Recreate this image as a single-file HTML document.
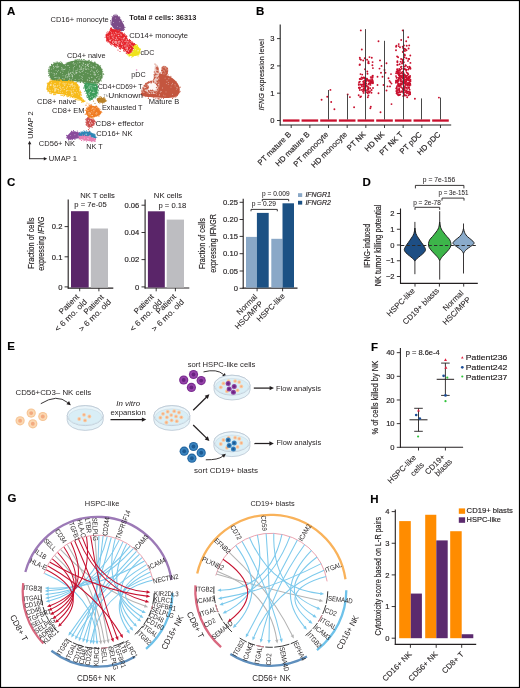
<!DOCTYPE html>
<html><head><meta charset="utf-8"><title>Figure</title>
<style>
html,body{margin:0;padding:0;background:#fff;}
body{width:520px;height:688px;overflow:hidden;}
svg{display:block;font-family:"Liberation Sans",sans-serif;will-change:transform;}
text{stroke:#231f20;stroke-width:0.16px;}
.xl{stroke-width:0.08px;}
.pv{stroke-width:0.05px;}
.ns text{stroke:none;}
</style></head><body>
<svg width="520" height="688" viewBox="0 0 520 688">
<rect x="0" y="0" width="520" height="688" fill="#fff"/>
<text x="7.00" y="15.30" font-size="11.5" text-anchor="start" font-weight="bold" font-style="normal" fill="#000" >A</text>
<text x="256.00" y="15.30" font-size="11.5" text-anchor="start" font-weight="bold" font-style="normal" fill="#000" >B</text>
<text x="7.00" y="185.60" font-size="11.5" text-anchor="start" font-weight="bold" font-style="normal" fill="#000" >C</text>
<text x="362.50" y="185.50" font-size="11.5" text-anchor="start" font-weight="bold" font-style="normal" fill="#000" >D</text>
<text x="7.20" y="350.20" font-size="11.5" text-anchor="start" font-weight="bold" font-style="normal" fill="#000" >E</text>
<text x="371.00" y="350.50" font-size="11.5" text-anchor="start" font-weight="bold" font-style="normal" fill="#000" >F</text>
<text x="7.50" y="502.40" font-size="11.5" text-anchor="start" font-weight="bold" font-style="normal" fill="#000" >G</text>
<text x="370.20" y="502.80" font-size="11.5" text-anchor="start" font-weight="bold" font-style="normal" fill="#000" >H</text>
<g class="ns">
<path d="M49.40,71.20 C49.47,69.45 49.82,67.73 50.50,66.50 C51.18,65.27 52.33,64.45 53.50,63.80 C54.67,63.15 56.17,62.70 57.50,62.60 C58.83,62.50 60.33,62.92 61.50,63.20 C62.67,63.48 63.58,64.33 64.50,64.30 C65.42,64.27 66.08,63.45 67.00,63.00 C67.92,62.55 68.83,61.97 70.00,61.60 C71.17,61.23 72.50,61.02 74.00,60.80 C75.50,60.58 77.33,60.33 79.00,60.30 C80.67,60.27 82.33,60.43 84.00,60.60 C85.67,60.77 87.13,60.88 89.00,61.30 C90.87,61.72 93.45,62.40 95.20,63.10 C96.95,63.80 98.40,64.52 99.50,65.50 C100.60,66.48 101.28,67.62 101.80,69.00 C102.32,70.38 102.60,72.22 102.60,73.80 C102.60,75.38 102.32,77.13 101.80,78.50 C101.28,79.87 100.30,81.17 99.50,82.00 C98.70,82.83 98.42,83.23 97.00,83.50 C95.58,83.77 92.83,83.78 91.00,83.60 C89.17,83.42 87.77,82.77 86.00,82.40 C84.23,82.03 82.47,81.60 80.40,81.40 C78.33,81.20 75.85,81.18 73.60,81.20 C71.35,81.22 69.13,81.50 66.90,81.50 C64.67,81.50 62.43,81.32 60.20,81.20 C57.97,81.08 55.18,81.50 53.50,80.80 C51.82,80.10 50.78,78.60 50.10,77.00 C49.42,75.40 49.33,72.95 49.40,71.20Z" fill="#5b8f50" stroke="none" stroke-width="1" />
<g fill="#5b8f50">
<circle cx="66.2" cy="63.0" r="0.55"/>
<circle cx="56.2" cy="62.1" r="0.55"/>
<circle cx="51.5" cy="64.4" r="0.55"/>
<circle cx="77.4" cy="81.6" r="0.55"/>
<circle cx="49.5" cy="71.0" r="0.55"/>
<circle cx="57.5" cy="62.1" r="0.55"/>
<circle cx="51.5" cy="78.8" r="0.55"/>
<circle cx="69.9" cy="81.5" r="0.55"/>
<circle cx="78.7" cy="81.8" r="0.55"/>
<circle cx="68.1" cy="81.8" r="0.55"/>
<circle cx="48.4" cy="69.9" r="0.55"/>
<circle cx="85.8" cy="60.5" r="0.55"/>
<circle cx="68.4" cy="62.3" r="0.55"/>
<circle cx="95.4" cy="84.6" r="0.55"/>
<circle cx="78.4" cy="59.8" r="0.55"/>
<circle cx="93.3" cy="84.4" r="0.55"/>
<circle cx="49.8" cy="66.3" r="0.55"/>
<circle cx="82.9" cy="82.2" r="0.55"/>
<circle cx="102.2" cy="69.3" r="0.55"/>
<circle cx="55.3" cy="63.0" r="0.55"/>
<circle cx="102.7" cy="76.0" r="0.55"/>
<circle cx="72.3" cy="81.5" r="0.55"/>
<circle cx="80.6" cy="82.3" r="0.55"/>
<circle cx="77.3" cy="59.6" r="0.55"/>
<circle cx="100.6" cy="65.8" r="0.55"/>
<circle cx="94.9" cy="62.6" r="0.55"/>
<circle cx="97.3" cy="84.0" r="0.55"/>
<circle cx="49.2" cy="67.6" r="0.55"/>
<circle cx="92.0" cy="84.1" r="0.55"/>
<circle cx="71.7" cy="82.5" r="0.55"/>
<circle cx="52.9" cy="81.1" r="0.55"/>
<circle cx="54.3" cy="63.2" r="0.55"/>
<circle cx="62.4" cy="63.3" r="0.55"/>
<circle cx="52.9" cy="80.7" r="0.55"/>
<circle cx="80.7" cy="82.0" r="0.55"/>
<circle cx="89.3" cy="84.2" r="0.55"/>
<circle cx="79.8" cy="59.4" r="0.55"/>
<circle cx="97.9" cy="64.2" r="0.55"/>
<circle cx="49.2" cy="70.9" r="0.55"/>
<circle cx="93.8" cy="84.0" r="0.55"/>
<circle cx="61.1" cy="82.2" r="0.55"/>
<circle cx="75.2" cy="59.7" r="0.55"/>
<circle cx="48.4" cy="71.7" r="0.55"/>
<circle cx="94.9" cy="62.2" r="0.55"/>
<circle cx="103.7" cy="74.2" r="0.55"/>
<circle cx="83.3" cy="82.6" r="0.55"/>
<circle cx="88.2" cy="60.4" r="0.55"/>
<circle cx="59.8" cy="82.4" r="0.55"/>
<circle cx="79.9" cy="81.9" r="0.55"/>
<circle cx="101.2" cy="80.9" r="0.55"/>
<circle cx="50.0" cy="77.3" r="0.55"/>
<circle cx="54.3" cy="63.1" r="0.55"/>
<circle cx="81.6" cy="59.4" r="0.55"/>
<circle cx="85.3" cy="82.9" r="0.55"/>
<circle cx="85.2" cy="83.5" r="0.55"/>
<circle cx="91.7" cy="61.1" r="0.55"/>
<circle cx="97.3" cy="84.5" r="0.55"/>
<circle cx="56.7" cy="81.8" r="0.55"/>
<circle cx="50.4" cy="66.6" r="0.55"/>
<circle cx="96.3" cy="84.7" r="0.55"/>
<circle cx="70.8" cy="81.8" r="0.55"/>
<circle cx="49.0" cy="73.3" r="0.55"/>
<circle cx="83.8" cy="82.5" r="0.55"/>
<circle cx="92.9" cy="83.9" r="0.55"/>
<circle cx="59.2" cy="62.4" r="0.55"/>
<circle cx="75.0" cy="60.5" r="0.55"/>
<circle cx="94.8" cy="62.1" r="0.55"/>
<circle cx="49.5" cy="75.0" r="0.55"/>
<circle cx="76.6" cy="60.1" r="0.55"/>
<circle cx="76.6" cy="60.5" r="0.55"/>
<circle cx="95.9" cy="84.7" r="0.55"/>
<circle cx="80.5" cy="81.8" r="0.55"/>
<circle cx="103.3" cy="73.9" r="0.55"/>
<circle cx="89.5" cy="60.3" r="0.55"/>
<circle cx="76.7" cy="82.1" r="0.55"/>
<circle cx="84.5" cy="59.7" r="0.55"/>
<circle cx="61.7" cy="62.9" r="0.55"/>
<circle cx="48.8" cy="75.7" r="0.55"/>
<circle cx="62.0" cy="82.3" r="0.55"/>
<circle cx="51.4" cy="79.1" r="0.55"/>
<circle cx="48.9" cy="73.3" r="0.55"/>
<circle cx="60.8" cy="61.8" r="0.55"/>
<circle cx="89.6" cy="83.4" r="0.55"/>
<circle cx="61.5" cy="82.4" r="0.55"/>
<circle cx="67.4" cy="62.7" r="0.55"/>
<circle cx="99.0" cy="83.4" r="0.55"/>
<circle cx="90.6" cy="84.2" r="0.55"/>
<circle cx="48.4" cy="71.7" r="0.55"/>
<circle cx="69.3" cy="81.8" r="0.55"/>
<circle cx="102.4" cy="77.8" r="0.55"/>
<circle cx="85.7" cy="83.0" r="0.55"/>
<circle cx="48.9" cy="69.9" r="0.55"/>
<circle cx="83.4" cy="59.5" r="0.55"/>
<circle cx="53.8" cy="62.8" r="0.55"/>
<circle cx="57.5" cy="82.0" r="0.55"/>
<circle cx="72.6" cy="81.8" r="0.55"/>
<circle cx="61.2" cy="62.7" r="0.55"/>
<circle cx="75.6" cy="60.6" r="0.55"/>
<circle cx="49.8" cy="74.8" r="0.55"/>
<circle cx="86.2" cy="83.0" r="0.55"/>
<circle cx="50.4" cy="77.7" r="0.55"/>
<circle cx="90.6" cy="61.7" r="0.55"/>
<circle cx="83.9" cy="83.1" r="0.55"/>
<circle cx="49.0" cy="69.0" r="0.55"/>
<circle cx="102.7" cy="71.3" r="0.55"/>
<circle cx="53.1" cy="81.4" r="0.55"/>
<circle cx="51.0" cy="79.0" r="0.55"/>
<circle cx="88.8" cy="61.3" r="0.55"/>
<circle cx="49.0" cy="75.8" r="0.55"/>
<circle cx="57.4" cy="81.2" r="0.55"/>
</g>
<g fill="#fff" opacity="0.8">
<circle cx="68.6" cy="73.9" r="0.45"/>
<circle cx="72.6" cy="76.5" r="0.45"/>
<circle cx="68.4" cy="75.7" r="0.45"/>
<circle cx="83.2" cy="69.8" r="0.45"/>
<circle cx="69.6" cy="79.3" r="0.45"/>
<circle cx="79.7" cy="66.6" r="0.45"/>
<circle cx="87.3" cy="80.4" r="0.45"/>
<circle cx="66.7" cy="74.7" r="0.45"/>
<circle cx="81.6" cy="67.0" r="0.45"/>
<circle cx="69.1" cy="76.7" r="0.45"/>
<circle cx="93.1" cy="66.4" r="0.45"/>
<circle cx="71.7" cy="74.2" r="0.45"/>
<circle cx="93.6" cy="81.9" r="0.45"/>
<circle cx="93.3" cy="81.4" r="0.45"/>
<circle cx="80.0" cy="66.1" r="0.45"/>
<circle cx="95.5" cy="79.8" r="0.45"/>
<circle cx="79.0" cy="79.6" r="0.45"/>
<circle cx="59.3" cy="78.4" r="0.45"/>
<circle cx="81.9" cy="76.5" r="0.45"/>
<circle cx="74.1" cy="64.4" r="0.45"/>
<circle cx="62.4" cy="78.4" r="0.45"/>
<circle cx="92.2" cy="70.9" r="0.45"/>
<circle cx="91.1" cy="65.1" r="0.45"/>
<circle cx="97.4" cy="72.5" r="0.45"/>
<circle cx="74.7" cy="74.2" r="0.45"/>
<circle cx="58.2" cy="77.1" r="0.45"/>
<circle cx="68.4" cy="73.6" r="0.45"/>
<circle cx="70.6" cy="72.4" r="0.45"/>
<circle cx="54.1" cy="75.4" r="0.45"/>
<circle cx="81.4" cy="68.0" r="0.45"/>
<circle cx="96.4" cy="71.6" r="0.45"/>
<circle cx="79.7" cy="65.8" r="0.45"/>
<circle cx="91.5" cy="70.0" r="0.45"/>
<circle cx="81.5" cy="69.3" r="0.45"/>
<circle cx="62.5" cy="73.6" r="0.45"/>
<circle cx="85.4" cy="69.2" r="0.45"/>
<circle cx="73.1" cy="63.2" r="0.45"/>
<circle cx="62.4" cy="68.1" r="0.45"/>
<circle cx="91.9" cy="77.3" r="0.45"/>
<circle cx="85.8" cy="66.8" r="0.45"/>
<circle cx="81.1" cy="78.6" r="0.45"/>
<circle cx="54.1" cy="67.4" r="0.45"/>
<circle cx="75.0" cy="63.4" r="0.45"/>
<circle cx="88.1" cy="64.1" r="0.45"/>
<circle cx="96.4" cy="81.9" r="0.45"/>
<circle cx="56.0" cy="70.6" r="0.45"/>
<circle cx="95.0" cy="75.2" r="0.45"/>
<circle cx="73.3" cy="67.8" r="0.45"/>
<circle cx="94.0" cy="71.4" r="0.45"/>
<circle cx="83.1" cy="62.8" r="0.45"/>
<circle cx="87.9" cy="73.3" r="0.45"/>
<circle cx="63.0" cy="69.7" r="0.45"/>
<circle cx="56.9" cy="66.1" r="0.45"/>
<circle cx="94.9" cy="67.7" r="0.45"/>
<circle cx="57.5" cy="71.7" r="0.45"/>
<circle cx="85.4" cy="64.5" r="0.45"/>
<circle cx="74.7" cy="66.5" r="0.45"/>
<circle cx="53.6" cy="66.5" r="0.45"/>
<circle cx="88.6" cy="66.6" r="0.45"/>
<circle cx="93.1" cy="67.9" r="0.45"/>
<circle cx="94.5" cy="72.6" r="0.45"/>
<circle cx="58.5" cy="70.3" r="0.45"/>
<circle cx="80.0" cy="62.6" r="0.45"/>
<circle cx="58.2" cy="78.9" r="0.45"/>
<circle cx="87.8" cy="64.2" r="0.45"/>
<circle cx="82.0" cy="71.8" r="0.45"/>
<circle cx="82.3" cy="77.3" r="0.45"/>
<circle cx="93.3" cy="74.1" r="0.45"/>
<circle cx="88.9" cy="69.6" r="0.45"/>
<circle cx="93.3" cy="67.7" r="0.45"/>
<circle cx="95.0" cy="81.3" r="0.45"/>
<circle cx="98.8" cy="71.3" r="0.45"/>
<circle cx="96.7" cy="65.9" r="0.45"/>
<circle cx="68.8" cy="74.4" r="0.45"/>
<circle cx="73.0" cy="72.4" r="0.45"/>
<circle cx="54.9" cy="77.5" r="0.45"/>
<circle cx="93.6" cy="81.3" r="0.45"/>
<circle cx="66.0" cy="77.4" r="0.45"/>
<circle cx="69.4" cy="78.4" r="0.45"/>
<circle cx="76.7" cy="72.7" r="0.45"/>
<circle cx="87.1" cy="64.1" r="0.45"/>
<circle cx="80.3" cy="72.5" r="0.45"/>
<circle cx="96.5" cy="77.5" r="0.45"/>
<circle cx="75.6" cy="72.0" r="0.45"/>
<circle cx="56.4" cy="73.8" r="0.45"/>
<circle cx="89.7" cy="63.3" r="0.45"/>
<circle cx="69.8" cy="69.9" r="0.45"/>
<circle cx="94.9" cy="72.6" r="0.45"/>
<circle cx="91.4" cy="67.8" r="0.45"/>
<circle cx="61.6" cy="67.7" r="0.45"/>
<circle cx="93.5" cy="80.9" r="0.45"/>
<circle cx="51.2" cy="72.4" r="0.45"/>
<circle cx="62.1" cy="69.9" r="0.45"/>
<circle cx="83.4" cy="68.5" r="0.45"/>
<circle cx="72.3" cy="72.1" r="0.45"/>
<circle cx="100.3" cy="75.4" r="0.45"/>
<circle cx="93.2" cy="81.8" r="0.45"/>
<circle cx="83.9" cy="65.9" r="0.45"/>
<circle cx="85.9" cy="66.1" r="0.45"/>
<circle cx="82.7" cy="65.5" r="0.45"/>
<circle cx="77.1" cy="70.2" r="0.45"/>
<circle cx="65.2" cy="75.7" r="0.45"/>
<circle cx="54.9" cy="74.4" r="0.45"/>
<circle cx="63.1" cy="71.1" r="0.45"/>
<circle cx="77.9" cy="62.9" r="0.45"/>
<circle cx="64.5" cy="69.5" r="0.45"/>
<circle cx="53.1" cy="73.1" r="0.45"/>
<circle cx="94.9" cy="74.8" r="0.45"/>
<circle cx="79.9" cy="75.8" r="0.45"/>
<circle cx="59.4" cy="77.4" r="0.45"/>
<circle cx="73.8" cy="73.2" r="0.45"/>
<circle cx="82.3" cy="71.2" r="0.45"/>
<circle cx="65.5" cy="65.3" r="0.45"/>
<circle cx="60.5" cy="72.3" r="0.45"/>
<circle cx="69.5" cy="74.2" r="0.45"/>
<circle cx="96.1" cy="65.2" r="0.45"/>
<circle cx="79.1" cy="71.7" r="0.45"/>
<circle cx="64.6" cy="78.9" r="0.45"/>
<circle cx="96.6" cy="70.4" r="0.45"/>
<circle cx="51.6" cy="69.1" r="0.45"/>
<circle cx="72.7" cy="78.0" r="0.45"/>
<circle cx="56.8" cy="67.8" r="0.45"/>
<circle cx="67.8" cy="76.5" r="0.45"/>
<circle cx="93.9" cy="72.4" r="0.45"/>
<circle cx="89.3" cy="78.2" r="0.45"/>
<circle cx="90.4" cy="71.3" r="0.45"/>
<circle cx="91.8" cy="77.3" r="0.45"/>
<circle cx="90.8" cy="74.2" r="0.45"/>
<circle cx="80.0" cy="69.8" r="0.45"/>
<circle cx="91.8" cy="81.5" r="0.45"/>
<circle cx="82.0" cy="68.9" r="0.45"/>
<circle cx="73.3" cy="70.9" r="0.45"/>
<circle cx="88.4" cy="66.6" r="0.45"/>
<circle cx="69.9" cy="73.4" r="0.45"/>
<circle cx="69.6" cy="67.4" r="0.45"/>
<circle cx="92.0" cy="80.9" r="0.45"/>
<circle cx="76.0" cy="70.5" r="0.45"/>
<circle cx="58.4" cy="66.9" r="0.45"/>
<circle cx="56.3" cy="73.9" r="0.45"/>
<circle cx="95.1" cy="80.6" r="0.45"/>
<circle cx="79.6" cy="71.9" r="0.45"/>
<circle cx="99.4" cy="79.0" r="0.45"/>
<circle cx="77.0" cy="72.4" r="0.45"/>
<circle cx="86.3" cy="69.1" r="0.45"/>
<circle cx="68.1" cy="74.4" r="0.45"/>
<circle cx="85.8" cy="72.6" r="0.45"/>
<circle cx="53.7" cy="68.7" r="0.45"/>
<circle cx="70.5" cy="73.5" r="0.45"/>
<circle cx="72.7" cy="75.2" r="0.45"/>
<circle cx="57.7" cy="67.3" r="0.45"/>
<circle cx="97.9" cy="76.8" r="0.45"/>
<circle cx="97.6" cy="69.9" r="0.45"/>
<circle cx="56.9" cy="66.6" r="0.45"/>
<circle cx="76.6" cy="72.1" r="0.45"/>
<circle cx="83.2" cy="74.6" r="0.45"/>
<circle cx="71.1" cy="79.3" r="0.45"/>
<circle cx="65.3" cy="76.9" r="0.45"/>
<circle cx="95.0" cy="74.2" r="0.45"/>
<circle cx="85.3" cy="64.2" r="0.45"/>
<circle cx="75.9" cy="73.3" r="0.45"/>
<circle cx="63.0" cy="75.7" r="0.45"/>
<circle cx="80.1" cy="69.7" r="0.45"/>
<circle cx="82.3" cy="79.8" r="0.45"/>
<circle cx="91.0" cy="67.4" r="0.45"/>
<circle cx="88.0" cy="68.2" r="0.45"/>
<circle cx="57.6" cy="66.0" r="0.45"/>
<circle cx="80.6" cy="68.1" r="0.45"/>
<circle cx="73.2" cy="69.0" r="0.45"/>
<circle cx="72.6" cy="75.0" r="0.45"/>
<circle cx="93.6" cy="66.9" r="0.45"/>
<circle cx="61.7" cy="69.1" r="0.45"/>
<circle cx="88.1" cy="64.8" r="0.45"/>
<circle cx="75.1" cy="79.5" r="0.45"/>
<circle cx="79.4" cy="62.1" r="0.45"/>
<circle cx="77.9" cy="69.0" r="0.45"/>
<circle cx="67.7" cy="65.4" r="0.45"/>
<circle cx="58.8" cy="66.4" r="0.45"/>
<circle cx="85.1" cy="67.9" r="0.45"/>
<circle cx="56.9" cy="77.2" r="0.45"/>
<circle cx="53.4" cy="66.0" r="0.45"/>
<circle cx="67.8" cy="77.7" r="0.45"/>
<circle cx="76.3" cy="64.9" r="0.45"/>
<circle cx="73.4" cy="62.5" r="0.45"/>
<circle cx="87.5" cy="65.8" r="0.45"/>
<circle cx="98.2" cy="74.2" r="0.45"/>
<circle cx="68.7" cy="65.4" r="0.45"/>
<circle cx="82.0" cy="64.6" r="0.45"/>
<circle cx="76.7" cy="73.0" r="0.45"/>
<circle cx="63.2" cy="78.9" r="0.45"/>
<circle cx="69.6" cy="76.0" r="0.45"/>
<circle cx="79.8" cy="67.1" r="0.45"/>
<circle cx="66.0" cy="76.1" r="0.45"/>
<circle cx="54.3" cy="73.5" r="0.45"/>
<circle cx="68.3" cy="72.0" r="0.45"/>
<circle cx="55.2" cy="77.5" r="0.45"/>
<circle cx="63.9" cy="69.5" r="0.45"/>
<circle cx="98.7" cy="79.0" r="0.45"/>
<circle cx="97.3" cy="81.2" r="0.45"/>
<circle cx="55.5" cy="66.2" r="0.45"/>
<circle cx="85.1" cy="68.1" r="0.45"/>
<circle cx="71.1" cy="76.0" r="0.45"/>
<circle cx="87.1" cy="65.5" r="0.45"/>
<circle cx="95.3" cy="68.1" r="0.45"/>
<circle cx="83.2" cy="63.8" r="0.45"/>
<circle cx="89.0" cy="77.4" r="0.45"/>
<circle cx="57.2" cy="64.2" r="0.45"/>
<circle cx="65.1" cy="68.9" r="0.45"/>
<circle cx="83.7" cy="63.7" r="0.45"/>
<circle cx="94.9" cy="73.8" r="0.45"/>
<circle cx="88.0" cy="65.6" r="0.45"/>
<circle cx="72.4" cy="76.7" r="0.45"/>
<circle cx="94.6" cy="79.1" r="0.45"/>
<circle cx="95.7" cy="74.7" r="0.45"/>
<circle cx="86.8" cy="69.2" r="0.45"/>
<circle cx="89.8" cy="80.4" r="0.45"/>
<circle cx="99.9" cy="76.9" r="0.45"/>
<circle cx="89.3" cy="80.4" r="0.45"/>
<circle cx="83.1" cy="70.7" r="0.45"/>
<circle cx="72.0" cy="72.3" r="0.45"/>
<circle cx="87.3" cy="79.8" r="0.45"/>
</g>
<path d="M49.40,81.20 C50.98,80.10 53.73,80.72 56.20,80.70 C58.67,80.68 61.52,80.95 64.20,81.10 C66.88,81.25 70.05,81.03 72.30,81.60 C74.55,82.17 76.47,82.88 77.70,84.50 C78.93,86.12 79.25,89.35 79.70,91.30 C80.15,93.25 79.62,94.70 80.40,96.20 C81.18,97.70 83.95,99.25 84.40,100.30 C84.85,101.35 84.00,102.62 83.10,102.50 C82.20,102.38 80.58,100.45 79.00,99.60 C77.42,98.75 75.62,98.10 73.60,97.40 C71.58,96.70 69.13,95.97 66.90,95.40 C64.67,94.83 62.43,94.33 60.20,94.00 C57.97,93.67 55.52,93.85 53.50,93.40 C51.48,92.95 49.23,92.32 48.10,91.30 C46.97,90.28 46.48,88.98 46.70,87.30 C46.92,85.62 47.82,82.30 49.40,81.20Z" fill="#f7bb1a" stroke="none" stroke-width="1" />
<g fill="#f7bb1a">
<circle cx="51.2" cy="93.1" r="0.55"/>
<circle cx="76.2" cy="99.6" r="0.55"/>
<circle cx="79.2" cy="86.7" r="0.55"/>
<circle cx="78.6" cy="87.2" r="0.55"/>
<circle cx="55.1" cy="80.5" r="0.55"/>
<circle cx="81.8" cy="102.4" r="0.55"/>
<circle cx="79.2" cy="100.2" r="0.55"/>
<circle cx="84.4" cy="101.5" r="0.55"/>
<circle cx="81.2" cy="92.8" r="0.55"/>
<circle cx="67.6" cy="96.8" r="0.55"/>
<circle cx="75.9" cy="82.3" r="0.55"/>
<circle cx="76.6" cy="82.8" r="0.55"/>
<circle cx="81.1" cy="94.5" r="0.55"/>
<circle cx="80.5" cy="93.1" r="0.55"/>
<circle cx="50.1" cy="80.0" r="0.55"/>
<circle cx="80.6" cy="92.5" r="0.55"/>
<circle cx="79.4" cy="89.0" r="0.55"/>
<circle cx="80.5" cy="94.3" r="0.55"/>
<circle cx="69.1" cy="80.6" r="0.55"/>
<circle cx="58.9" cy="80.0" r="0.55"/>
<circle cx="47.3" cy="83.0" r="0.55"/>
<circle cx="55.8" cy="80.1" r="0.55"/>
<circle cx="69.6" cy="81.4" r="0.55"/>
<circle cx="80.6" cy="95.0" r="0.55"/>
<circle cx="64.1" cy="79.8" r="0.55"/>
<circle cx="70.1" cy="97.0" r="0.55"/>
<circle cx="74.0" cy="98.0" r="0.55"/>
<circle cx="64.6" cy="95.4" r="0.55"/>
<circle cx="47.9" cy="91.6" r="0.55"/>
<circle cx="52.0" cy="80.2" r="0.55"/>
<circle cx="75.6" cy="99.4" r="0.55"/>
<circle cx="57.4" cy="80.1" r="0.55"/>
<circle cx="72.9" cy="81.7" r="0.55"/>
<circle cx="60.0" cy="79.8" r="0.55"/>
<circle cx="55.7" cy="94.3" r="0.55"/>
<circle cx="54.9" cy="94.7" r="0.55"/>
<circle cx="54.5" cy="94.3" r="0.55"/>
<circle cx="78.1" cy="85.3" r="0.55"/>
<circle cx="64.0" cy="95.0" r="0.55"/>
<circle cx="75.9" cy="83.1" r="0.55"/>
<circle cx="60.8" cy="79.9" r="0.55"/>
<circle cx="47.8" cy="83.8" r="0.55"/>
<circle cx="60.4" cy="80.6" r="0.55"/>
<circle cx="61.9" cy="95.2" r="0.55"/>
<circle cx="72.4" cy="97.4" r="0.55"/>
<circle cx="61.6" cy="80.5" r="0.55"/>
<circle cx="79.9" cy="92.9" r="0.55"/>
<circle cx="53.6" cy="80.8" r="0.55"/>
<circle cx="77.6" cy="84.3" r="0.55"/>
<circle cx="71.1" cy="80.7" r="0.55"/>
<circle cx="62.1" cy="95.4" r="0.55"/>
<circle cx="61.2" cy="80.3" r="0.55"/>
<circle cx="60.7" cy="95.0" r="0.55"/>
<circle cx="71.8" cy="80.7" r="0.55"/>
<circle cx="50.8" cy="93.5" r="0.55"/>
<circle cx="80.5" cy="91.1" r="0.55"/>
<circle cx="68.4" cy="96.2" r="0.55"/>
<circle cx="46.7" cy="89.0" r="0.55"/>
<circle cx="55.4" cy="94.0" r="0.55"/>
<circle cx="53.5" cy="94.6" r="0.55"/>
<circle cx="75.4" cy="82.8" r="0.55"/>
<circle cx="81.8" cy="97.5" r="0.55"/>
<circle cx="49.5" cy="92.9" r="0.55"/>
<circle cx="80.1" cy="91.9" r="0.55"/>
<circle cx="81.3" cy="95.6" r="0.55"/>
<circle cx="66.4" cy="95.9" r="0.55"/>
<circle cx="51.3" cy="93.7" r="0.55"/>
<circle cx="68.6" cy="80.6" r="0.55"/>
<circle cx="67.9" cy="95.7" r="0.55"/>
<circle cx="77.1" cy="99.8" r="0.55"/>
<circle cx="75.3" cy="99.4" r="0.55"/>
<circle cx="73.5" cy="81.2" r="0.55"/>
<circle cx="79.1" cy="87.4" r="0.55"/>
<circle cx="70.8" cy="97.0" r="0.55"/>
<circle cx="63.7" cy="96.0" r="0.55"/>
<circle cx="68.0" cy="96.5" r="0.55"/>
<circle cx="47.3" cy="83.7" r="0.55"/>
<circle cx="78.1" cy="99.9" r="0.55"/>
<circle cx="50.9" cy="79.8" r="0.55"/>
<circle cx="54.1" cy="93.7" r="0.55"/>
</g>
<g fill="#fff" opacity="0.8">
<circle cx="48.3" cy="87.3" r="0.45"/>
<circle cx="53.7" cy="85.4" r="0.45"/>
<circle cx="50.6" cy="84.3" r="0.45"/>
<circle cx="64.4" cy="89.2" r="0.45"/>
<circle cx="73.3" cy="90.9" r="0.45"/>
<circle cx="54.7" cy="89.0" r="0.45"/>
<circle cx="67.4" cy="86.5" r="0.45"/>
<circle cx="71.6" cy="84.5" r="0.45"/>
<circle cx="60.2" cy="86.8" r="0.45"/>
<circle cx="73.3" cy="94.0" r="0.45"/>
<circle cx="66.4" cy="90.5" r="0.45"/>
<circle cx="82.1" cy="99.8" r="0.45"/>
<circle cx="55.6" cy="86.8" r="0.45"/>
<circle cx="59.5" cy="87.4" r="0.45"/>
<circle cx="49.3" cy="90.2" r="0.45"/>
<circle cx="75.7" cy="86.1" r="0.45"/>
<circle cx="55.5" cy="89.5" r="0.45"/>
<circle cx="77.4" cy="92.4" r="0.45"/>
<circle cx="60.2" cy="92.5" r="0.45"/>
<circle cx="52.6" cy="90.1" r="0.45"/>
<circle cx="55.5" cy="85.7" r="0.45"/>
<circle cx="53.9" cy="85.8" r="0.45"/>
<circle cx="60.0" cy="82.9" r="0.45"/>
<circle cx="57.7" cy="89.4" r="0.45"/>
<circle cx="73.1" cy="90.3" r="0.45"/>
<circle cx="72.4" cy="86.2" r="0.45"/>
<circle cx="71.9" cy="93.7" r="0.45"/>
<circle cx="72.0" cy="83.9" r="0.45"/>
<circle cx="71.7" cy="93.3" r="0.45"/>
<circle cx="55.6" cy="88.4" r="0.45"/>
<circle cx="56.9" cy="88.7" r="0.45"/>
<circle cx="53.3" cy="84.8" r="0.45"/>
<circle cx="60.9" cy="88.3" r="0.45"/>
<circle cx="71.2" cy="90.9" r="0.45"/>
<circle cx="64.7" cy="83.7" r="0.45"/>
<circle cx="54.8" cy="90.2" r="0.45"/>
<circle cx="60.0" cy="90.9" r="0.45"/>
<circle cx="75.3" cy="93.1" r="0.45"/>
<circle cx="55.1" cy="83.6" r="0.45"/>
<circle cx="48.8" cy="85.9" r="0.45"/>
<circle cx="63.7" cy="87.2" r="0.45"/>
<circle cx="60.0" cy="82.4" r="0.45"/>
<circle cx="71.7" cy="92.0" r="0.45"/>
<circle cx="75.2" cy="92.5" r="0.45"/>
<circle cx="54.9" cy="91.6" r="0.45"/>
<circle cx="63.1" cy="82.9" r="0.45"/>
<circle cx="54.8" cy="91.0" r="0.45"/>
<circle cx="70.4" cy="84.7" r="0.45"/>
<circle cx="58.4" cy="89.3" r="0.45"/>
<circle cx="55.8" cy="90.5" r="0.45"/>
<circle cx="51.0" cy="85.3" r="0.45"/>
<circle cx="51.5" cy="82.8" r="0.45"/>
<circle cx="66.4" cy="93.6" r="0.45"/>
<circle cx="54.9" cy="83.6" r="0.45"/>
<circle cx="69.0" cy="90.4" r="0.45"/>
<circle cx="57.1" cy="86.5" r="0.45"/>
<circle cx="62.3" cy="92.3" r="0.45"/>
<circle cx="71.7" cy="91.9" r="0.45"/>
<circle cx="50.2" cy="85.4" r="0.45"/>
<circle cx="71.9" cy="93.7" r="0.45"/>
<circle cx="68.4" cy="83.9" r="0.45"/>
<circle cx="73.3" cy="85.7" r="0.45"/>
<circle cx="55.0" cy="88.4" r="0.45"/>
<circle cx="70.5" cy="90.9" r="0.45"/>
<circle cx="71.5" cy="83.9" r="0.45"/>
<circle cx="54.8" cy="89.9" r="0.45"/>
<circle cx="75.0" cy="88.2" r="0.45"/>
<circle cx="50.6" cy="84.9" r="0.45"/>
<circle cx="54.1" cy="85.9" r="0.45"/>
<circle cx="61.8" cy="89.7" r="0.45"/>
<circle cx="63.0" cy="83.7" r="0.45"/>
<circle cx="72.6" cy="83.4" r="0.45"/>
<circle cx="71.2" cy="94.9" r="0.45"/>
<circle cx="57.6" cy="85.7" r="0.45"/>
<circle cx="78.4" cy="94.0" r="0.45"/>
<circle cx="69.1" cy="84.3" r="0.45"/>
<circle cx="74.6" cy="86.1" r="0.45"/>
<circle cx="58.9" cy="92.1" r="0.45"/>
<circle cx="58.3" cy="89.6" r="0.45"/>
<circle cx="64.7" cy="85.8" r="0.45"/>
<circle cx="74.7" cy="87.8" r="0.45"/>
<circle cx="65.2" cy="84.1" r="0.45"/>
<circle cx="73.3" cy="88.8" r="0.45"/>
<circle cx="74.3" cy="85.1" r="0.45"/>
<circle cx="72.1" cy="93.2" r="0.45"/>
<circle cx="51.0" cy="84.2" r="0.45"/>
<circle cx="70.9" cy="85.3" r="0.45"/>
<circle cx="55.9" cy="89.7" r="0.45"/>
<circle cx="54.4" cy="86.5" r="0.45"/>
<circle cx="53.7" cy="87.0" r="0.45"/>
<circle cx="72.1" cy="85.8" r="0.45"/>
<circle cx="51.8" cy="85.0" r="0.45"/>
<circle cx="66.1" cy="83.2" r="0.45"/>
<circle cx="64.0" cy="84.3" r="0.45"/>
<circle cx="66.4" cy="88.3" r="0.45"/>
<circle cx="74.2" cy="92.3" r="0.45"/>
<circle cx="64.9" cy="85.6" r="0.45"/>
<circle cx="72.3" cy="84.9" r="0.45"/>
<circle cx="58.3" cy="91.0" r="0.45"/>
<circle cx="60.4" cy="90.3" r="0.45"/>
<circle cx="50.7" cy="90.8" r="0.45"/>
<circle cx="70.3" cy="86.8" r="0.45"/>
<circle cx="76.4" cy="90.1" r="0.45"/>
<circle cx="48.9" cy="89.0" r="0.45"/>
<circle cx="62.6" cy="87.7" r="0.45"/>
<circle cx="50.4" cy="85.4" r="0.45"/>
<circle cx="69.7" cy="86.5" r="0.45"/>
<circle cx="59.1" cy="85.5" r="0.45"/>
<circle cx="55.7" cy="90.9" r="0.45"/>
<circle cx="59.2" cy="84.0" r="0.45"/>
<circle cx="56.2" cy="88.4" r="0.45"/>
<circle cx="60.5" cy="88.0" r="0.45"/>
<circle cx="71.8" cy="88.7" r="0.45"/>
<circle cx="67.1" cy="87.6" r="0.45"/>
<circle cx="72.6" cy="95.3" r="0.45"/>
<circle cx="67.5" cy="90.5" r="0.45"/>
<circle cx="54.1" cy="87.7" r="0.45"/>
<circle cx="64.0" cy="89.2" r="0.45"/>
<circle cx="66.3" cy="91.2" r="0.45"/>
<circle cx="72.2" cy="84.5" r="0.45"/>
</g>
<path d="M85.80,83.30 C87.37,82.73 91.78,83.45 93.80,83.90 C95.82,84.35 97.33,84.77 97.90,86.00 C98.47,87.23 97.43,89.73 97.20,91.30 C96.97,92.87 97.07,94.27 96.50,95.40 C95.93,96.53 94.92,97.43 93.80,98.10 C92.68,98.77 90.80,99.63 89.80,99.40 C88.80,99.17 88.47,98.05 87.80,96.70 C87.13,95.35 86.37,92.87 85.80,91.30 C85.23,89.73 84.40,88.63 84.40,87.30 C84.40,85.97 84.23,83.87 85.80,83.30Z" fill="#3c9d5b" stroke="none" stroke-width="1" />
<g fill="#3c9d5b">
<circle cx="86.7" cy="95.9" r="0.55"/>
<circle cx="97.7" cy="92.3" r="0.55"/>
<circle cx="89.0" cy="99.2" r="0.55"/>
<circle cx="86.5" cy="82.5" r="0.55"/>
<circle cx="91.3" cy="99.4" r="0.55"/>
<circle cx="92.8" cy="98.8" r="0.55"/>
<circle cx="87.5" cy="97.6" r="0.55"/>
<circle cx="98.2" cy="90.3" r="0.55"/>
<circle cx="84.6" cy="83.4" r="0.55"/>
<circle cx="85.5" cy="90.6" r="0.55"/>
<circle cx="84.6" cy="85.7" r="0.55"/>
<circle cx="90.2" cy="100.1" r="0.55"/>
<circle cx="90.9" cy="99.6" r="0.55"/>
<circle cx="96.7" cy="95.6" r="0.55"/>
<circle cx="97.8" cy="89.5" r="0.55"/>
<circle cx="83.6" cy="88.1" r="0.55"/>
<circle cx="89.0" cy="98.7" r="0.55"/>
<circle cx="98.0" cy="93.9" r="0.55"/>
<circle cx="89.0" cy="99.0" r="0.55"/>
<circle cx="84.1" cy="87.0" r="0.55"/>
<circle cx="92.0" cy="99.2" r="0.55"/>
<circle cx="95.1" cy="98.0" r="0.55"/>
<circle cx="97.1" cy="96.0" r="0.55"/>
<circle cx="85.0" cy="85.1" r="0.55"/>
<circle cx="86.1" cy="93.4" r="0.55"/>
<circle cx="94.0" cy="82.7" r="0.55"/>
<circle cx="97.2" cy="93.2" r="0.55"/>
<circle cx="97.7" cy="92.5" r="0.55"/>
<circle cx="89.7" cy="99.9" r="0.55"/>
<circle cx="95.7" cy="97.3" r="0.55"/>
<circle cx="92.3" cy="98.9" r="0.55"/>
<circle cx="95.6" cy="84.0" r="0.55"/>
<circle cx="84.8" cy="91.2" r="0.55"/>
<circle cx="89.1" cy="99.1" r="0.55"/>
<circle cx="96.1" cy="96.1" r="0.55"/>
<circle cx="89.6" cy="99.7" r="0.55"/>
<circle cx="94.0" cy="83.1" r="0.55"/>
<circle cx="87.2" cy="97.2" r="0.55"/>
<circle cx="96.2" cy="84.3" r="0.55"/>
<circle cx="98.0" cy="90.9" r="0.55"/>
</g>
<g fill="#fff" opacity="0.8">
<circle cx="95.7" cy="86.7" r="0.45"/>
<circle cx="93.2" cy="92.0" r="0.45"/>
<circle cx="95.0" cy="86.4" r="0.45"/>
<circle cx="90.6" cy="97.3" r="0.45"/>
<circle cx="92.0" cy="89.6" r="0.45"/>
<circle cx="90.7" cy="91.2" r="0.45"/>
<circle cx="87.5" cy="88.9" r="0.45"/>
<circle cx="92.0" cy="96.2" r="0.45"/>
<circle cx="91.9" cy="87.9" r="0.45"/>
<circle cx="93.2" cy="92.5" r="0.45"/>
<circle cx="93.3" cy="92.1" r="0.45"/>
<circle cx="88.9" cy="93.3" r="0.45"/>
<circle cx="92.0" cy="85.9" r="0.45"/>
<circle cx="91.4" cy="88.1" r="0.45"/>
<circle cx="89.0" cy="94.3" r="0.45"/>
<circle cx="94.7" cy="92.3" r="0.45"/>
<circle cx="92.6" cy="96.9" r="0.45"/>
<circle cx="92.3" cy="92.5" r="0.45"/>
<circle cx="89.8" cy="92.2" r="0.45"/>
<circle cx="89.9" cy="86.5" r="0.45"/>
<circle cx="95.2" cy="86.6" r="0.45"/>
<circle cx="89.4" cy="88.3" r="0.45"/>
<circle cx="95.4" cy="86.2" r="0.45"/>
<circle cx="90.4" cy="91.4" r="0.45"/>
<circle cx="89.9" cy="87.8" r="0.45"/>
<circle cx="87.1" cy="85.0" r="0.45"/>
<circle cx="88.1" cy="88.1" r="0.45"/>
<circle cx="90.0" cy="85.2" r="0.45"/>
<circle cx="95.0" cy="95.4" r="0.45"/>
<circle cx="93.8" cy="90.1" r="0.45"/>
<circle cx="86.7" cy="89.5" r="0.45"/>
<circle cx="88.5" cy="87.0" r="0.45"/>
<circle cx="93.9" cy="86.2" r="0.45"/>
<circle cx="89.6" cy="94.8" r="0.45"/>
<circle cx="91.0" cy="85.7" r="0.45"/>
</g>
<path d="M97.00,98.50 C97.58,97.88 99.75,97.78 101.00,97.80 C102.25,97.82 103.67,98.15 104.50,98.60 C105.33,99.05 106.00,99.83 106.00,100.50 C106.00,101.17 105.42,102.22 104.50,102.60 C103.58,102.98 101.67,102.98 100.50,102.80 C99.33,102.62 98.08,102.22 97.50,101.50 C96.92,100.78 96.42,99.12 97.00,98.50Z" fill="#b98128" stroke="none" stroke-width="1" />
<g fill="#b98128">
<circle cx="105.0" cy="98.8" r="0.55"/>
<circle cx="101.2" cy="97.6" r="0.55"/>
<circle cx="101.3" cy="97.5" r="0.55"/>
<circle cx="102.4" cy="103.8" r="0.55"/>
<circle cx="99.5" cy="97.0" r="0.55"/>
<circle cx="100.8" cy="96.6" r="0.55"/>
<circle cx="105.7" cy="101.3" r="0.55"/>
<circle cx="104.0" cy="97.5" r="0.55"/>
<circle cx="99.8" cy="103.1" r="0.55"/>
<circle cx="106.6" cy="100.8" r="0.55"/>
<circle cx="103.4" cy="98.0" r="0.55"/>
<circle cx="103.9" cy="102.7" r="0.55"/>
<circle cx="104.2" cy="98.1" r="0.55"/>
<circle cx="98.5" cy="102.4" r="0.55"/>
<circle cx="98.9" cy="97.1" r="0.55"/>
</g>
<path d="M86.90,108.70 C87.37,107.90 87.83,107.18 88.80,106.70 C89.77,106.22 91.57,105.80 92.70,105.80 C93.83,105.80 94.63,106.15 95.60,106.70 C96.57,107.25 97.55,108.22 98.50,109.10 C99.45,109.98 100.98,111.12 101.30,112.00 C101.62,112.88 101.20,113.68 100.40,114.40 C99.60,115.12 97.78,115.73 96.50,116.30 C95.22,116.87 93.98,117.72 92.70,117.80 C91.42,117.88 89.85,117.37 88.80,116.80 C87.75,116.23 86.87,115.28 86.40,114.40 C85.93,113.52 85.92,112.45 86.00,111.50 C86.08,110.55 86.43,109.50 86.90,108.70Z" fill="#f07c22" stroke="none" stroke-width="1" />
<g fill="#f07c22">
<circle cx="91.2" cy="105.1" r="0.55"/>
<circle cx="101.8" cy="112.2" r="0.55"/>
<circle cx="90.8" cy="106.2" r="0.55"/>
<circle cx="98.9" cy="115.2" r="0.55"/>
<circle cx="88.0" cy="106.9" r="0.55"/>
<circle cx="89.8" cy="117.9" r="0.55"/>
<circle cx="99.9" cy="109.4" r="0.55"/>
<circle cx="85.2" cy="110.2" r="0.55"/>
<circle cx="85.2" cy="114.3" r="0.55"/>
<circle cx="88.3" cy="116.9" r="0.55"/>
<circle cx="90.5" cy="105.1" r="0.55"/>
<circle cx="87.0" cy="107.7" r="0.55"/>
<circle cx="91.2" cy="117.6" r="0.55"/>
<circle cx="89.1" cy="116.9" r="0.55"/>
<circle cx="91.5" cy="105.1" r="0.55"/>
<circle cx="98.9" cy="116.3" r="0.55"/>
<circle cx="93.3" cy="118.8" r="0.55"/>
<circle cx="85.8" cy="110.1" r="0.55"/>
<circle cx="92.6" cy="118.9" r="0.55"/>
<circle cx="88.5" cy="117.2" r="0.55"/>
<circle cx="89.8" cy="105.8" r="0.55"/>
<circle cx="96.2" cy="106.6" r="0.55"/>
<circle cx="96.4" cy="106.1" r="0.55"/>
<circle cx="95.8" cy="106.3" r="0.55"/>
<circle cx="89.7" cy="117.8" r="0.55"/>
<circle cx="98.9" cy="108.6" r="0.55"/>
<circle cx="97.8" cy="107.9" r="0.55"/>
<circle cx="101.1" cy="111.4" r="0.55"/>
<circle cx="86.5" cy="108.6" r="0.55"/>
<circle cx="95.9" cy="106.4" r="0.55"/>
<circle cx="98.6" cy="108.8" r="0.55"/>
<circle cx="96.8" cy="116.3" r="0.55"/>
<circle cx="88.7" cy="117.1" r="0.55"/>
<circle cx="98.6" cy="109.0" r="0.55"/>
<circle cx="97.7" cy="107.9" r="0.55"/>
<circle cx="86.0" cy="113.9" r="0.55"/>
<circle cx="97.0" cy="106.8" r="0.55"/>
<circle cx="89.2" cy="105.8" r="0.55"/>
<circle cx="89.3" cy="105.8" r="0.55"/>
<circle cx="90.6" cy="106.2" r="0.55"/>
</g>
<g fill="#fff" opacity="0.8">
<circle cx="91.7" cy="109.1" r="0.45"/>
<circle cx="93.9" cy="110.9" r="0.45"/>
<circle cx="92.5" cy="115.7" r="0.45"/>
<circle cx="88.0" cy="110.5" r="0.45"/>
<circle cx="96.5" cy="112.7" r="0.45"/>
<circle cx="93.0" cy="112.9" r="0.45"/>
<circle cx="89.1" cy="112.6" r="0.45"/>
<circle cx="95.9" cy="113.7" r="0.45"/>
<circle cx="88.4" cy="113.9" r="0.45"/>
<circle cx="96.4" cy="114.1" r="0.45"/>
<circle cx="90.6" cy="113.2" r="0.45"/>
<circle cx="91.8" cy="111.8" r="0.45"/>
<circle cx="94.1" cy="108.9" r="0.45"/>
<circle cx="92.5" cy="107.9" r="0.45"/>
<circle cx="91.8" cy="115.5" r="0.45"/>
<circle cx="92.6" cy="115.6" r="0.45"/>
<circle cx="94.0" cy="110.7" r="0.45"/>
<circle cx="89.0" cy="112.7" r="0.45"/>
<circle cx="90.2" cy="113.0" r="0.45"/>
<circle cx="90.1" cy="114.9" r="0.45"/>
<circle cx="97.1" cy="113.1" r="0.45"/>
<circle cx="92.5" cy="108.7" r="0.45"/>
<circle cx="95.2" cy="108.9" r="0.45"/>
<circle cx="89.7" cy="113.9" r="0.45"/>
<circle cx="93.6" cy="107.9" r="0.45"/>
</g>
<path d="M86.40,118.30 C87.05,117.58 89.58,118.40 90.80,118.80 C92.02,119.20 93.15,119.90 93.70,120.70 C94.25,121.50 94.27,122.72 94.10,123.60 C93.93,124.48 93.42,125.37 92.70,126.00 C91.98,126.63 90.60,127.40 89.80,127.40 C89.00,127.40 88.38,126.72 87.90,126.00 C87.42,125.28 87.15,124.38 86.90,123.10 C86.65,121.82 85.75,119.02 86.40,118.30Z" fill="#cc4d4c" stroke="none" stroke-width="1" />
<g fill="#cc4d4c">
<circle cx="86.4" cy="123.0" r="0.55"/>
<circle cx="94.2" cy="120.2" r="0.55"/>
<circle cx="87.8" cy="126.5" r="0.55"/>
<circle cx="86.2" cy="124.7" r="0.55"/>
<circle cx="86.3" cy="122.6" r="0.55"/>
<circle cx="85.6" cy="119.3" r="0.55"/>
<circle cx="94.9" cy="121.6" r="0.55"/>
<circle cx="95.2" cy="122.5" r="0.55"/>
<circle cx="93.7" cy="119.9" r="0.55"/>
<circle cx="94.1" cy="120.2" r="0.55"/>
<circle cx="93.7" cy="124.8" r="0.55"/>
<circle cx="88.6" cy="118.3" r="0.55"/>
<circle cx="86.8" cy="125.3" r="0.55"/>
<circle cx="88.5" cy="126.9" r="0.55"/>
<circle cx="87.8" cy="117.4" r="0.55"/>
<circle cx="95.0" cy="121.4" r="0.55"/>
<circle cx="93.4" cy="125.1" r="0.55"/>
<circle cx="86.8" cy="123.3" r="0.55"/>
<circle cx="87.1" cy="125.2" r="0.55"/>
<circle cx="94.6" cy="121.4" r="0.55"/>
<circle cx="86.2" cy="120.9" r="0.55"/>
<circle cx="86.3" cy="124.2" r="0.55"/>
<circle cx="93.4" cy="120.0" r="0.55"/>
<circle cx="92.1" cy="127.4" r="0.55"/>
<circle cx="91.6" cy="119.1" r="0.55"/>
<circle cx="86.0" cy="122.3" r="0.55"/>
<circle cx="89.4" cy="128.1" r="0.55"/>
<circle cx="86.4" cy="124.0" r="0.55"/>
<circle cx="94.1" cy="124.7" r="0.55"/>
<circle cx="94.6" cy="123.6" r="0.55"/>
</g>
<g fill="#fff" opacity="0.8">
<circle cx="89.8" cy="123.5" r="0.45"/>
<circle cx="91.5" cy="122.6" r="0.45"/>
<circle cx="91.6" cy="123.2" r="0.45"/>
<circle cx="90.5" cy="124.1" r="0.45"/>
<circle cx="90.4" cy="121.5" r="0.45"/>
<circle cx="89.2" cy="123.4" r="0.45"/>
<circle cx="92.3" cy="123.8" r="0.45"/>
<circle cx="89.3" cy="122.3" r="0.45"/>
<circle cx="90.6" cy="125.1" r="0.45"/>
<circle cx="88.2" cy="120.3" r="0.45"/>
<circle cx="88.5" cy="120.3" r="0.45"/>
<circle cx="90.1" cy="121.5" r="0.45"/>
<circle cx="89.7" cy="123.6" r="0.45"/>
<circle cx="90.4" cy="120.4" r="0.45"/>
</g>
<path d="M67.20,136.10 C67.60,135.22 68.55,134.00 69.60,133.20 C70.65,132.40 72.22,131.47 73.50,131.30 C74.78,131.13 76.18,131.80 77.30,132.20 C78.42,132.60 79.72,132.90 80.20,133.70 C80.68,134.50 80.68,136.20 80.20,137.00 C79.72,137.80 78.42,138.18 77.30,138.50 C76.18,138.82 74.78,138.75 73.50,138.90 C72.22,139.05 70.65,139.47 69.60,139.40 C68.55,139.33 67.60,139.05 67.20,138.50 C66.80,137.95 66.80,136.98 67.20,136.10Z" fill="#8a4b9c" stroke="none" stroke-width="1" />
<g fill="#8a4b9c">
<circle cx="80.3" cy="135.1" r="0.55"/>
<circle cx="79.1" cy="138.7" r="0.55"/>
<circle cx="77.3" cy="131.0" r="0.55"/>
<circle cx="74.9" cy="139.4" r="0.55"/>
<circle cx="80.6" cy="136.7" r="0.55"/>
<circle cx="71.6" cy="131.2" r="0.55"/>
<circle cx="67.1" cy="135.5" r="0.55"/>
<circle cx="81.1" cy="134.4" r="0.55"/>
<circle cx="68.6" cy="140.0" r="0.55"/>
<circle cx="79.7" cy="132.6" r="0.55"/>
<circle cx="71.9" cy="139.8" r="0.55"/>
<circle cx="67.0" cy="135.9" r="0.55"/>
<circle cx="66.7" cy="135.2" r="0.55"/>
<circle cx="66.5" cy="137.8" r="0.55"/>
<circle cx="81.0" cy="137.2" r="0.55"/>
<circle cx="79.4" cy="138.3" r="0.55"/>
<circle cx="81.2" cy="134.1" r="0.55"/>
<circle cx="73.5" cy="130.5" r="0.55"/>
<circle cx="77.9" cy="132.4" r="0.55"/>
<circle cx="77.2" cy="132.2" r="0.55"/>
<circle cx="70.2" cy="139.4" r="0.55"/>
<circle cx="70.9" cy="132.2" r="0.55"/>
<circle cx="72.6" cy="139.5" r="0.55"/>
<circle cx="79.9" cy="133.0" r="0.55"/>
<circle cx="71.7" cy="131.4" r="0.55"/>
</g>
<g fill="#fff" opacity="0.8">
<circle cx="74.9" cy="134.8" r="0.45"/>
<circle cx="70.7" cy="135.6" r="0.45"/>
<circle cx="78.2" cy="136.0" r="0.45"/>
</g>
<path d="M80.20,133.20 C80.83,132.55 82.57,131.95 84.00,131.70 C85.43,131.45 87.35,131.45 88.80,131.70 C90.25,131.95 91.57,132.47 92.70,133.20 C93.83,133.93 95.12,135.22 95.60,136.10 C96.08,136.98 96.25,138.35 95.60,138.50 C94.95,138.65 93.15,137.40 91.70,137.00 C90.25,136.60 88.50,136.18 86.90,136.10 C85.30,136.02 83.22,136.58 82.10,136.50 C80.98,136.42 80.52,136.15 80.20,135.60 C79.88,135.05 79.57,133.85 80.20,133.20Z" fill="#2c86b6" stroke="none" stroke-width="1" />
<g fill="#2c86b6">
<circle cx="89.8" cy="131.4" r="0.55"/>
<circle cx="95.5" cy="138.7" r="0.55"/>
<circle cx="93.8" cy="133.7" r="0.55"/>
<circle cx="87.9" cy="136.6" r="0.55"/>
<circle cx="82.3" cy="137.0" r="0.55"/>
<circle cx="79.7" cy="133.0" r="0.55"/>
<circle cx="81.1" cy="131.9" r="0.55"/>
<circle cx="81.3" cy="132.5" r="0.55"/>
<circle cx="89.7" cy="131.4" r="0.55"/>
<circle cx="84.6" cy="136.8" r="0.55"/>
<circle cx="86.3" cy="137.4" r="0.55"/>
<circle cx="79.4" cy="135.0" r="0.55"/>
<circle cx="91.5" cy="137.2" r="0.55"/>
<circle cx="83.9" cy="130.8" r="0.55"/>
<circle cx="96.7" cy="137.3" r="0.55"/>
<circle cx="82.7" cy="131.8" r="0.55"/>
<circle cx="89.4" cy="131.7" r="0.55"/>
<circle cx="79.1" cy="134.4" r="0.55"/>
<circle cx="94.6" cy="134.4" r="0.55"/>
<circle cx="87.2" cy="136.5" r="0.55"/>
<circle cx="79.3" cy="133.5" r="0.55"/>
<circle cx="84.6" cy="131.6" r="0.55"/>
<circle cx="86.4" cy="130.8" r="0.55"/>
<circle cx="95.4" cy="135.0" r="0.55"/>
<circle cx="92.0" cy="137.5" r="0.55"/>
</g>
<g fill="#fff" opacity="0.8">
<circle cx="86.6" cy="134.4" r="0.45"/>
<circle cx="85.4" cy="134.1" r="0.45"/>
<circle cx="86.6" cy="133.9" r="0.45"/>
</g>
<path d="M79.20,137.00 C79.85,136.60 81.50,136.18 83.10,136.10 C84.70,136.02 87.03,136.18 88.80,136.50 C90.57,136.82 92.48,137.52 93.70,138.00 C94.92,138.48 95.95,138.92 96.10,139.40 C96.25,139.88 95.48,140.58 94.60,140.90 C93.72,141.22 92.23,141.38 90.80,141.30 C89.37,141.22 87.45,140.72 86.00,140.40 C84.55,140.08 83.23,139.72 82.10,139.40 C80.97,139.08 79.68,138.90 79.20,138.50 C78.72,138.10 78.55,137.40 79.20,137.00Z" fill="#e77fb2" stroke="none" stroke-width="1" />
<g fill="#e77fb2">
<circle cx="82.6" cy="135.0" r="0.55"/>
<circle cx="84.3" cy="135.3" r="0.55"/>
<circle cx="95.2" cy="141.3" r="0.55"/>
<circle cx="94.7" cy="141.4" r="0.55"/>
<circle cx="80.2" cy="139.4" r="0.55"/>
<circle cx="86.9" cy="136.0" r="0.55"/>
<circle cx="89.9" cy="135.7" r="0.55"/>
<circle cx="86.5" cy="141.1" r="0.55"/>
<circle cx="81.5" cy="140.4" r="0.55"/>
<circle cx="89.7" cy="135.7" r="0.55"/>
<circle cx="88.8" cy="136.2" r="0.55"/>
<circle cx="95.4" cy="138.8" r="0.55"/>
<circle cx="83.3" cy="140.8" r="0.55"/>
<circle cx="81.2" cy="136.4" r="0.55"/>
<circle cx="80.5" cy="136.5" r="0.55"/>
<circle cx="92.9" cy="141.8" r="0.55"/>
<circle cx="84.9" cy="140.2" r="0.55"/>
<circle cx="82.0" cy="136.2" r="0.55"/>
<circle cx="84.5" cy="140.1" r="0.55"/>
<circle cx="79.3" cy="136.9" r="0.55"/>
<circle cx="91.5" cy="141.6" r="0.55"/>
<circle cx="90.6" cy="135.8" r="0.55"/>
<circle cx="84.6" cy="135.2" r="0.55"/>
<circle cx="79.9" cy="136.4" r="0.55"/>
<circle cx="82.8" cy="136.2" r="0.55"/>
</g>
<g fill="#fff" opacity="0.8">
<circle cx="87.9" cy="138.5" r="0.45"/>
<circle cx="84.2" cy="138.0" r="0.45"/>
<circle cx="88.7" cy="139.0" r="0.45"/>
</g>
<path d="M112.50,16.90 C113.22,16.18 114.83,15.12 116.00,15.20 C117.17,15.28 118.35,16.10 119.50,17.40 C120.65,18.70 122.08,21.50 122.90,23.00 C123.72,24.50 124.32,25.18 124.40,26.40 C124.48,27.62 124.00,29.50 123.40,30.30 C122.80,31.10 121.82,31.20 120.80,31.20 C119.78,31.20 118.47,30.73 117.30,30.30 C116.13,29.87 114.73,29.53 113.80,28.60 C112.87,27.67 112.05,26.22 111.70,24.70 C111.35,23.18 111.57,20.80 111.70,19.50 C111.83,18.20 111.78,17.62 112.50,16.90Z" fill="#7b4b88" stroke="none" stroke-width="1" />
<g fill="#7b4b88">
<circle cx="112.1" cy="16.6" r="0.55"/>
<circle cx="124.1" cy="27.8" r="0.55"/>
<circle cx="116.0" cy="30.2" r="0.55"/>
<circle cx="118.5" cy="31.7" r="0.55"/>
<circle cx="111.7" cy="24.5" r="0.55"/>
<circle cx="117.3" cy="15.4" r="0.55"/>
<circle cx="124.2" cy="29.4" r="0.55"/>
<circle cx="124.9" cy="27.4" r="0.55"/>
<circle cx="114.6" cy="15.0" r="0.55"/>
<circle cx="111.1" cy="22.6" r="0.55"/>
<circle cx="119.8" cy="17.4" r="0.55"/>
<circle cx="123.5" cy="30.2" r="0.55"/>
<circle cx="110.6" cy="20.5" r="0.55"/>
<circle cx="115.6" cy="30.7" r="0.55"/>
<circle cx="111.5" cy="24.0" r="0.55"/>
<circle cx="121.6" cy="32.1" r="0.55"/>
<circle cx="118.6" cy="31.6" r="0.55"/>
<circle cx="119.2" cy="31.2" r="0.55"/>
<circle cx="114.4" cy="29.1" r="0.55"/>
<circle cx="110.8" cy="21.7" r="0.55"/>
<circle cx="123.2" cy="21.5" r="0.55"/>
<circle cx="110.9" cy="23.9" r="0.55"/>
<circle cx="119.2" cy="16.7" r="0.55"/>
<circle cx="123.5" cy="30.2" r="0.55"/>
<circle cx="116.0" cy="14.3" r="0.55"/>
<circle cx="119.4" cy="32.0" r="0.55"/>
<circle cx="113.7" cy="15.4" r="0.55"/>
<circle cx="121.1" cy="20.0" r="0.55"/>
<circle cx="112.0" cy="25.5" r="0.55"/>
<circle cx="117.3" cy="30.9" r="0.55"/>
</g>
<g fill="#fff" opacity="0.8">
<circle cx="117.6" cy="26.6" r="0.45"/>
<circle cx="119.7" cy="21.8" r="0.45"/>
<circle cx="113.3" cy="22.5" r="0.45"/>
<circle cx="115.5" cy="18.1" r="0.45"/>
<circle cx="120.0" cy="27.6" r="0.45"/>
</g>
<path d="M111.20,29.00 C112.50,28.42 114.15,29.53 115.60,29.90 C117.05,30.27 118.32,30.33 119.90,31.20 C121.48,32.07 123.52,33.45 125.10,35.10 C126.68,36.75 127.82,39.58 129.40,41.10 C130.98,42.62 134.02,42.90 134.60,44.20 C135.18,45.50 133.62,47.38 132.90,48.90 C132.18,50.42 131.17,52.50 130.30,53.30 C129.43,54.10 128.57,54.13 127.70,53.70 C126.83,53.27 126.25,51.63 125.10,50.70 C123.95,49.77 122.10,48.83 120.80,48.10 C119.50,47.37 118.75,46.88 117.30,46.30 C115.85,45.72 113.68,45.47 112.10,44.60 C110.52,43.73 108.88,42.53 107.80,41.10 C106.72,39.67 105.60,37.28 105.60,36.00 C105.60,34.72 106.87,34.57 107.80,33.40 C108.73,32.23 109.90,29.58 111.20,29.00Z" fill="#e6242b" stroke="none" stroke-width="1" />
<g fill="#e6242b">
<circle cx="124.9" cy="51.3" r="0.55"/>
<circle cx="124.3" cy="33.3" r="0.55"/>
<circle cx="132.8" cy="49.9" r="0.55"/>
<circle cx="116.3" cy="29.7" r="0.55"/>
<circle cx="131.6" cy="52.3" r="0.55"/>
<circle cx="107.2" cy="33.7" r="0.55"/>
<circle cx="106.8" cy="39.0" r="0.55"/>
<circle cx="130.0" cy="40.6" r="0.55"/>
<circle cx="119.1" cy="30.7" r="0.55"/>
<circle cx="134.3" cy="43.9" r="0.55"/>
<circle cx="120.7" cy="49.1" r="0.55"/>
<circle cx="106.0" cy="34.9" r="0.55"/>
<circle cx="124.0" cy="51.0" r="0.55"/>
<circle cx="130.2" cy="40.5" r="0.55"/>
<circle cx="133.5" cy="48.5" r="0.55"/>
<circle cx="132.8" cy="42.6" r="0.55"/>
<circle cx="107.1" cy="40.4" r="0.55"/>
<circle cx="122.5" cy="32.7" r="0.55"/>
<circle cx="119.8" cy="30.0" r="0.55"/>
<circle cx="114.7" cy="45.7" r="0.55"/>
<circle cx="105.1" cy="37.3" r="0.55"/>
<circle cx="115.8" cy="29.9" r="0.55"/>
<circle cx="115.6" cy="46.4" r="0.55"/>
<circle cx="120.6" cy="30.6" r="0.55"/>
<circle cx="115.7" cy="29.8" r="0.55"/>
<circle cx="134.3" cy="45.3" r="0.55"/>
<circle cx="131.7" cy="52.1" r="0.55"/>
<circle cx="129.2" cy="53.5" r="0.55"/>
<circle cx="129.5" cy="39.5" r="0.55"/>
<circle cx="126.6" cy="35.7" r="0.55"/>
<circle cx="117.9" cy="30.1" r="0.55"/>
<circle cx="107.9" cy="31.8" r="0.55"/>
<circle cx="106.9" cy="41.0" r="0.55"/>
<circle cx="111.7" cy="45.0" r="0.55"/>
<circle cx="110.7" cy="28.7" r="0.55"/>
<circle cx="130.6" cy="40.7" r="0.55"/>
<circle cx="132.5" cy="50.2" r="0.55"/>
<circle cx="129.6" cy="40.1" r="0.55"/>
<circle cx="126.1" cy="53.0" r="0.55"/>
<circle cx="132.0" cy="51.3" r="0.55"/>
<circle cx="129.7" cy="40.8" r="0.55"/>
<circle cx="107.9" cy="41.9" r="0.55"/>
<circle cx="106.4" cy="39.1" r="0.55"/>
<circle cx="110.7" cy="28.7" r="0.55"/>
<circle cx="107.1" cy="40.6" r="0.55"/>
<circle cx="131.0" cy="41.6" r="0.55"/>
<circle cx="124.2" cy="34.3" r="0.55"/>
<circle cx="126.8" cy="36.7" r="0.55"/>
<circle cx="119.1" cy="29.9" r="0.55"/>
<circle cx="126.7" cy="36.4" r="0.55"/>
<circle cx="135.6" cy="44.5" r="0.55"/>
<circle cx="114.3" cy="45.5" r="0.55"/>
<circle cx="106.4" cy="40.8" r="0.55"/>
<circle cx="106.5" cy="34.6" r="0.55"/>
<circle cx="111.1" cy="27.9" r="0.55"/>
<circle cx="132.1" cy="41.8" r="0.55"/>
<circle cx="116.1" cy="46.8" r="0.55"/>
<circle cx="119.0" cy="47.5" r="0.55"/>
<circle cx="134.8" cy="45.5" r="0.55"/>
<circle cx="106.9" cy="32.9" r="0.55"/>
<circle cx="110.6" cy="29.0" r="0.55"/>
<circle cx="120.6" cy="48.6" r="0.55"/>
<circle cx="108.3" cy="41.8" r="0.55"/>
<circle cx="134.6" cy="44.3" r="0.55"/>
<circle cx="125.3" cy="34.7" r="0.55"/>
<circle cx="119.7" cy="48.6" r="0.55"/>
<circle cx="126.6" cy="53.2" r="0.55"/>
<circle cx="117.1" cy="30.3" r="0.55"/>
<circle cx="110.1" cy="29.8" r="0.55"/>
<circle cx="120.3" cy="48.2" r="0.55"/>
<circle cx="116.4" cy="47.1" r="0.55"/>
<circle cx="110.7" cy="44.5" r="0.55"/>
<circle cx="123.7" cy="50.6" r="0.55"/>
<circle cx="110.0" cy="43.2" r="0.55"/>
<circle cx="130.1" cy="53.8" r="0.55"/>
<circle cx="119.6" cy="48.5" r="0.55"/>
<circle cx="111.5" cy="28.2" r="0.55"/>
<circle cx="114.3" cy="45.9" r="0.55"/>
<circle cx="134.5" cy="43.5" r="0.55"/>
<circle cx="111.2" cy="28.0" r="0.55"/>
</g>
<g fill="#fff" opacity="0.8">
<circle cx="125.9" cy="48.8" r="0.45"/>
<circle cx="128.3" cy="50.7" r="0.45"/>
<circle cx="118.0" cy="35.2" r="0.45"/>
<circle cx="116.3" cy="42.1" r="0.45"/>
<circle cx="121.0" cy="35.8" r="0.45"/>
<circle cx="126.9" cy="46.6" r="0.45"/>
<circle cx="120.8" cy="34.0" r="0.45"/>
<circle cx="125.0" cy="41.6" r="0.45"/>
<circle cx="122.2" cy="47.3" r="0.45"/>
<circle cx="116.0" cy="42.1" r="0.45"/>
<circle cx="112.9" cy="35.6" r="0.45"/>
<circle cx="116.5" cy="43.3" r="0.45"/>
<circle cx="122.8" cy="40.2" r="0.45"/>
<circle cx="109.9" cy="40.9" r="0.45"/>
<circle cx="112.9" cy="43.1" r="0.45"/>
<circle cx="126.0" cy="41.8" r="0.45"/>
<circle cx="128.0" cy="44.7" r="0.45"/>
<circle cx="118.7" cy="41.3" r="0.45"/>
<circle cx="116.1" cy="34.0" r="0.45"/>
<circle cx="126.1" cy="44.8" r="0.45"/>
<circle cx="113.6" cy="43.5" r="0.45"/>
<circle cx="111.5" cy="32.4" r="0.45"/>
<circle cx="118.4" cy="35.5" r="0.45"/>
<circle cx="107.9" cy="36.2" r="0.45"/>
<circle cx="127.5" cy="49.3" r="0.45"/>
<circle cx="123.9" cy="37.7" r="0.45"/>
<circle cx="117.8" cy="39.8" r="0.45"/>
<circle cx="126.5" cy="50.2" r="0.45"/>
<circle cx="121.1" cy="38.3" r="0.45"/>
<circle cx="125.5" cy="46.0" r="0.45"/>
<circle cx="130.5" cy="48.4" r="0.45"/>
<circle cx="119.4" cy="43.0" r="0.45"/>
<circle cx="119.3" cy="40.9" r="0.45"/>
<circle cx="127.5" cy="47.7" r="0.45"/>
<circle cx="116.4" cy="37.3" r="0.45"/>
<circle cx="118.0" cy="44.2" r="0.45"/>
<circle cx="127.0" cy="48.2" r="0.45"/>
<circle cx="120.1" cy="41.7" r="0.45"/>
<circle cx="115.8" cy="41.1" r="0.45"/>
<circle cx="123.2" cy="43.1" r="0.45"/>
<circle cx="127.2" cy="50.3" r="0.45"/>
<circle cx="115.8" cy="39.2" r="0.45"/>
<circle cx="115.9" cy="37.1" r="0.45"/>
<circle cx="129.2" cy="43.0" r="0.45"/>
<circle cx="128.4" cy="51.5" r="0.45"/>
<circle cx="116.4" cy="41.3" r="0.45"/>
<circle cx="111.3" cy="34.6" r="0.45"/>
<circle cx="131.2" cy="45.2" r="0.45"/>
<circle cx="118.4" cy="45.2" r="0.45"/>
<circle cx="115.6" cy="43.4" r="0.45"/>
<circle cx="114.6" cy="34.9" r="0.45"/>
<circle cx="127.7" cy="48.1" r="0.45"/>
<circle cx="122.6" cy="46.4" r="0.45"/>
<circle cx="123.8" cy="38.8" r="0.45"/>
<circle cx="124.0" cy="39.0" r="0.45"/>
<circle cx="114.2" cy="34.6" r="0.45"/>
<circle cx="112.8" cy="42.1" r="0.45"/>
<circle cx="113.5" cy="37.9" r="0.45"/>
<circle cx="124.5" cy="37.4" r="0.45"/>
<circle cx="128.1" cy="45.1" r="0.45"/>
<circle cx="122.7" cy="41.6" r="0.45"/>
<circle cx="125.0" cy="41.3" r="0.45"/>
<circle cx="113.9" cy="38.8" r="0.45"/>
<circle cx="115.2" cy="39.5" r="0.45"/>
<circle cx="117.0" cy="33.5" r="0.45"/>
<circle cx="110.3" cy="40.7" r="0.45"/>
<circle cx="113.3" cy="43.5" r="0.45"/>
<circle cx="119.7" cy="32.9" r="0.45"/>
<circle cx="124.7" cy="46.2" r="0.45"/>
<circle cx="111.3" cy="34.0" r="0.45"/>
<circle cx="113.9" cy="36.7" r="0.45"/>
<circle cx="118.8" cy="33.3" r="0.45"/>
<circle cx="113.9" cy="41.0" r="0.45"/>
<circle cx="127.1" cy="48.0" r="0.45"/>
<circle cx="112.7" cy="34.6" r="0.45"/>
<circle cx="119.9" cy="37.6" r="0.45"/>
<circle cx="121.2" cy="43.7" r="0.45"/>
<circle cx="126.5" cy="50.0" r="0.45"/>
<circle cx="112.3" cy="41.5" r="0.45"/>
<circle cx="121.5" cy="43.6" r="0.45"/>
<circle cx="127.6" cy="47.9" r="0.45"/>
<circle cx="121.4" cy="40.1" r="0.45"/>
<circle cx="121.0" cy="34.7" r="0.45"/>
<circle cx="109.1" cy="38.7" r="0.45"/>
<circle cx="109.6" cy="40.4" r="0.45"/>
<circle cx="118.1" cy="41.7" r="0.45"/>
<circle cx="110.8" cy="31.6" r="0.45"/>
<circle cx="126.1" cy="39.6" r="0.45"/>
<circle cx="129.1" cy="43.9" r="0.45"/>
<circle cx="126.1" cy="47.5" r="0.45"/>
<circle cx="126.0" cy="48.4" r="0.45"/>
<circle cx="110.1" cy="39.4" r="0.45"/>
<circle cx="126.0" cy="45.3" r="0.45"/>
<circle cx="129.6" cy="49.8" r="0.45"/>
<circle cx="113.2" cy="41.0" r="0.45"/>
<circle cx="127.1" cy="43.2" r="0.45"/>
<circle cx="127.9" cy="42.6" r="0.45"/>
<circle cx="124.6" cy="37.2" r="0.45"/>
<circle cx="130.8" cy="48.1" r="0.45"/>
<circle cx="118.4" cy="42.3" r="0.45"/>
<circle cx="115.9" cy="32.3" r="0.45"/>
<circle cx="124.2" cy="45.2" r="0.45"/>
<circle cx="121.6" cy="44.5" r="0.45"/>
<circle cx="110.2" cy="40.7" r="0.45"/>
<circle cx="130.7" cy="44.6" r="0.45"/>
<circle cx="112.1" cy="36.9" r="0.45"/>
<circle cx="119.4" cy="41.7" r="0.45"/>
<circle cx="118.7" cy="35.7" r="0.45"/>
<circle cx="114.4" cy="41.9" r="0.45"/>
<circle cx="128.0" cy="41.5" r="0.45"/>
<circle cx="121.8" cy="44.0" r="0.45"/>
<circle cx="108.1" cy="36.9" r="0.45"/>
<circle cx="129.0" cy="46.6" r="0.45"/>
<circle cx="110.1" cy="40.3" r="0.45"/>
<circle cx="126.1" cy="40.3" r="0.45"/>
<circle cx="126.4" cy="43.1" r="0.45"/>
<circle cx="118.8" cy="43.7" r="0.45"/>
<circle cx="109.8" cy="35.7" r="0.45"/>
<circle cx="123.9" cy="38.5" r="0.45"/>
<circle cx="114.7" cy="42.0" r="0.45"/>
<circle cx="132.4" cy="46.0" r="0.45"/>
<circle cx="123.0" cy="38.8" r="0.45"/>
<circle cx="116.4" cy="38.8" r="0.45"/>
<circle cx="126.9" cy="39.8" r="0.45"/>
<circle cx="117.9" cy="44.1" r="0.45"/>
<circle cx="117.1" cy="39.1" r="0.45"/>
<circle cx="115.6" cy="41.5" r="0.45"/>
<circle cx="111.8" cy="39.4" r="0.45"/>
<circle cx="127.9" cy="41.5" r="0.45"/>
<circle cx="116.6" cy="43.0" r="0.45"/>
<circle cx="115.8" cy="32.8" r="0.45"/>
<circle cx="121.8" cy="42.6" r="0.45"/>
<circle cx="117.3" cy="44.8" r="0.45"/>
<circle cx="109.4" cy="37.1" r="0.45"/>
<circle cx="113.7" cy="32.9" r="0.45"/>
<circle cx="126.9" cy="41.1" r="0.45"/>
<circle cx="117.0" cy="42.3" r="0.45"/>
<circle cx="112.9" cy="38.1" r="0.45"/>
<circle cx="119.0" cy="35.6" r="0.45"/>
<circle cx="111.4" cy="35.4" r="0.45"/>
<circle cx="115.8" cy="41.1" r="0.45"/>
<circle cx="122.4" cy="44.7" r="0.45"/>
<circle cx="112.5" cy="37.4" r="0.45"/>
<circle cx="112.6" cy="42.2" r="0.45"/>
<circle cx="115.3" cy="42.8" r="0.45"/>
<circle cx="116.7" cy="37.1" r="0.45"/>
<circle cx="119.0" cy="37.7" r="0.45"/>
<circle cx="121.4" cy="35.1" r="0.45"/>
<circle cx="115.1" cy="42.7" r="0.45"/>
<circle cx="130.3" cy="43.2" r="0.45"/>
</g>
<path d="M134.00,45.60 C134.47,45.18 136.07,45.37 137.00,45.80 C137.93,46.23 139.03,47.25 139.60,48.20 C140.17,49.15 140.50,50.45 140.40,51.50 C140.30,52.55 139.82,53.75 139.00,54.50 C138.18,55.25 136.83,55.75 135.50,56.00 C134.17,56.25 132.20,56.10 131.00,56.00 C129.80,55.90 128.70,55.73 128.30,55.40 C127.90,55.07 128.07,54.35 128.60,54.00 C129.13,53.65 130.72,53.77 131.50,53.30 C132.28,52.83 132.85,52.03 133.30,51.20 C133.75,50.37 134.08,49.23 134.20,48.30 C134.32,47.37 133.53,46.02 134.00,45.60Z" fill="#efe41c" stroke="none" stroke-width="1" />
<g fill="#efe41c">
<circle cx="131.7" cy="57.1" r="0.55"/>
<circle cx="132.7" cy="56.6" r="0.55"/>
<circle cx="140.2" cy="53.0" r="0.55"/>
<circle cx="133.4" cy="50.8" r="0.55"/>
<circle cx="132.2" cy="52.2" r="0.55"/>
<circle cx="140.1" cy="49.7" r="0.55"/>
<circle cx="127.5" cy="54.7" r="0.55"/>
<circle cx="138.9" cy="54.6" r="0.55"/>
<circle cx="132.2" cy="50.7" r="0.55"/>
<circle cx="133.9" cy="46.8" r="0.55"/>
<circle cx="136.6" cy="44.5" r="0.55"/>
<circle cx="137.6" cy="45.8" r="0.55"/>
<circle cx="133.0" cy="56.5" r="0.55"/>
<circle cx="133.5" cy="50.4" r="0.55"/>
<circle cx="140.1" cy="48.7" r="0.55"/>
<circle cx="135.6" cy="45.4" r="0.55"/>
<circle cx="140.4" cy="49.2" r="0.55"/>
<circle cx="129.1" cy="56.6" r="0.55"/>
<circle cx="138.1" cy="55.9" r="0.55"/>
<circle cx="133.9" cy="47.6" r="0.55"/>
<circle cx="133.4" cy="47.3" r="0.55"/>
<circle cx="132.0" cy="52.5" r="0.55"/>
<circle cx="132.8" cy="46.3" r="0.55"/>
<circle cx="127.3" cy="54.2" r="0.55"/>
<circle cx="137.3" cy="45.3" r="0.55"/>
</g>
<g fill="#fff" opacity="0.8">
<circle cx="138.3" cy="50.3" r="0.45"/>
<circle cx="138.0" cy="51.0" r="0.45"/>
<circle cx="137.9" cy="50.7" r="0.45"/>
<circle cx="135.5" cy="49.8" r="0.45"/>
</g>
<path d="M155.20,64.80 C155.80,63.55 157.17,64.63 157.80,65.50 C158.43,66.37 158.72,68.25 159.00,70.00 C159.28,71.75 159.42,74.00 159.50,76.00 C159.58,78.00 160.08,81.25 159.50,82.00 C158.92,82.75 157.00,80.92 156.00,80.50 C155.00,80.08 153.80,80.75 153.50,79.50 C153.20,78.25 153.92,75.45 154.20,73.00 C154.48,70.55 154.60,66.05 155.20,64.80Z" fill="#c4563f" stroke="none" stroke-width="1" opacity="0.3"/>
<g fill="#c4563f">
<circle cx="159.1" cy="81.8" r="0.6"/>
<circle cx="156.9" cy="74.4" r="0.6"/>
<circle cx="154.1" cy="74.5" r="0.6"/>
<circle cx="158.1" cy="69.2" r="0.6"/>
<circle cx="157.8" cy="69.7" r="0.6"/>
<circle cx="157.1" cy="78.1" r="0.6"/>
<circle cx="153.7" cy="79.3" r="0.6"/>
<circle cx="156.6" cy="69.0" r="0.6"/>
<circle cx="155.3" cy="74.3" r="0.6"/>
<circle cx="157.9" cy="67.9" r="0.6"/>
<circle cx="157.3" cy="71.7" r="0.6"/>
<circle cx="158.1" cy="77.3" r="0.6"/>
<circle cx="155.7" cy="74.9" r="0.6"/>
<circle cx="154.4" cy="75.3" r="0.6"/>
<circle cx="157.4" cy="68.9" r="0.6"/>
<circle cx="157.5" cy="67.2" r="0.6"/>
<circle cx="159.3" cy="74.2" r="0.6"/>
<circle cx="159.0" cy="76.3" r="0.6"/>
<circle cx="154.8" cy="77.4" r="0.6"/>
<circle cx="157.2" cy="71.3" r="0.6"/>
<circle cx="157.7" cy="77.9" r="0.6"/>
<circle cx="157.6" cy="68.6" r="0.6"/>
<circle cx="159.3" cy="80.4" r="0.6"/>
<circle cx="156.4" cy="67.3" r="0.6"/>
<circle cx="154.9" cy="77.4" r="0.6"/>
<circle cx="155.9" cy="77.0" r="0.6"/>
<circle cx="155.1" cy="73.0" r="0.6"/>
<circle cx="158.7" cy="71.1" r="0.6"/>
<circle cx="155.7" cy="74.1" r="0.6"/>
<circle cx="154.3" cy="71.9" r="0.6"/>
<circle cx="158.8" cy="79.0" r="0.6"/>
<circle cx="158.4" cy="80.5" r="0.6"/>
<circle cx="154.3" cy="76.0" r="0.6"/>
<circle cx="156.8" cy="71.2" r="0.6"/>
<circle cx="157.8" cy="68.6" r="0.6"/>
<circle cx="157.1" cy="72.0" r="0.6"/>
<circle cx="154.3" cy="78.1" r="0.6"/>
<circle cx="154.6" cy="78.6" r="0.6"/>
<circle cx="158.1" cy="72.3" r="0.6"/>
<circle cx="156.2" cy="68.3" r="0.6"/>
</g>
<path d="M140.80,91.00 C140.60,90.00 141.93,87.87 142.80,86.50 C143.67,85.13 144.80,83.78 146.00,82.80 C147.20,81.82 148.67,81.07 150.00,80.60 C151.33,80.13 152.58,79.85 154.00,80.00 C155.42,80.15 157.57,80.25 158.50,81.50 C159.43,82.75 159.85,85.67 159.60,87.50 C159.35,89.33 158.60,91.48 157.00,92.50 C155.40,93.52 152.17,93.60 150.00,93.60 C147.83,93.60 145.53,92.93 144.00,92.50 C142.47,92.07 141.00,92.00 140.80,91.00Z" fill="#c4563f" stroke="none" stroke-width="1" opacity="0.3"/>
<path d="M148.00,84.00 C148.83,82.83 152.50,82.67 154.00,83.00 C155.50,83.33 156.83,84.83 157.00,86.00 C157.17,87.17 156.33,89.33 155.00,90.00 C153.67,90.67 150.17,91.00 149.00,90.00 C147.83,89.00 147.17,85.17 148.00,84.00Z" fill="#fff" stroke="none" stroke-width="1" opacity="0.85"/>
<g fill="#c4563f">
<circle cx="143.4" cy="89.5" r="0.6"/>
<circle cx="147.8" cy="87.7" r="0.6"/>
<circle cx="147.7" cy="83.6" r="0.6"/>
<circle cx="143.9" cy="90.4" r="0.6"/>
<circle cx="148.9" cy="82.1" r="0.6"/>
<circle cx="157.2" cy="82.1" r="0.6"/>
<circle cx="151.3" cy="90.6" r="0.6"/>
<circle cx="154.0" cy="91.3" r="0.6"/>
<circle cx="157.2" cy="83.9" r="0.6"/>
<circle cx="158.1" cy="81.9" r="0.6"/>
<circle cx="148.7" cy="91.3" r="0.6"/>
<circle cx="146.7" cy="83.3" r="0.6"/>
<circle cx="151.1" cy="82.9" r="0.6"/>
<circle cx="145.7" cy="88.6" r="0.6"/>
<circle cx="144.0" cy="90.7" r="0.6"/>
<circle cx="157.2" cy="85.7" r="0.6"/>
<circle cx="143.2" cy="87.8" r="0.6"/>
<circle cx="145.9" cy="83.4" r="0.6"/>
<circle cx="154.4" cy="92.5" r="0.6"/>
<circle cx="147.4" cy="88.0" r="0.6"/>
<circle cx="144.9" cy="86.3" r="0.6"/>
<circle cx="148.6" cy="82.0" r="0.6"/>
<circle cx="152.6" cy="92.0" r="0.6"/>
<circle cx="152.2" cy="90.5" r="0.6"/>
<circle cx="143.0" cy="91.9" r="0.6"/>
<circle cx="158.3" cy="88.0" r="0.6"/>
<circle cx="156.4" cy="87.5" r="0.6"/>
<circle cx="149.0" cy="82.2" r="0.6"/>
<circle cx="155.7" cy="92.2" r="0.6"/>
<circle cx="150.5" cy="92.9" r="0.6"/>
<circle cx="155.3" cy="83.2" r="0.6"/>
<circle cx="144.4" cy="91.6" r="0.6"/>
<circle cx="151.4" cy="81.8" r="0.6"/>
<circle cx="150.6" cy="90.5" r="0.6"/>
<circle cx="152.1" cy="92.6" r="0.6"/>
<circle cx="157.4" cy="83.9" r="0.6"/>
<circle cx="146.1" cy="92.4" r="0.6"/>
<circle cx="145.6" cy="84.1" r="0.6"/>
<circle cx="144.4" cy="89.5" r="0.6"/>
<circle cx="143.0" cy="88.1" r="0.6"/>
<circle cx="147.1" cy="87.5" r="0.6"/>
<circle cx="141.7" cy="91.1" r="0.6"/>
<circle cx="157.1" cy="81.2" r="0.6"/>
<circle cx="145.0" cy="85.8" r="0.6"/>
<circle cx="156.5" cy="84.2" r="0.6"/>
<circle cx="152.1" cy="93.2" r="0.6"/>
<circle cx="154.4" cy="92.4" r="0.6"/>
<circle cx="147.4" cy="93.0" r="0.6"/>
<circle cx="157.8" cy="83.7" r="0.6"/>
<circle cx="155.3" cy="92.5" r="0.6"/>
<circle cx="144.8" cy="85.3" r="0.6"/>
<circle cx="158.1" cy="85.9" r="0.6"/>
<circle cx="149.2" cy="82.3" r="0.6"/>
<circle cx="146.0" cy="91.9" r="0.6"/>
<circle cx="145.7" cy="92.2" r="0.6"/>
<circle cx="143.0" cy="91.3" r="0.6"/>
<circle cx="146.1" cy="92.7" r="0.6"/>
<circle cx="144.9" cy="91.9" r="0.6"/>
<circle cx="144.9" cy="91.4" r="0.6"/>
<circle cx="147.7" cy="87.4" r="0.6"/>
<circle cx="148.6" cy="90.7" r="0.6"/>
<circle cx="157.3" cy="81.3" r="0.6"/>
<circle cx="156.6" cy="84.5" r="0.6"/>
<circle cx="152.2" cy="93.0" r="0.6"/>
<circle cx="159.1" cy="87.7" r="0.6"/>
<circle cx="147.2" cy="88.8" r="0.6"/>
<circle cx="151.2" cy="82.3" r="0.6"/>
<circle cx="146.1" cy="84.0" r="0.6"/>
<circle cx="147.8" cy="85.7" r="0.6"/>
<circle cx="159.1" cy="87.2" r="0.6"/>
<circle cx="151.1" cy="91.1" r="0.6"/>
<circle cx="147.4" cy="82.5" r="0.6"/>
<circle cx="148.6" cy="87.8" r="0.6"/>
<circle cx="143.0" cy="90.3" r="0.6"/>
<circle cx="148.9" cy="90.8" r="0.6"/>
<circle cx="153.6" cy="81.6" r="0.6"/>
<circle cx="145.5" cy="92.7" r="0.6"/>
<circle cx="145.9" cy="88.4" r="0.6"/>
<circle cx="157.6" cy="81.4" r="0.6"/>
<circle cx="145.8" cy="92.1" r="0.6"/>
<circle cx="144.9" cy="88.4" r="0.6"/>
<circle cx="146.2" cy="85.6" r="0.6"/>
<circle cx="152.3" cy="90.0" r="0.6"/>
<circle cx="147.2" cy="88.5" r="0.6"/>
<circle cx="149.4" cy="92.6" r="0.6"/>
<circle cx="146.5" cy="86.7" r="0.6"/>
<circle cx="144.2" cy="85.7" r="0.6"/>
<circle cx="145.6" cy="86.5" r="0.6"/>
<circle cx="151.6" cy="81.4" r="0.6"/>
<circle cx="150.3" cy="92.6" r="0.6"/>
<circle cx="152.9" cy="90.4" r="0.6"/>
<circle cx="146.0" cy="89.6" r="0.6"/>
<circle cx="157.5" cy="85.3" r="0.6"/>
<circle cx="157.5" cy="89.6" r="0.6"/>
<circle cx="148.2" cy="86.5" r="0.6"/>
<circle cx="158.3" cy="89.8" r="0.6"/>
<circle cx="156.9" cy="91.9" r="0.6"/>
<circle cx="153.3" cy="80.8" r="0.6"/>
<circle cx="146.6" cy="87.9" r="0.6"/>
<circle cx="148.6" cy="83.0" r="0.6"/>
<circle cx="149.6" cy="91.9" r="0.6"/>
<circle cx="143.5" cy="88.6" r="0.6"/>
<circle cx="145.2" cy="92.3" r="0.6"/>
<circle cx="148.0" cy="86.9" r="0.6"/>
<circle cx="146.8" cy="84.8" r="0.6"/>
<circle cx="157.9" cy="85.9" r="0.6"/>
<circle cx="146.1" cy="84.9" r="0.6"/>
<circle cx="153.8" cy="82.2" r="0.6"/>
<circle cx="150.3" cy="90.1" r="0.6"/>
<circle cx="150.6" cy="81.7" r="0.6"/>
</g>
<path d="M162.00,66.50 C162.63,65.67 164.03,65.75 165.00,66.00 C165.97,66.25 167.27,67.08 167.80,68.00 C168.33,68.92 168.42,70.37 168.20,71.50 C167.98,72.63 167.45,74.22 166.50,74.80 C165.55,75.38 163.38,75.63 162.50,75.00 C161.62,74.37 161.28,72.42 161.20,71.00 C161.12,69.58 161.37,67.33 162.00,66.50Z" fill="#c4563f" stroke="none" stroke-width="1" opacity="0.6"/>
<g fill="#c4563f">
<circle cx="162.9" cy="69.1" r="0.6"/>
<circle cx="163.7" cy="71.9" r="0.6"/>
<circle cx="162.9" cy="68.1" r="0.6"/>
<circle cx="167.3" cy="73.0" r="0.6"/>
<circle cx="162.6" cy="70.4" r="0.6"/>
<circle cx="167.0" cy="73.3" r="0.6"/>
<circle cx="162.8" cy="70.3" r="0.6"/>
<circle cx="162.9" cy="72.7" r="0.6"/>
<circle cx="165.9" cy="70.0" r="0.6"/>
<circle cx="165.2" cy="70.7" r="0.6"/>
<circle cx="163.6" cy="66.8" r="0.6"/>
<circle cx="166.4" cy="73.0" r="0.6"/>
<circle cx="164.2" cy="72.9" r="0.6"/>
<circle cx="167.0" cy="72.2" r="0.6"/>
<circle cx="164.4" cy="73.0" r="0.6"/>
<circle cx="165.3" cy="66.8" r="0.6"/>
<circle cx="166.3" cy="69.0" r="0.6"/>
<circle cx="163.8" cy="68.5" r="0.6"/>
<circle cx="166.9" cy="71.8" r="0.6"/>
<circle cx="163.3" cy="72.7" r="0.6"/>
<circle cx="162.5" cy="73.2" r="0.6"/>
<circle cx="165.4" cy="72.9" r="0.6"/>
<circle cx="166.1" cy="70.2" r="0.6"/>
<circle cx="165.3" cy="71.1" r="0.6"/>
<circle cx="163.2" cy="68.8" r="0.6"/>
<circle cx="166.8" cy="73.4" r="0.6"/>
<circle cx="164.7" cy="69.6" r="0.6"/>
<circle cx="166.1" cy="71.8" r="0.6"/>
<circle cx="163.9" cy="68.5" r="0.6"/>
<circle cx="164.2" cy="69.5" r="0.6"/>
<circle cx="161.6" cy="70.5" r="0.6"/>
<circle cx="167.5" cy="68.5" r="0.6"/>
<circle cx="166.4" cy="72.8" r="0.6"/>
<circle cx="165.8" cy="71.4" r="0.6"/>
<circle cx="162.9" cy="72.1" r="0.6"/>
<circle cx="165.3" cy="74.7" r="0.6"/>
<circle cx="164.8" cy="69.2" r="0.6"/>
<circle cx="167.5" cy="71.6" r="0.6"/>
<circle cx="163.6" cy="71.8" r="0.6"/>
<circle cx="162.3" cy="67.7" r="0.6"/>
<circle cx="167.4" cy="70.2" r="0.6"/>
<circle cx="166.8" cy="67.9" r="0.6"/>
<circle cx="164.5" cy="68.1" r="0.6"/>
<circle cx="166.8" cy="71.4" r="0.6"/>
<circle cx="164.0" cy="69.5" r="0.6"/>
</g>
<path d="M159.50,74.00 C160.63,73.17 163.87,74.33 166.00,75.00 C168.13,75.67 170.37,76.62 172.30,78.00 C174.23,79.38 176.37,81.53 177.60,83.30 C178.83,85.07 179.52,86.83 179.70,88.60 C179.88,90.37 179.58,92.50 178.70,93.90 C177.82,95.30 176.52,96.30 174.40,97.00 C172.28,97.70 168.98,98.00 166.00,98.10 C163.02,98.20 159.50,97.78 156.50,97.60 C153.50,97.42 150.33,97.35 148.00,97.00 C145.67,96.65 143.67,96.17 142.50,95.50 C141.33,94.83 140.75,93.50 141.00,93.00 C141.25,92.50 142.50,92.33 144.00,92.50 C145.50,92.67 148.00,93.92 150.00,94.00 C152.00,94.08 154.50,93.92 156.00,93.00 C157.50,92.08 158.47,90.67 159.00,88.50 C159.53,86.33 159.12,82.42 159.20,80.00 C159.28,77.58 158.37,74.83 159.50,74.00Z" fill="#c4563f" stroke="none" stroke-width="1" />
<g fill="#c4563f">
<circle cx="158.4" cy="99.0" r="0.55"/>
<circle cx="179.7" cy="91.9" r="0.55"/>
<circle cx="158.7" cy="83.3" r="0.55"/>
<circle cx="154.9" cy="91.9" r="0.55"/>
<circle cx="159.1" cy="80.6" r="0.55"/>
<circle cx="157.1" cy="98.8" r="0.55"/>
<circle cx="158.7" cy="76.3" r="0.55"/>
<circle cx="158.3" cy="98.6" r="0.55"/>
<circle cx="158.9" cy="81.1" r="0.55"/>
<circle cx="178.8" cy="93.8" r="0.55"/>
<circle cx="148.3" cy="98.3" r="0.55"/>
<circle cx="170.0" cy="76.7" r="0.55"/>
<circle cx="177.4" cy="95.6" r="0.55"/>
<circle cx="157.4" cy="90.9" r="0.55"/>
<circle cx="161.4" cy="98.0" r="0.55"/>
<circle cx="159.7" cy="98.9" r="0.55"/>
<circle cx="142.9" cy="96.7" r="0.55"/>
<circle cx="145.2" cy="96.6" r="0.55"/>
<circle cx="180.1" cy="87.0" r="0.55"/>
<circle cx="176.1" cy="81.7" r="0.55"/>
<circle cx="159.9" cy="73.2" r="0.55"/>
<circle cx="172.6" cy="98.4" r="0.55"/>
<circle cx="142.6" cy="95.8" r="0.55"/>
<circle cx="158.3" cy="88.2" r="0.55"/>
<circle cx="168.0" cy="74.9" r="0.55"/>
<circle cx="179.0" cy="92.4" r="0.55"/>
<circle cx="165.2" cy="74.4" r="0.55"/>
<circle cx="170.9" cy="76.3" r="0.55"/>
<circle cx="175.7" cy="96.9" r="0.55"/>
<circle cx="163.5" cy="98.5" r="0.55"/>
<circle cx="176.3" cy="96.2" r="0.55"/>
<circle cx="147.3" cy="93.1" r="0.55"/>
<circle cx="142.3" cy="92.5" r="0.55"/>
<circle cx="166.5" cy="74.4" r="0.55"/>
<circle cx="146.9" cy="92.6" r="0.55"/>
<circle cx="173.9" cy="97.2" r="0.55"/>
<circle cx="141.2" cy="93.7" r="0.55"/>
<circle cx="148.5" cy="98.1" r="0.55"/>
<circle cx="180.1" cy="91.3" r="0.55"/>
<circle cx="153.5" cy="97.7" r="0.55"/>
<circle cx="148.5" cy="93.1" r="0.55"/>
<circle cx="160.2" cy="72.9" r="0.55"/>
<circle cx="150.5" cy="93.9" r="0.55"/>
<circle cx="144.5" cy="91.7" r="0.55"/>
<circle cx="179.9" cy="87.5" r="0.55"/>
<circle cx="142.1" cy="95.2" r="0.55"/>
<circle cx="156.2" cy="91.4" r="0.55"/>
<circle cx="158.2" cy="82.6" r="0.55"/>
<circle cx="158.6" cy="79.7" r="0.55"/>
<circle cx="155.3" cy="98.8" r="0.55"/>
</g>
<g fill="#fff" opacity="0.8">
<circle cx="156.5" cy="94.1" r="0.45"/>
<circle cx="166.3" cy="83.6" r="0.45"/>
<circle cx="175.0" cy="84.4" r="0.45"/>
<circle cx="172.4" cy="83.3" r="0.45"/>
<circle cx="166.0" cy="91.9" r="0.45"/>
<circle cx="161.3" cy="91.6" r="0.45"/>
<circle cx="175.1" cy="85.9" r="0.45"/>
<circle cx="163.5" cy="95.1" r="0.45"/>
<circle cx="171.0" cy="87.1" r="0.45"/>
<circle cx="162.6" cy="88.0" r="0.45"/>
<circle cx="176.9" cy="87.2" r="0.45"/>
<circle cx="167.0" cy="80.7" r="0.45"/>
<circle cx="176.3" cy="89.1" r="0.45"/>
<circle cx="165.1" cy="78.1" r="0.45"/>
<circle cx="160.8" cy="91.2" r="0.45"/>
<circle cx="160.2" cy="92.4" r="0.45"/>
<circle cx="171.9" cy="84.7" r="0.45"/>
<circle cx="168.3" cy="82.5" r="0.45"/>
<circle cx="159.2" cy="95.3" r="0.45"/>
<circle cx="168.9" cy="78.7" r="0.45"/>
<circle cx="159.6" cy="94.6" r="0.45"/>
<circle cx="165.0" cy="95.9" r="0.45"/>
<circle cx="177.5" cy="87.9" r="0.45"/>
<circle cx="172.4" cy="94.2" r="0.45"/>
<circle cx="168.2" cy="84.4" r="0.45"/>
</g>
<circle cx="136.60" cy="70.00" r="0.80" fill="#e58ac0" />
<circle cx="85.00" cy="101.00" r="0.60" fill="#f7bb1a" />
<circle cx="87.00" cy="103.00" r="0.60" fill="#f7bb1a" />
<circle cx="89.00" cy="131.00" r="0.60" fill="#cc4d4c" />
<circle cx="88.50" cy="129.50" r="0.60" fill="#cc4d4c" />
<circle cx="95.00" cy="103.50" r="0.60" fill="#b98128" />
<circle cx="93.50" cy="101.00" r="0.60" fill="#b98128" />
<circle cx="89.00" cy="104.00" r="0.60" fill="#f07c22" />
<circle cx="86.00" cy="105.20" r="0.60" fill="#f07c22" />
<circle cx="155.00" cy="64.00" r="0.60" fill="#c4563f" />
<circle cx="118.00" cy="50.00" r="0.60" fill="#e6242b" />
<circle cx="120.00" cy="51.50" r="0.60" fill="#e6242b" />
<text x="50.50" y="21.50" font-size="7.8" text-anchor="start" font-weight="normal" font-style="normal" fill="#231f20" textLength="58.3" lengthAdjust="spacingAndGlyphs" >CD16+ monocyte</text>
<text x="129.30" y="20.00" font-size="7.8" text-anchor="start" font-weight="bold" font-style="normal" fill="#231f20" textLength="67" lengthAdjust="spacingAndGlyphs" >Total # cells: 36313</text>
<text x="129.30" y="38.00" font-size="7.8" text-anchor="start" font-weight="normal" font-style="normal" fill="#231f20" textLength="58.8" lengthAdjust="spacingAndGlyphs" >CD14+ monocyte</text>
<text x="140.60" y="55.00" font-size="7.8" text-anchor="start" font-weight="normal" font-style="normal" fill="#231f20" textLength="13.7" lengthAdjust="spacingAndGlyphs" >cDC</text>
<text x="67.00" y="58.30" font-size="7.8" text-anchor="start" font-weight="normal" font-style="normal" fill="#231f20" textLength="38.5" lengthAdjust="spacingAndGlyphs" >CD4+ naive</text>
<text x="131.30" y="77.00" font-size="7.8" text-anchor="start" font-weight="normal" font-style="normal" fill="#231f20" textLength="14.5" lengthAdjust="spacingAndGlyphs" >pDC</text>
<text x="98.00" y="88.60" font-size="7.8" text-anchor="start" font-weight="normal" font-style="normal" fill="#231f20" textLength="44.5" lengthAdjust="spacingAndGlyphs" >CD4+CD69+ T</text>
<text x="108.20" y="98.00" font-size="7.8" text-anchor="start" font-weight="normal" font-style="normal" fill="#231f20" textLength="34.8" lengthAdjust="spacingAndGlyphs" >Unknown</text>
<text x="103.60" y="96.60" font-size="3.5" text-anchor="start" font-weight="normal" font-style="normal" fill="#666" >Th</text>
<text x="148.80" y="104.30" font-size="7.8" text-anchor="start" font-weight="normal" font-style="normal" fill="#231f20" textLength="30.5" lengthAdjust="spacingAndGlyphs" >Mature B</text>
<text x="37.00" y="103.80" font-size="7.8" text-anchor="start" font-weight="normal" font-style="normal" fill="#231f20" textLength="39.3" lengthAdjust="spacingAndGlyphs" >CD8+ naive</text>
<text x="102.00" y="109.60" font-size="7.8" text-anchor="start" font-weight="normal" font-style="normal" fill="#231f20" textLength="40.5" lengthAdjust="spacingAndGlyphs" >Exhausted T</text>
<text x="52.00" y="112.60" font-size="7.8" text-anchor="start" font-weight="normal" font-style="normal" fill="#231f20" textLength="32.5" lengthAdjust="spacingAndGlyphs" >CD8+ EM</text>
<text x="95.50" y="125.60" font-size="7.8" text-anchor="start" font-weight="normal" font-style="normal" fill="#231f20" textLength="48.3" lengthAdjust="spacingAndGlyphs" >CD8+ effector</text>
<text x="96.30" y="135.60" font-size="7.8" text-anchor="start" font-weight="normal" font-style="normal" fill="#231f20" textLength="36.3" lengthAdjust="spacingAndGlyphs" >CD16+ NK</text>
<text x="38.80" y="146.30" font-size="7.8" text-anchor="start" font-weight="normal" font-style="normal" fill="#231f20" textLength="36.3" lengthAdjust="spacingAndGlyphs" >CD56+ NK</text>
<text x="86.30" y="149.30" font-size="7.8" text-anchor="start" font-weight="normal" font-style="normal" fill="#231f20" textLength="16.3" lengthAdjust="spacingAndGlyphs" >NK T</text>
<text x="48.80" y="160.60" font-size="7.8" text-anchor="start" font-weight="normal" font-style="normal" fill="#231f20" textLength="28.3" lengthAdjust="spacingAndGlyphs" >UMAP 1</text>
<text transform="translate(33.20,138.80) rotate(-90)" x="0" y="0" font-size="7.8" text-anchor="start" font-weight="normal" font-style="normal" fill="#231f20" textLength="27.5" lengthAdjust="spacingAndGlyphs" >UMAP 2</text>
<line x1="29.60" y1="143.50" x2="29.60" y2="159.10" stroke="#231f20" stroke-width="0.9" />
<line x1="29.10" y1="158.70" x2="44.50" y2="158.70" stroke="#231f20" stroke-width="0.9" />
<path d="M29.6,140.8 L27.9,144.2 L31.3,144.2 Z" fill="#231f20" stroke="none" stroke-width="1" />
<path d="M47.2,158.7 L43.8,157 L43.8,160.4 Z" fill="#231f20" stroke="none" stroke-width="1" />
</g>
<line x1="280.20" y1="24.60" x2="280.20" y2="125.50" stroke="#222" stroke-width="1.1" />
<line x1="279.70" y1="125.00" x2="451.20" y2="125.00" stroke="#222" stroke-width="1.1" />
<line x1="277.00" y1="120.50" x2="280.20" y2="120.50" stroke="#222" stroke-width="0.9" />
<text x="274.60" y="123.10" font-size="7.6" text-anchor="end" font-weight="normal" font-style="normal" fill="#231f20" >0</text>
<line x1="277.00" y1="93.20" x2="280.20" y2="93.20" stroke="#222" stroke-width="0.9" />
<text x="274.60" y="95.80" font-size="7.6" text-anchor="end" font-weight="normal" font-style="normal" fill="#231f20" >1</text>
<line x1="277.00" y1="65.90" x2="280.20" y2="65.90" stroke="#222" stroke-width="0.9" />
<text x="274.60" y="68.50" font-size="7.6" text-anchor="end" font-weight="normal" font-style="normal" fill="#231f20" >2</text>
<line x1="277.00" y1="38.60" x2="280.20" y2="38.60" stroke="#222" stroke-width="0.9" />
<text x="274.60" y="41.20" font-size="7.6" text-anchor="end" font-weight="normal" font-style="normal" fill="#231f20" >3</text>
<text transform="translate(264.40,74.90) rotate(-90)" x="0" y="0" font-size="8" text-anchor="middle" font-weight="normal" font-style="normal" fill="#231f20" textLength="71.3" lengthAdjust="spacingAndGlyphs" ><tspan font-style="italic">IFNG</tspan> expression level</text>
<line x1="291.20" y1="125.00" x2="291.20" y2="128.00" stroke="#222" stroke-width="0.9" />
<line x1="309.86" y1="125.00" x2="309.86" y2="128.00" stroke="#222" stroke-width="0.9" />
<line x1="328.52" y1="125.00" x2="328.52" y2="128.00" stroke="#222" stroke-width="0.9" />
<line x1="347.18" y1="125.00" x2="347.18" y2="128.00" stroke="#222" stroke-width="0.9" />
<line x1="365.84" y1="125.00" x2="365.84" y2="128.00" stroke="#222" stroke-width="0.9" />
<line x1="384.50" y1="125.00" x2="384.50" y2="128.00" stroke="#222" stroke-width="0.9" />
<line x1="403.16" y1="125.00" x2="403.16" y2="128.00" stroke="#222" stroke-width="0.9" />
<line x1="421.82" y1="125.00" x2="421.82" y2="128.00" stroke="#222" stroke-width="0.9" />
<line x1="440.48" y1="125.00" x2="440.48" y2="128.00" stroke="#222" stroke-width="0.9" />
<rect x="282.90" y="119.40" width="16.60" height="2.30" fill="#c8102e"/>
<rect x="301.56" y="119.40" width="16.60" height="2.30" fill="#c8102e"/>
<rect x="320.22" y="119.40" width="16.60" height="2.30" fill="#c8102e"/>
<rect x="338.88" y="119.40" width="16.60" height="2.30" fill="#c8102e"/>
<rect x="357.54" y="119.40" width="16.60" height="2.30" fill="#c8102e"/>
<rect x="376.20" y="119.40" width="16.60" height="2.30" fill="#c8102e"/>
<rect x="394.86" y="119.40" width="16.60" height="2.30" fill="#c8102e"/>
<rect x="413.52" y="119.40" width="16.60" height="2.30" fill="#c8102e"/>
<rect x="432.18" y="119.40" width="16.60" height="2.30" fill="#c8102e"/>
<g fill="#c8102e">
<circle cx="321.6" cy="99.7" r="0.95"/>
<circle cx="327.2" cy="96.8" r="0.95"/>
<circle cx="330.4" cy="89.9" r="0.95"/>
<circle cx="331.2" cy="102.0" r="0.95"/>
<circle cx="334.4" cy="109.3" r="0.95"/>
<circle cx="347.7" cy="94.4" r="0.95"/>
<circle cx="349.9" cy="97.1" r="0.95"/>
<circle cx="354.1" cy="107.2" r="0.95"/>
<circle cx="414.9" cy="98.7" r="0.95"/>
<circle cx="438.9" cy="97.6" r="0.95"/>
<circle cx="372.8" cy="80.9" r="0.95"/>
<circle cx="368.4" cy="95.5" r="0.95"/>
<circle cx="365.4" cy="82.6" r="0.95"/>
<circle cx="370.2" cy="88.3" r="0.95"/>
<circle cx="360.2" cy="97.0" r="0.95"/>
<circle cx="363.6" cy="92.9" r="0.95"/>
<circle cx="367.1" cy="90.1" r="0.95"/>
<circle cx="363.6" cy="88.9" r="0.95"/>
<circle cx="370.3" cy="83.2" r="0.95"/>
<circle cx="361.9" cy="86.6" r="0.95"/>
<circle cx="368.3" cy="91.7" r="0.95"/>
<circle cx="360.9" cy="59.7" r="0.95"/>
<circle cx="364.2" cy="82.1" r="0.95"/>
<circle cx="367.1" cy="59.8" r="0.95"/>
<circle cx="364.1" cy="82.9" r="0.95"/>
<circle cx="365.9" cy="86.3" r="0.95"/>
<circle cx="362.6" cy="78.0" r="0.95"/>
<circle cx="367.3" cy="71.5" r="0.95"/>
<circle cx="358.9" cy="87.8" r="0.95"/>
<circle cx="372.4" cy="76.2" r="0.95"/>
<circle cx="369.9" cy="83.6" r="0.95"/>
<circle cx="364.7" cy="84.6" r="0.95"/>
<circle cx="368.5" cy="87.1" r="0.95"/>
<circle cx="364.3" cy="78.1" r="0.95"/>
<circle cx="368.5" cy="61.5" r="0.95"/>
<circle cx="372.4" cy="65.3" r="0.95"/>
<circle cx="368.3" cy="89.0" r="0.95"/>
<circle cx="372.3" cy="81.3" r="0.95"/>
<circle cx="363.1" cy="81.7" r="0.95"/>
<circle cx="369.5" cy="57.1" r="0.95"/>
<circle cx="358.8" cy="84.1" r="0.95"/>
<circle cx="363.5" cy="86.8" r="0.95"/>
<circle cx="370.9" cy="81.2" r="0.95"/>
<circle cx="364.0" cy="89.6" r="0.95"/>
<circle cx="372.3" cy="79.3" r="0.95"/>
<circle cx="360.0" cy="59.1" r="0.95"/>
<circle cx="370.6" cy="83.2" r="0.95"/>
<circle cx="359.9" cy="81.6" r="0.95"/>
<circle cx="372.9" cy="68.1" r="0.95"/>
<circle cx="368.8" cy="83.5" r="0.95"/>
<circle cx="359.8" cy="90.0" r="0.95"/>
<circle cx="359.6" cy="64.9" r="0.95"/>
<circle cx="364.9" cy="86.8" r="0.95"/>
<circle cx="360.0" cy="87.8" r="0.95"/>
<circle cx="358.7" cy="95.2" r="0.95"/>
<circle cx="359.7" cy="87.8" r="0.95"/>
<circle cx="372.6" cy="82.5" r="0.95"/>
<circle cx="368.3" cy="80.8" r="0.95"/>
<circle cx="372.6" cy="82.5" r="0.95"/>
<circle cx="370.7" cy="77.1" r="0.95"/>
<circle cx="370.9" cy="82.6" r="0.95"/>
<circle cx="361.5" cy="77.4" r="0.95"/>
<circle cx="372.9" cy="83.2" r="0.95"/>
<circle cx="364.8" cy="78.8" r="0.95"/>
<circle cx="372.3" cy="81.4" r="0.95"/>
<circle cx="366.7" cy="78.7" r="0.95"/>
<circle cx="372.6" cy="62.1" r="0.95"/>
<circle cx="367.4" cy="79.6" r="0.95"/>
<circle cx="370.0" cy="91.3" r="0.95"/>
<circle cx="360.5" cy="74.1" r="0.95"/>
<circle cx="368.1" cy="88.7" r="0.95"/>
<circle cx="367.0" cy="79.7" r="0.95"/>
<circle cx="364.2" cy="80.7" r="0.95"/>
<circle cx="369.0" cy="80.8" r="0.95"/>
<circle cx="365.0" cy="69.2" r="0.95"/>
<circle cx="361.4" cy="84.9" r="0.95"/>
<circle cx="364.5" cy="77.7" r="0.95"/>
<circle cx="365.7" cy="85.1" r="0.95"/>
<circle cx="371.6" cy="90.0" r="0.95"/>
<circle cx="365.2" cy="85.5" r="0.95"/>
<circle cx="372.4" cy="82.2" r="0.95"/>
<circle cx="365.3" cy="85.9" r="0.95"/>
<circle cx="358.8" cy="84.9" r="0.95"/>
<circle cx="363.0" cy="91.2" r="0.95"/>
<circle cx="363.3" cy="85.0" r="0.95"/>
<circle cx="361.8" cy="79.1" r="0.95"/>
<circle cx="368.9" cy="80.5" r="0.95"/>
<circle cx="371.5" cy="92.8" r="0.95"/>
<circle cx="368.2" cy="63.0" r="0.95"/>
<circle cx="370.4" cy="84.9" r="0.95"/>
<circle cx="372.0" cy="77.4" r="0.95"/>
<circle cx="366.5" cy="80.7" r="0.95"/>
<circle cx="365.8" cy="90.4" r="0.95"/>
<circle cx="359.2" cy="87.8" r="0.95"/>
<circle cx="364.8" cy="88.3" r="0.95"/>
<circle cx="371.0" cy="79.1" r="0.95"/>
<circle cx="365.3" cy="87.7" r="0.95"/>
<circle cx="366.9" cy="92.2" r="0.95"/>
<circle cx="363.1" cy="89.6" r="0.95"/>
<circle cx="361.0" cy="96.5" r="0.95"/>
<circle cx="362.2" cy="74.6" r="0.95"/>
<circle cx="366.9" cy="78.6" r="0.95"/>
<circle cx="367.5" cy="86.8" r="0.95"/>
<circle cx="363.2" cy="60.5" r="0.95"/>
<circle cx="368.5" cy="84.4" r="0.95"/>
<circle cx="373.0" cy="88.0" r="0.95"/>
<circle cx="364.2" cy="88.5" r="0.95"/>
<circle cx="369.4" cy="92.6" r="0.95"/>
<circle cx="360.3" cy="79.0" r="0.95"/>
<circle cx="367.8" cy="93.2" r="0.95"/>
<circle cx="360.4" cy="84.4" r="0.95"/>
<circle cx="367.5" cy="73.8" r="0.95"/>
<circle cx="359.1" cy="82.3" r="0.95"/>
<circle cx="365.8" cy="81.0" r="0.95"/>
<circle cx="361.6" cy="84.8" r="0.95"/>
<circle cx="368.5" cy="88.0" r="0.95"/>
<circle cx="363.9" cy="84.3" r="0.95"/>
<circle cx="370.1" cy="82.3" r="0.95"/>
<circle cx="361.6" cy="89.9" r="0.95"/>
<circle cx="372.6" cy="77.4" r="0.95"/>
<circle cx="362.7" cy="84.4" r="0.95"/>
<circle cx="371.4" cy="82.6" r="0.95"/>
<circle cx="370.7" cy="80.9" r="0.95"/>
<circle cx="368.3" cy="89.8" r="0.95"/>
<circle cx="372.8" cy="75.7" r="0.95"/>
<circle cx="369.3" cy="80.5" r="0.95"/>
<circle cx="359.7" cy="79.0" r="0.95"/>
<circle cx="370.9" cy="82.5" r="0.95"/>
<circle cx="366.7" cy="85.4" r="0.95"/>
<circle cx="371.7" cy="81.3" r="0.95"/>
<circle cx="364.1" cy="90.8" r="0.95"/>
<circle cx="364.2" cy="83.7" r="0.95"/>
<circle cx="366.2" cy="83.4" r="0.95"/>
<circle cx="363.6" cy="77.5" r="0.95"/>
<circle cx="366.1" cy="80.5" r="0.95"/>
<circle cx="360.8" cy="30.4" r="0.95"/>
<circle cx="361.8" cy="49.5" r="0.95"/>
<circle cx="359.8" cy="57.7" r="0.95"/>
<circle cx="364.8" cy="58.3" r="0.95"/>
<circle cx="371.8" cy="57.7" r="0.95"/>
<circle cx="368.8" cy="63.2" r="0.95"/>
<circle cx="359.8" cy="64.5" r="0.95"/>
<circle cx="370.3" cy="108.2" r="0.95"/>
<circle cx="370.8" cy="106.8" r="0.95"/>
<circle cx="367.8" cy="97.3" r="0.95"/>
<circle cx="378.5" cy="41.3" r="0.95"/>
<circle cx="381.5" cy="65.9" r="0.95"/>
<circle cx="379.5" cy="68.6" r="0.95"/>
<circle cx="381.0" cy="72.7" r="0.95"/>
<circle cx="386.5" cy="63.2" r="0.95"/>
<circle cx="388.5" cy="78.2" r="0.95"/>
<circle cx="390.5" cy="82.3" r="0.95"/>
<circle cx="377.5" cy="85.0" r="0.95"/>
<circle cx="382.5" cy="76.8" r="0.95"/>
<circle cx="378.5" cy="93.2" r="0.95"/>
<circle cx="386.5" cy="90.5" r="0.95"/>
<circle cx="380.5" cy="112.3" r="0.95"/>
<circle cx="391.5" cy="104.1" r="0.95"/>
<circle cx="385.5" cy="72.7" r="0.95"/>
<circle cx="389.5" cy="80.9" r="0.95"/>
<circle cx="383.5" cy="85.0" r="0.95"/>
<circle cx="387.5" cy="86.4" r="0.95"/>
<circle cx="391.5" cy="83.6" r="0.95"/>
<circle cx="377.5" cy="76.8" r="0.95"/>
<circle cx="390.0" cy="86.4" r="0.95"/>
<circle cx="380.0" cy="60.4" r="0.95"/>
<circle cx="384.5" cy="70.0" r="0.95"/>
<circle cx="391.0" cy="74.1" r="0.95"/>
<circle cx="404.9" cy="75.3" r="0.95"/>
<circle cx="406.6" cy="76.0" r="0.95"/>
<circle cx="396.6" cy="93.3" r="0.95"/>
<circle cx="399.2" cy="89.4" r="0.95"/>
<circle cx="406.3" cy="87.7" r="0.95"/>
<circle cx="405.0" cy="87.1" r="0.95"/>
<circle cx="395.9" cy="82.7" r="0.95"/>
<circle cx="410.3" cy="55.5" r="0.95"/>
<circle cx="402.7" cy="60.6" r="0.95"/>
<circle cx="400.6" cy="84.0" r="0.95"/>
<circle cx="404.7" cy="89.4" r="0.95"/>
<circle cx="398.1" cy="57.2" r="0.95"/>
<circle cx="408.8" cy="84.4" r="0.95"/>
<circle cx="399.7" cy="64.3" r="0.95"/>
<circle cx="407.0" cy="84.8" r="0.95"/>
<circle cx="409.1" cy="87.9" r="0.95"/>
<circle cx="403.8" cy="62.3" r="0.95"/>
<circle cx="405.9" cy="65.7" r="0.95"/>
<circle cx="397.4" cy="90.1" r="0.95"/>
<circle cx="399.1" cy="78.3" r="0.95"/>
<circle cx="398.7" cy="79.5" r="0.95"/>
<circle cx="400.6" cy="61.8" r="0.95"/>
<circle cx="397.3" cy="64.9" r="0.95"/>
<circle cx="403.6" cy="74.9" r="0.95"/>
<circle cx="405.7" cy="76.0" r="0.95"/>
<circle cx="399.6" cy="76.8" r="0.95"/>
<circle cx="399.3" cy="95.0" r="0.95"/>
<circle cx="409.8" cy="92.2" r="0.95"/>
<circle cx="397.2" cy="69.1" r="0.95"/>
<circle cx="406.1" cy="95.4" r="0.95"/>
<circle cx="408.9" cy="76.8" r="0.95"/>
<circle cx="400.0" cy="71.1" r="0.95"/>
<circle cx="403.5" cy="73.3" r="0.95"/>
<circle cx="403.6" cy="77.3" r="0.95"/>
<circle cx="398.1" cy="85.4" r="0.95"/>
<circle cx="397.8" cy="71.0" r="0.95"/>
<circle cx="409.5" cy="85.7" r="0.95"/>
<circle cx="400.0" cy="47.2" r="0.95"/>
<circle cx="410.1" cy="92.9" r="0.95"/>
<circle cx="397.9" cy="94.6" r="0.95"/>
<circle cx="407.4" cy="92.1" r="0.95"/>
<circle cx="407.7" cy="67.0" r="0.95"/>
<circle cx="397.0" cy="89.0" r="0.95"/>
<circle cx="410.4" cy="62.9" r="0.95"/>
<circle cx="397.7" cy="64.8" r="0.95"/>
<circle cx="409.0" cy="83.8" r="0.95"/>
<circle cx="401.1" cy="87.2" r="0.95"/>
<circle cx="399.1" cy="88.2" r="0.95"/>
<circle cx="406.9" cy="79.6" r="0.95"/>
<circle cx="408.0" cy="60.9" r="0.95"/>
<circle cx="408.3" cy="80.3" r="0.95"/>
<circle cx="400.2" cy="78.3" r="0.95"/>
<circle cx="399.1" cy="86.2" r="0.95"/>
<circle cx="410.2" cy="83.7" r="0.95"/>
<circle cx="402.7" cy="78.6" r="0.95"/>
<circle cx="404.5" cy="95.1" r="0.95"/>
<circle cx="409.9" cy="67.5" r="0.95"/>
<circle cx="400.6" cy="83.5" r="0.95"/>
<circle cx="396.0" cy="81.1" r="0.95"/>
<circle cx="408.8" cy="77.2" r="0.95"/>
<circle cx="404.4" cy="90.6" r="0.95"/>
<circle cx="396.6" cy="77.7" r="0.95"/>
<circle cx="404.2" cy="89.6" r="0.95"/>
<circle cx="404.8" cy="83.5" r="0.95"/>
<circle cx="404.1" cy="86.8" r="0.95"/>
<circle cx="404.9" cy="51.0" r="0.95"/>
<circle cx="406.2" cy="81.7" r="0.95"/>
<circle cx="404.0" cy="90.1" r="0.95"/>
<circle cx="404.7" cy="66.6" r="0.95"/>
<circle cx="402.4" cy="88.3" r="0.95"/>
<circle cx="401.4" cy="72.7" r="0.95"/>
<circle cx="398.7" cy="92.8" r="0.95"/>
<circle cx="405.2" cy="69.3" r="0.95"/>
<circle cx="396.0" cy="76.1" r="0.95"/>
<circle cx="403.5" cy="92.9" r="0.95"/>
<circle cx="405.5" cy="49.2" r="0.95"/>
<circle cx="407.5" cy="78.6" r="0.95"/>
<circle cx="402.5" cy="75.1" r="0.95"/>
<circle cx="410.4" cy="68.8" r="0.95"/>
<circle cx="396.8" cy="87.6" r="0.95"/>
<circle cx="410.4" cy="80.9" r="0.95"/>
<circle cx="400.1" cy="76.3" r="0.95"/>
<circle cx="397.8" cy="80.8" r="0.95"/>
<circle cx="401.1" cy="59.0" r="0.95"/>
<circle cx="410.1" cy="76.0" r="0.95"/>
<circle cx="408.5" cy="91.6" r="0.95"/>
<circle cx="402.2" cy="73.5" r="0.95"/>
<circle cx="404.3" cy="82.5" r="0.95"/>
<circle cx="408.8" cy="77.7" r="0.95"/>
<circle cx="407.6" cy="85.4" r="0.95"/>
<circle cx="404.3" cy="48.8" r="0.95"/>
<circle cx="397.4" cy="82.2" r="0.95"/>
<circle cx="400.5" cy="76.2" r="0.95"/>
<circle cx="403.2" cy="96.1" r="0.95"/>
<circle cx="398.9" cy="75.3" r="0.95"/>
<circle cx="408.7" cy="87.8" r="0.95"/>
<circle cx="397.2" cy="71.9" r="0.95"/>
<circle cx="400.4" cy="80.6" r="0.95"/>
<circle cx="401.6" cy="77.3" r="0.95"/>
<circle cx="397.1" cy="92.7" r="0.95"/>
<circle cx="398.4" cy="79.8" r="0.95"/>
<circle cx="406.7" cy="77.8" r="0.95"/>
<circle cx="406.3" cy="76.1" r="0.95"/>
<circle cx="400.8" cy="79.8" r="0.95"/>
<circle cx="407.4" cy="75.4" r="0.95"/>
<circle cx="396.3" cy="91.1" r="0.95"/>
<circle cx="405.4" cy="65.1" r="0.95"/>
<circle cx="398.8" cy="73.6" r="0.95"/>
<circle cx="396.1" cy="46.7" r="0.95"/>
<circle cx="397.0" cy="86.3" r="0.95"/>
<circle cx="408.2" cy="69.6" r="0.95"/>
<circle cx="398.0" cy="73.5" r="0.95"/>
<circle cx="406.1" cy="81.7" r="0.95"/>
<circle cx="401.4" cy="83.9" r="0.95"/>
<circle cx="400.2" cy="73.5" r="0.95"/>
<circle cx="406.5" cy="50.3" r="0.95"/>
<circle cx="405.3" cy="77.1" r="0.95"/>
<circle cx="402.0" cy="91.2" r="0.95"/>
<circle cx="408.3" cy="79.9" r="0.95"/>
<circle cx="408.4" cy="58.9" r="0.95"/>
<circle cx="403.2" cy="76.9" r="0.95"/>
<circle cx="409.2" cy="59.0" r="0.95"/>
<circle cx="396.7" cy="81.2" r="0.95"/>
<circle cx="400.7" cy="79.3" r="0.95"/>
<circle cx="403.7" cy="50.2" r="0.95"/>
<circle cx="403.4" cy="59.4" r="0.95"/>
<circle cx="404.2" cy="68.7" r="0.95"/>
<circle cx="407.1" cy="88.9" r="0.95"/>
<circle cx="400.6" cy="85.7" r="0.95"/>
<circle cx="398.4" cy="95.2" r="0.95"/>
<circle cx="398.7" cy="46.1" r="0.95"/>
<circle cx="402.9" cy="89.3" r="0.95"/>
<circle cx="409.6" cy="77.3" r="0.95"/>
<circle cx="403.1" cy="47.9" r="0.95"/>
<circle cx="396.8" cy="77.6" r="0.95"/>
<circle cx="396.8" cy="93.6" r="0.95"/>
<circle cx="410.0" cy="94.1" r="0.95"/>
<circle cx="398.9" cy="85.5" r="0.95"/>
<circle cx="402.0" cy="91.9" r="0.95"/>
<circle cx="406.2" cy="83.9" r="0.95"/>
<circle cx="401.7" cy="68.8" r="0.95"/>
<circle cx="398.0" cy="80.1" r="0.95"/>
<circle cx="397.4" cy="61.2" r="0.95"/>
<circle cx="396.1" cy="73.2" r="0.95"/>
<circle cx="408.1" cy="93.2" r="0.95"/>
<circle cx="403.6" cy="73.5" r="0.95"/>
<circle cx="408.6" cy="48.5" r="0.95"/>
<circle cx="398.3" cy="83.5" r="0.95"/>
<circle cx="409.6" cy="89.7" r="0.95"/>
<circle cx="408.7" cy="84.8" r="0.95"/>
<circle cx="399.5" cy="90.8" r="0.95"/>
<circle cx="405.9" cy="90.9" r="0.95"/>
<circle cx="408.3" cy="77.4" r="0.95"/>
<circle cx="409.3" cy="80.2" r="0.95"/>
<circle cx="405.5" cy="79.5" r="0.95"/>
<circle cx="404.6" cy="82.8" r="0.95"/>
<circle cx="410.4" cy="84.9" r="0.95"/>
<circle cx="410.4" cy="79.6" r="0.95"/>
<circle cx="399.0" cy="72.4" r="0.95"/>
<circle cx="410.3" cy="67.9" r="0.95"/>
<circle cx="406.4" cy="58.3" r="0.95"/>
<circle cx="408.0" cy="87.1" r="0.95"/>
<circle cx="396.9" cy="91.5" r="0.95"/>
<circle cx="407.1" cy="79.2" r="0.95"/>
<circle cx="409.6" cy="77.7" r="0.95"/>
<circle cx="399.2" cy="69.0" r="0.95"/>
<circle cx="408.0" cy="82.6" r="0.95"/>
<circle cx="404.3" cy="80.0" r="0.95"/>
<circle cx="403.9" cy="69.3" r="0.95"/>
<circle cx="407.7" cy="73.3" r="0.95"/>
<circle cx="399.3" cy="91.8" r="0.95"/>
<circle cx="404.9" cy="55.3" r="0.95"/>
<circle cx="399.2" cy="74.7" r="0.95"/>
<circle cx="400.3" cy="69.6" r="0.95"/>
<circle cx="406.3" cy="80.4" r="0.95"/>
<circle cx="396.2" cy="88.4" r="0.95"/>
<circle cx="408.3" cy="74.3" r="0.95"/>
<circle cx="396.4" cy="45.7" r="0.95"/>
<circle cx="398.7" cy="89.9" r="0.95"/>
<circle cx="405.6" cy="81.5" r="0.95"/>
<circle cx="404.8" cy="95.6" r="0.95"/>
<circle cx="405.1" cy="81.9" r="0.95"/>
<circle cx="406.2" cy="70.7" r="0.95"/>
<circle cx="409.4" cy="66.7" r="0.95"/>
<circle cx="406.7" cy="45.7" r="0.95"/>
<circle cx="403.6" cy="76.3" r="0.95"/>
<circle cx="402.2" cy="63.0" r="0.95"/>
<circle cx="403.7" cy="88.7" r="0.95"/>
<circle cx="404.9" cy="75.5" r="0.95"/>
<circle cx="403.7" cy="85.7" r="0.95"/>
<circle cx="402.7" cy="62.1" r="0.95"/>
<circle cx="409.5" cy="82.6" r="0.95"/>
<circle cx="396.6" cy="71.5" r="0.95"/>
<circle cx="401.7" cy="76.0" r="0.95"/>
<circle cx="405.4" cy="82.4" r="0.95"/>
<circle cx="402.2" cy="77.6" r="0.95"/>
<circle cx="398.2" cy="70.8" r="0.95"/>
<circle cx="405.1" cy="92.3" r="0.95"/>
<circle cx="407.1" cy="78.2" r="0.95"/>
<circle cx="399.6" cy="85.8" r="0.95"/>
<circle cx="409.7" cy="92.2" r="0.95"/>
<circle cx="404.5" cy="54.5" r="0.95"/>
<circle cx="400.2" cy="92.3" r="0.95"/>
<circle cx="402.9" cy="82.5" r="0.95"/>
<circle cx="398.8" cy="78.0" r="0.95"/>
<circle cx="397.1" cy="56.4" r="0.95"/>
<circle cx="410.3" cy="81.3" r="0.95"/>
<circle cx="408.6" cy="78.6" r="0.95"/>
<circle cx="407.1" cy="91.5" r="0.95"/>
<circle cx="409.6" cy="94.3" r="0.95"/>
<circle cx="402.6" cy="91.4" r="0.95"/>
<circle cx="396.8" cy="91.1" r="0.95"/>
<circle cx="397.3" cy="69.8" r="0.95"/>
<circle cx="398.6" cy="85.1" r="0.95"/>
<circle cx="398.2" cy="84.2" r="0.95"/>
<circle cx="410.0" cy="94.3" r="0.95"/>
<circle cx="404.8" cy="87.0" r="0.95"/>
<circle cx="397.5" cy="71.7" r="0.95"/>
<circle cx="405.8" cy="76.7" r="0.95"/>
<circle cx="406.8" cy="93.0" r="0.95"/>
<circle cx="396.2" cy="80.4" r="0.95"/>
<circle cx="396.0" cy="50.2" r="0.95"/>
<circle cx="396.6" cy="81.2" r="0.95"/>
<circle cx="407.8" cy="83.9" r="0.95"/>
<circle cx="405.1" cy="77.2" r="0.95"/>
<circle cx="398.7" cy="84.0" r="0.95"/>
<circle cx="402.4" cy="82.9" r="0.95"/>
<circle cx="403.9" cy="45.5" r="0.95"/>
<circle cx="405.6" cy="85.0" r="0.95"/>
<circle cx="401.5" cy="66.6" r="0.95"/>
<circle cx="403.8" cy="93.2" r="0.95"/>
<circle cx="399.4" cy="70.2" r="0.95"/>
<circle cx="404.6" cy="88.3" r="0.95"/>
<circle cx="402.5" cy="59.6" r="0.95"/>
<circle cx="398.1" cy="72.5" r="0.95"/>
<circle cx="404.1" cy="78.2" r="0.95"/>
<circle cx="404.5" cy="57.3" r="0.95"/>
<circle cx="405.7" cy="84.0" r="0.95"/>
<circle cx="399.2" cy="85.9" r="0.95"/>
<circle cx="404.5" cy="94.8" r="0.95"/>
<circle cx="406.5" cy="91.0" r="0.95"/>
<circle cx="404.3" cy="80.9" r="0.95"/>
<circle cx="402.6" cy="81.1" r="0.95"/>
<circle cx="404.4" cy="79.7" r="0.95"/>
<circle cx="403.1" cy="76.9" r="0.95"/>
<circle cx="406.7" cy="72.6" r="0.95"/>
<circle cx="398.8" cy="84.3" r="0.95"/>
<circle cx="401.5" cy="81.6" r="0.95"/>
<circle cx="400.3" cy="75.8" r="0.95"/>
<circle cx="401.2" cy="84.3" r="0.95"/>
<circle cx="408.9" cy="68.6" r="0.95"/>
<circle cx="402.1" cy="63.6" r="0.95"/>
<circle cx="397.9" cy="73.5" r="0.95"/>
<circle cx="398.5" cy="81.0" r="0.95"/>
<circle cx="402.7" cy="61.6" r="0.95"/>
<circle cx="404.5" cy="75.0" r="0.95"/>
<circle cx="401.9" cy="84.3" r="0.95"/>
<circle cx="400.8" cy="67.1" r="0.95"/>
<circle cx="402.7" cy="46.6" r="0.95"/>
<circle cx="399.2" cy="75.3" r="0.95"/>
<circle cx="401.0" cy="81.2" r="0.95"/>
<circle cx="409.2" cy="78.0" r="0.95"/>
<circle cx="408.5" cy="95.2" r="0.95"/>
<circle cx="408.4" cy="83.4" r="0.95"/>
<circle cx="402.6" cy="71.7" r="0.95"/>
<circle cx="400.3" cy="76.7" r="0.95"/>
<circle cx="409.3" cy="80.6" r="0.95"/>
<circle cx="406.5" cy="69.6" r="0.95"/>
<circle cx="397.4" cy="62.3" r="0.95"/>
<circle cx="402.8" cy="52.0" r="0.95"/>
<circle cx="402.7" cy="30.4" r="0.95"/>
<circle cx="408.2" cy="37.2" r="0.95"/>
<circle cx="398.7" cy="44.1" r="0.95"/>
<circle cx="409.2" cy="45.4" r="0.95"/>
<circle cx="400.2" cy="94.6" r="0.95"/>
<circle cx="407.2" cy="97.3" r="0.95"/>
<circle cx="406.2" cy="41.3" r="0.95"/>
<circle cx="401.2" cy="40.0" r="0.95"/>
</g>
<line x1="328.50" y1="90.00" x2="328.50" y2="119.50" stroke="#333" stroke-width="0.9" />
<line x1="347.50" y1="94.40" x2="347.50" y2="119.50" stroke="#333" stroke-width="0.9" />
<line x1="365.50" y1="29.10" x2="365.50" y2="119.50" stroke="#333" stroke-width="0.9" />
<line x1="384.50" y1="40.80" x2="384.50" y2="119.50" stroke="#333" stroke-width="0.9" />
<line x1="403.50" y1="29.60" x2="403.50" y2="119.50" stroke="#333" stroke-width="0.9" />
<line x1="421.50" y1="98.40" x2="421.50" y2="119.50" stroke="#333" stroke-width="0.9" />
<line x1="440.50" y1="97.60" x2="440.50" y2="119.50" stroke="#333" stroke-width="0.9" />
<text transform="translate(291.60,134.90) rotate(-45)" x="0" y="0" font-size="7.8" text-anchor="end" font-weight="normal" font-style="normal" fill="#231f20" >PT mature B</text>
<text transform="translate(310.26,134.90) rotate(-45)" x="0" y="0" font-size="7.8" text-anchor="end" font-weight="normal" font-style="normal" fill="#231f20" >HD mature B</text>
<text transform="translate(328.92,134.90) rotate(-45)" x="0" y="0" font-size="7.8" text-anchor="end" font-weight="normal" font-style="normal" fill="#231f20" >PT monocyte</text>
<text transform="translate(347.58,134.90) rotate(-45)" x="0" y="0" font-size="7.8" text-anchor="end" font-weight="normal" font-style="normal" fill="#231f20" >HD monocyte</text>
<text transform="translate(366.24,134.90) rotate(-45)" x="0" y="0" font-size="7.8" text-anchor="end" font-weight="normal" font-style="normal" fill="#231f20" >PT NK</text>
<text transform="translate(384.90,134.90) rotate(-45)" x="0" y="0" font-size="7.8" text-anchor="end" font-weight="normal" font-style="normal" fill="#231f20" >HD NK</text>
<text transform="translate(403.56,134.90) rotate(-45)" x="0" y="0" font-size="7.8" text-anchor="end" font-weight="normal" font-style="normal" fill="#231f20" >PT NK T</text>
<text transform="translate(422.22,134.90) rotate(-45)" x="0" y="0" font-size="7.8" text-anchor="end" font-weight="normal" font-style="normal" fill="#231f20" >PT pDC</text>
<text transform="translate(440.88,134.90) rotate(-45)" x="0" y="0" font-size="7.8" text-anchor="end" font-weight="normal" font-style="normal" fill="#231f20" >HD pDC</text>
<line x1="68.20" y1="199.50" x2="68.20" y2="288.60" stroke="#231f20" stroke-width="1.1" />
<line x1="64.60" y1="286.90" x2="68.20" y2="286.90" stroke="#231f20" stroke-width="0.9" />
<text x="62.40" y="289.60" font-size="7.6" text-anchor="end" font-weight="normal" font-style="normal" fill="#231f20" >0</text>
<line x1="64.60" y1="256.80" x2="68.20" y2="256.80" stroke="#231f20" stroke-width="0.9" />
<text x="62.40" y="259.50" font-size="7.6" text-anchor="end" font-weight="normal" font-style="normal" fill="#231f20" >0.1</text>
<line x1="64.60" y1="226.60" x2="68.20" y2="226.60" stroke="#231f20" stroke-width="0.9" />
<text x="62.40" y="229.30" font-size="7.6" text-anchor="end" font-weight="normal" font-style="normal" fill="#231f20" >0.2</text>
<line x1="67.70" y1="288.10" x2="113.30" y2="288.10" stroke="#231f20" stroke-width="1.1" />
<rect x="71.00" y="211.20" width="17.70" height="76.40" fill="#5a2569"/>
<rect x="90.80" y="228.50" width="17.20" height="59.10" fill="#bdbdc1"/>
<line x1="79.70" y1="288.10" x2="79.70" y2="291.30" stroke="#231f20" stroke-width="0.9" />
<line x1="98.90" y1="288.10" x2="98.90" y2="291.30" stroke="#231f20" stroke-width="0.9" />
<text x="97.50" y="197.60" font-size="7.3" text-anchor="middle" font-weight="normal" font-style="normal" fill="#231f20" textLength="34.5" lengthAdjust="spacingAndGlyphs" class="pv">NK T cells</text>
<text x="90.60" y="207.10" font-size="7.3" text-anchor="middle" font-weight="normal" font-style="normal" fill="#231f20" textLength="32.5" lengthAdjust="spacingAndGlyphs" class="pv">p = 7e-05</text>
<text transform="translate(33.90,243.20) rotate(-90)" x="0" y="0" font-size="8.4" text-anchor="middle" font-weight="normal" font-style="normal" fill="#231f20" textLength="51" lengthAdjust="spacingAndGlyphs" >Fraction of cells</text>
<text transform="translate(44.30,243.70) rotate(-90)" x="0" y="0" font-size="8.4" text-anchor="middle" font-weight="normal" font-style="normal" fill="#231f20" textLength="54" lengthAdjust="spacingAndGlyphs" >expressing <tspan font-style="italic">IFNG</tspan></text>
<text transform="translate(79.50,297.40) rotate(-45)" x="0" y="0" font-size="7.9" text-anchor="end" font-weight="normal" font-style="normal" fill="#231f20" class="xl">Patient</text>
<text transform="translate(87.50,302.40) rotate(-45)" x="0" y="0" font-size="7.9" text-anchor="end" font-weight="normal" font-style="normal" fill="#231f20" textLength="42" lengthAdjust="spacingAndGlyphs" class="xl">&lt; 6 mo. old</text>
<text transform="translate(104.20,297.60) rotate(-45)" x="0" y="0" font-size="7.9" text-anchor="end" font-weight="normal" font-style="normal" fill="#231f20" class="xl">Patient</text>
<text transform="translate(111.60,302.40) rotate(-45)" x="0" y="0" font-size="7.9" text-anchor="end" font-weight="normal" font-style="normal" fill="#231f20" textLength="42" lengthAdjust="spacingAndGlyphs" class="xl">&gt; 6 mo. old</text>
<line x1="145.10" y1="199.40" x2="145.10" y2="288.60" stroke="#231f20" stroke-width="1.1" />
<line x1="141.50" y1="286.90" x2="145.10" y2="286.90" stroke="#231f20" stroke-width="0.9" />
<text x="139.20" y="289.60" font-size="7.6" text-anchor="end" font-weight="normal" font-style="normal" fill="#231f20" >0</text>
<line x1="141.50" y1="259.60" x2="145.10" y2="259.60" stroke="#231f20" stroke-width="0.9" />
<text x="139.20" y="262.30" font-size="7.6" text-anchor="end" font-weight="normal" font-style="normal" fill="#231f20" >0.02</text>
<line x1="141.50" y1="232.50" x2="145.10" y2="232.50" stroke="#231f20" stroke-width="0.9" />
<text x="139.20" y="235.20" font-size="7.6" text-anchor="end" font-weight="normal" font-style="normal" fill="#231f20" >0.04</text>
<line x1="141.50" y1="205.20" x2="145.10" y2="205.20" stroke="#231f20" stroke-width="0.9" />
<text x="139.20" y="207.90" font-size="7.6" text-anchor="end" font-weight="normal" font-style="normal" fill="#231f20" >0.06</text>
<line x1="144.60" y1="288.00" x2="189.30" y2="288.00" stroke="#231f20" stroke-width="1.1" />
<rect x="147.90" y="211.30" width="16.90" height="76.20" fill="#5a2569"/>
<rect x="166.70" y="219.60" width="17.30" height="67.90" fill="#bdbdc1"/>
<line x1="156.20" y1="288.00" x2="156.20" y2="291.30" stroke="#231f20" stroke-width="0.9" />
<line x1="175.40" y1="288.00" x2="175.40" y2="291.30" stroke="#231f20" stroke-width="0.9" />
<text x="168.00" y="198.10" font-size="7.3" text-anchor="middle" font-weight="normal" font-style="normal" fill="#231f20" textLength="28.3" lengthAdjust="spacingAndGlyphs" class="pv">NK cells</text>
<text x="172.40" y="208.10" font-size="7.3" text-anchor="middle" font-weight="normal" font-style="normal" fill="#231f20" textLength="27.8" lengthAdjust="spacingAndGlyphs" class="pv">p = 0.18</text>
<text transform="translate(154.30,297.20) rotate(-45)" x="0" y="0" font-size="7.9" text-anchor="end" font-weight="normal" font-style="normal" fill="#231f20" class="xl">Patient</text>
<text transform="translate(162.60,302.30) rotate(-45)" x="0" y="0" font-size="7.9" text-anchor="end" font-weight="normal" font-style="normal" fill="#231f20" textLength="42" lengthAdjust="spacingAndGlyphs" class="xl">&lt; 6 mo. old</text>
<text transform="translate(176.50,297.20) rotate(-45)" x="0" y="0" font-size="7.9" text-anchor="end" font-weight="normal" font-style="normal" fill="#231f20" class="xl">Patient</text>
<text transform="translate(184.50,302.30) rotate(-45)" x="0" y="0" font-size="7.9" text-anchor="end" font-weight="normal" font-style="normal" fill="#231f20" textLength="42" lengthAdjust="spacingAndGlyphs" class="xl">&gt; 6 mo. old</text>
<line x1="243.20" y1="198.80" x2="243.20" y2="288.60" stroke="#231f20" stroke-width="1.1" />
<line x1="239.60" y1="288.30" x2="243.20" y2="288.30" stroke="#231f20" stroke-width="0.9" />
<text x="237.90" y="291.00" font-size="7.6" text-anchor="end" font-weight="normal" font-style="normal" fill="#231f20" >0</text>
<line x1="239.60" y1="271.00" x2="243.20" y2="271.00" stroke="#231f20" stroke-width="0.9" />
<text x="237.90" y="273.70" font-size="7.6" text-anchor="end" font-weight="normal" font-style="normal" fill="#231f20" >0.05</text>
<line x1="239.60" y1="253.70" x2="243.20" y2="253.70" stroke="#231f20" stroke-width="0.9" />
<text x="237.90" y="256.40" font-size="7.6" text-anchor="end" font-weight="normal" font-style="normal" fill="#231f20" >0.10</text>
<line x1="239.60" y1="236.40" x2="243.20" y2="236.40" stroke="#231f20" stroke-width="0.9" />
<text x="237.90" y="239.10" font-size="7.6" text-anchor="end" font-weight="normal" font-style="normal" fill="#231f20" >0.15</text>
<line x1="239.60" y1="219.50" x2="243.20" y2="219.50" stroke="#231f20" stroke-width="0.9" />
<text x="237.90" y="222.20" font-size="7.6" text-anchor="end" font-weight="normal" font-style="normal" fill="#231f20" >0.20</text>
<line x1="239.60" y1="202.30" x2="243.20" y2="202.30" stroke="#231f20" stroke-width="0.9" />
<text x="237.90" y="205.00" font-size="7.6" text-anchor="end" font-weight="normal" font-style="normal" fill="#231f20" >0.25</text>
<line x1="242.70" y1="288.10" x2="297.50" y2="288.10" stroke="#231f20" stroke-width="1.1" />
<rect x="246.00" y="236.90" width="10.90" height="50.70" fill="#8aa8c7"/>
<rect x="256.90" y="212.90" width="11.80" height="74.70" fill="#1c5184"/>
<rect x="271.30" y="238.80" width="11.20" height="48.80" fill="#8aa8c7"/>
<rect x="282.50" y="203.30" width="11.50" height="84.30" fill="#1c5184"/>
<line x1="257.10" y1="288.10" x2="257.10" y2="291.30" stroke="#231f20" stroke-width="0.9" />
<line x1="282.60" y1="288.10" x2="282.60" y2="291.30" stroke="#231f20" stroke-width="0.9" />
<path d="M251,211.3 L251,209.4 L277.3,209.4 L277.3,211.3" fill="none" stroke="#231f20" stroke-width="0.9" />
<path d="M262.3,201.3 L262.3,199.4 L288.7,199.4 L288.7,201.3" fill="none" stroke="#231f20" stroke-width="0.9" />
<text x="263.80" y="205.80" font-size="7" text-anchor="middle" font-weight="normal" font-style="normal" fill="#231f20" textLength="24.2" lengthAdjust="spacingAndGlyphs" class="pv">p = 0.29</text>
<text x="275.80" y="195.60" font-size="7" text-anchor="middle" font-weight="normal" font-style="normal" fill="#231f20" textLength="27.5" lengthAdjust="spacingAndGlyphs" class="pv">p = 0.009</text>
<text transform="translate(205.20,243.60) rotate(-90)" x="0" y="0" font-size="8.4" text-anchor="middle" font-weight="normal" font-style="normal" fill="#231f20" textLength="51" lengthAdjust="spacingAndGlyphs" >Fraction of cells</text>
<text transform="translate(215.90,243.40) rotate(-90)" x="0" y="0" font-size="8.4" text-anchor="middle" font-weight="normal" font-style="normal" fill="#231f20" textLength="58.5" lengthAdjust="spacingAndGlyphs" >expressing IFNGR</text>
<text transform="translate(257.70,297.40) rotate(-45)" x="0" y="0" font-size="7.9" text-anchor="end" font-weight="normal" font-style="normal" fill="#231f20" class="xl">Normal</text>
<text transform="translate(263.40,304.30) rotate(-45)" x="0" y="0" font-size="7.9" text-anchor="end" font-weight="normal" font-style="normal" fill="#231f20" class="xl">HSC/MPP</text>
<text transform="translate(285.40,296.60) rotate(-45)" x="0" y="0" font-size="7.9" text-anchor="end" font-weight="normal" font-style="normal" fill="#231f20" class="xl">HSPC-like</text>
<rect x="298.00" y="193.20" width="4.20" height="3.80" fill="#8aa8c7"/>
<rect x="298.00" y="200.80" width="4.20" height="3.80" fill="#1c5184"/>
<text x="305.40" y="196.90" font-size="7.3" text-anchor="start" font-weight="normal" font-style="italic" fill="#231f20" textLength="25.5" lengthAdjust="spacingAndGlyphs" >IFNGR1</text>
<text x="305.40" y="204.70" font-size="7.3" text-anchor="start" font-weight="normal" font-style="italic" fill="#231f20" textLength="25.5" lengthAdjust="spacingAndGlyphs" >IFNGR2</text>
<line x1="400.50" y1="208.50" x2="400.50" y2="283.90" stroke="#231f20" stroke-width="1.1" />
<line x1="400.00" y1="283.40" x2="477.80" y2="283.40" stroke="#231f20" stroke-width="1.1" />
<line x1="396.90" y1="213.50" x2="400.50" y2="213.50" stroke="#231f20" stroke-width="0.9" />
<text x="394.60" y="216.10" font-size="7.6" text-anchor="end" font-weight="normal" font-style="normal" fill="#231f20" >2</text>
<line x1="396.90" y1="229.25" x2="400.50" y2="229.25" stroke="#231f20" stroke-width="0.9" />
<text x="394.60" y="231.85" font-size="7.6" text-anchor="end" font-weight="normal" font-style="normal" fill="#231f20" >1</text>
<line x1="396.90" y1="245.00" x2="400.50" y2="245.00" stroke="#231f20" stroke-width="0.9" />
<text x="394.60" y="247.60" font-size="7.6" text-anchor="end" font-weight="normal" font-style="normal" fill="#231f20" >0</text>
<line x1="396.90" y1="260.75" x2="400.50" y2="260.75" stroke="#231f20" stroke-width="0.9" />
<text x="394.60" y="263.35" font-size="7.6" text-anchor="end" font-weight="normal" font-style="normal" fill="#231f20" >&#8722;1</text>
<line x1="396.90" y1="276.50" x2="400.50" y2="276.50" stroke="#231f20" stroke-width="0.9" />
<text x="394.60" y="279.10" font-size="7.6" text-anchor="end" font-weight="normal" font-style="normal" fill="#231f20" >&#8722;2</text>
<line x1="415.00" y1="283.40" x2="415.00" y2="286.60" stroke="#231f20" stroke-width="0.9" />
<line x1="439.40" y1="283.40" x2="439.40" y2="286.60" stroke="#231f20" stroke-width="0.9" />
<line x1="463.70" y1="283.40" x2="463.70" y2="286.60" stroke="#231f20" stroke-width="0.9" />
<line x1="414.90" y1="221.90" x2="414.90" y2="274.20" stroke="#231f20" stroke-width="0.9" />
<path d="M414.90,228.00 C415.03,228.00 415.13,230.08 415.30,231.00 C415.47,231.92 415.65,232.75 415.90,233.50 C416.15,234.25 416.38,234.75 416.80,235.50 C417.22,236.25 417.60,236.80 418.40,238.00 C419.20,239.20 420.70,241.40 421.60,242.70 C422.50,244.00 423.15,244.65 423.80,245.80 C424.45,246.95 425.48,248.45 425.50,249.60 C425.52,250.75 424.75,251.67 423.90,252.70 C423.05,253.73 421.50,254.87 420.40,255.80 C419.30,256.73 418.10,257.57 417.30,258.30 C416.50,259.03 416.00,259.75 415.60,260.20 C415.20,260.65 415.13,261.00 414.90,261.00 C414.67,261.00 414.60,260.65 414.20,260.20 C413.80,259.75 413.30,259.03 412.50,258.30 C411.70,257.57 410.50,256.73 409.40,255.80 C408.30,254.87 406.75,253.73 405.90,252.70 C405.05,251.67 404.28,250.75 404.30,249.60 C404.32,248.45 405.35,246.95 406.00,245.80 C406.65,244.65 407.30,244.00 408.20,242.70 C409.10,241.40 410.60,239.20 411.40,238.00 C412.20,236.80 412.58,236.25 413.00,235.50 C413.42,234.75 413.65,234.25 413.90,233.50 C414.15,232.75 414.33,231.92 414.50,231.00 C414.67,230.08 414.77,228.00 414.90,228.00Z" fill="#1d4e84" stroke="#1a1a1a" stroke-width="0.95" />
<line x1="439.70" y1="211.20" x2="439.70" y2="279.60" stroke="#231f20" stroke-width="0.9" />
<path d="M439.70,222.00 C439.90,222.00 440.03,224.83 440.30,226.00 C440.57,227.17 440.80,228.00 441.30,229.00 C441.80,230.00 442.37,230.75 443.30,232.00 C444.23,233.25 445.85,235.23 446.90,236.50 C447.95,237.77 448.93,238.43 449.60,239.60 C450.27,240.77 450.78,242.22 450.90,243.50 C451.02,244.78 450.88,246.02 450.30,247.30 C449.72,248.58 448.48,249.92 447.40,251.20 C446.32,252.48 444.77,253.95 443.80,255.00 C442.83,256.05 442.18,256.75 441.60,257.50 C441.02,258.25 440.62,259.00 440.30,259.50 C439.98,260.00 439.90,260.50 439.70,260.50 C439.50,260.50 439.42,260.00 439.10,259.50 C438.78,259.00 438.38,258.25 437.80,257.50 C437.22,256.75 436.57,256.05 435.60,255.00 C434.63,253.95 433.08,252.48 432.00,251.20 C430.92,249.92 429.68,248.58 429.10,247.30 C428.52,246.02 428.38,244.78 428.50,243.50 C428.62,242.22 429.13,240.77 429.80,239.60 C430.47,238.43 431.45,237.77 432.50,236.50 C433.55,235.23 435.17,233.25 436.10,232.00 C437.03,230.75 437.60,230.00 438.10,229.00 C438.60,228.00 438.83,227.17 439.10,226.00 C439.37,224.83 439.50,222.00 439.70,222.00Z" fill="#3db54a" stroke="#1a1a1a" stroke-width="0.95" />
<line x1="463.50" y1="223.50" x2="463.50" y2="273.50" stroke="#231f20" stroke-width="0.9" />
<path d="M463.50,228.50 C463.70,228.50 463.83,230.17 464.10,231.00 C464.37,231.83 464.57,232.58 465.10,233.50 C465.63,234.42 466.30,235.48 467.30,236.50 C468.30,237.52 469.98,238.57 471.10,239.60 C472.22,240.63 473.75,241.80 474.00,242.70 C474.25,243.60 473.53,244.12 472.60,245.00 C471.67,245.88 469.60,247.08 468.40,248.00 C467.20,248.92 466.12,249.78 465.40,250.50 C464.68,251.22 464.42,251.83 464.10,252.30 C463.78,252.77 463.70,253.30 463.50,253.30 C463.30,253.30 463.22,252.77 462.90,252.30 C462.58,251.83 462.32,251.22 461.60,250.50 C460.88,249.78 459.80,248.92 458.60,248.00 C457.40,247.08 455.33,245.88 454.40,245.00 C453.47,244.12 452.75,243.60 453.00,242.70 C453.25,241.80 454.78,240.63 455.90,239.60 C457.02,238.57 458.70,237.52 459.70,236.50 C460.70,235.48 461.37,234.42 461.90,233.50 C462.43,232.58 462.63,231.83 462.90,231.00 C463.17,230.17 463.30,228.50 463.50,228.50Z" fill="#8aabcb" stroke="#1a1a1a" stroke-width="0.95" />
<line x1="401.00" y1="245.50" x2="478.00" y2="245.50" stroke="#2a2a2a" stroke-width="1.0" stroke-dasharray="3.3,2.2"/>
<path d="M415.4,188.4 L415.4,185.4 L463.9,185.4 L463.9,188.4" fill="none" stroke="#231f20" stroke-width="0.9" />
<path d="M442,200.6 L442,198.1 L464,198.1 L464,200.6" fill="none" stroke="#231f20" stroke-width="0.9" />
<path d="M415,209.8 L415,207.3 L439.7,207.3 L439.7,209.8" fill="none" stroke="#231f20" stroke-width="0.9" />
<text x="439.00" y="182.40" font-size="7" text-anchor="middle" font-weight="normal" font-style="normal" fill="#231f20" textLength="32.3" lengthAdjust="spacingAndGlyphs" class="pv">p = 7e-156</text>
<text x="453.50" y="195.30" font-size="7" text-anchor="middle" font-weight="normal" font-style="normal" fill="#231f20" textLength="30" lengthAdjust="spacingAndGlyphs" class="pv">p = 3e-151</text>
<text x="427.00" y="204.60" font-size="7" text-anchor="middle" font-weight="normal" font-style="normal" fill="#231f20" textLength="27.7" lengthAdjust="spacingAndGlyphs" class="pv">p = 2e-78</text>
<text transform="translate(370.30,245.80) rotate(-90)" x="0" y="0" font-size="8.4" text-anchor="middle" font-weight="normal" font-style="normal" fill="#231f20" textLength="44" lengthAdjust="spacingAndGlyphs" >IFNG-induced</text>
<text transform="translate(381.30,245.40) rotate(-90)" x="0" y="0" font-size="8.4" text-anchor="middle" font-weight="normal" font-style="normal" fill="#231f20" textLength="81.8" lengthAdjust="spacingAndGlyphs" >NK tumor killing potential</text>
<text transform="translate(415.40,291.30) rotate(-45)" x="0" y="0" font-size="7.9" text-anchor="end" font-weight="normal" font-style="normal" fill="#231f20" class="xl">HSPC-like</text>
<text transform="translate(439.50,291.30) rotate(-45)" x="0" y="0" font-size="7.9" text-anchor="end" font-weight="normal" font-style="normal" fill="#231f20" class="xl">CD19+ blasts</text>
<text transform="translate(463.90,293.60) rotate(-45)" x="0" y="0" font-size="7.9" text-anchor="end" font-weight="normal" font-style="normal" fill="#231f20" class="xl">Normal</text>
<text transform="translate(471.20,300.00) rotate(-45)" x="0" y="0" font-size="7.9" text-anchor="end" font-weight="normal" font-style="normal" fill="#231f20" class="xl">HSC/MPP</text>
<g class="ns">
<text x="15.50" y="395.00" font-size="8.0" text-anchor="start" font-weight="normal" font-style="normal" fill="#231f20" textLength="75.7" lengthAdjust="spacingAndGlyphs" >CD56+CD3&#8211; NK cells</text>
<path d="M40.80,403.70 Q57.00,393.50 67.75,402.61" fill="none" stroke="#231f20" stroke-width="0.9" />
<path d="M70.80,405.20 L66.46,404.14 L69.04,401.09 Z" fill="#231f20" stroke="none" stroke-width="1" />
<circle cx="20.1" cy="420.8" r="4.6" fill="#f6c494"/>
<circle cx="20.1" cy="420.8" r="3.50" fill="#fbd8b2"/>
<circle cx="20.1" cy="420.8" r="1.93" fill="#f3aa80"/>
<circle cx="31.2" cy="413.1" r="4.6" fill="#f6c494"/>
<circle cx="31.2" cy="413.1" r="3.50" fill="#fbd8b2"/>
<circle cx="31.2" cy="413.1" r="1.93" fill="#f3aa80"/>
<circle cx="42.8" cy="416.5" r="4.6" fill="#f6c494"/>
<circle cx="42.8" cy="416.5" r="3.50" fill="#fbd8b2"/>
<circle cx="42.8" cy="416.5" r="1.93" fill="#f3aa80"/>
<circle cx="32.8" cy="423.8" r="4.6" fill="#f6c494"/>
<circle cx="32.8" cy="423.8" r="3.50" fill="#fbd8b2"/>
<circle cx="32.8" cy="423.8" r="1.93" fill="#f3aa80"/>
<path d="M67.20,415.60 L67.20,420.40 A18.0,10.0 0 0 0 103.20,420.40 L103.20,415.60 A18.0,10.0 0 0 0 67.20,415.60 Z" fill="#e4f2f8" stroke="#b9c5d2" stroke-width="0.8" />
<ellipse cx="85.20" cy="415.60" rx="18.0" ry="10.0" fill="#eaf5fa" stroke="#b9c5d2" stroke-width="0.8"/>
<ellipse cx="85.20" cy="416.90" rx="16.6" ry="8.1" fill="#d9eef6" stroke="#c6d6e0" stroke-width="0.5"/>
<circle cx="79.20" cy="419.00" r="1.90" fill="#f9cea6"/>
<circle cx="79.20" cy="419.00" r="0.95" fill="#f3aa80"/>
<circle cx="84.00" cy="414.80" r="1.90" fill="#f9cea6"/>
<circle cx="84.00" cy="414.80" r="0.95" fill="#f3aa80"/>
<circle cx="89.40" cy="416.50" r="1.90" fill="#f9cea6"/>
<circle cx="89.40" cy="416.50" r="0.95" fill="#f3aa80"/>
<circle cx="85.00" cy="420.40" r="1.90" fill="#f9cea6"/>
<circle cx="85.00" cy="420.40" r="0.95" fill="#f3aa80"/>
<text x="128.20" y="405.50" font-size="8.0" text-anchor="middle" font-weight="normal" font-style="italic" fill="#231f20" textLength="23.8" lengthAdjust="spacingAndGlyphs" >In vitro</text>
<text x="128.10" y="414.50" font-size="8.0" text-anchor="middle" font-weight="normal" font-style="normal" fill="#231f20" textLength="35.2" lengthAdjust="spacingAndGlyphs" >expansion</text>
<line x1="110.50" y1="419.60" x2="142.80" y2="419.60" stroke="#231f20" stroke-width="1.25" />
<path d="M146.30,419.60 L141.90,417.40 L141.90,421.80 Z" fill="#231f20" stroke="none" stroke-width="1" />
<path d="M153.85,415.60 L153.85,420.40 A18.0,10.0 0 0 0 189.85,420.40 L189.85,415.60 A18.0,10.0 0 0 0 153.85,415.60 Z" fill="#e4f2f8" stroke="#b9c5d2" stroke-width="0.8" />
<ellipse cx="171.85" cy="415.60" rx="18.0" ry="10.0" fill="#eaf5fa" stroke="#b9c5d2" stroke-width="0.8"/>
<ellipse cx="171.85" cy="416.90" rx="16.6" ry="8.1" fill="#d9eef6" stroke="#c6d6e0" stroke-width="0.5"/>
<circle cx="163.00" cy="413.80" r="1.90" fill="#f9cea6"/>
<circle cx="163.00" cy="413.80" r="0.95" fill="#f3aa80"/>
<circle cx="167.70" cy="411.70" r="1.90" fill="#f9cea6"/>
<circle cx="167.70" cy="411.70" r="0.95" fill="#f3aa80"/>
<circle cx="174.20" cy="411.20" r="1.90" fill="#f9cea6"/>
<circle cx="174.20" cy="411.20" r="0.95" fill="#f3aa80"/>
<circle cx="179.00" cy="412.50" r="1.90" fill="#f9cea6"/>
<circle cx="179.00" cy="412.50" r="0.95" fill="#f3aa80"/>
<circle cx="160.40" cy="417.70" r="1.90" fill="#f9cea6"/>
<circle cx="160.40" cy="417.70" r="0.95" fill="#f3aa80"/>
<circle cx="166.90" cy="417.30" r="1.90" fill="#f9cea6"/>
<circle cx="166.90" cy="417.30" r="0.95" fill="#f3aa80"/>
<circle cx="171.20" cy="415.10" r="1.90" fill="#f9cea6"/>
<circle cx="171.20" cy="415.10" r="0.95" fill="#f3aa80"/>
<circle cx="176.00" cy="416.40" r="1.90" fill="#f9cea6"/>
<circle cx="176.00" cy="416.40" r="0.95" fill="#f3aa80"/>
<circle cx="181.30" cy="417.30" r="1.90" fill="#f9cea6"/>
<circle cx="181.30" cy="417.30" r="0.95" fill="#f3aa80"/>
<circle cx="171.60" cy="420.30" r="1.90" fill="#f9cea6"/>
<circle cx="171.60" cy="420.30" r="0.95" fill="#f3aa80"/>
<circle cx="176.80" cy="421.20" r="1.90" fill="#f9cea6"/>
<circle cx="176.80" cy="421.20" r="0.95" fill="#f3aa80"/>
<circle cx="166.40" cy="422.50" r="1.90" fill="#f9cea6"/>
<circle cx="166.40" cy="422.50" r="0.95" fill="#f3aa80"/>
<line x1="193.20" y1="410.20" x2="206.62" y2="397.03" stroke="#231f20" stroke-width="1.25" />
<path d="M209.40,394.30 L207.80,398.95 L204.72,395.81 Z" fill="#231f20" stroke="none" stroke-width="1" />
<line x1="193.20" y1="425.00" x2="206.62" y2="438.17" stroke="#231f20" stroke-width="1.25" />
<path d="M209.40,440.90 L204.72,439.39 L207.80,436.25 Z" fill="#231f20" stroke="none" stroke-width="1" />
<text x="187.70" y="366.50" font-size="8.0" text-anchor="start" font-weight="normal" font-style="normal" fill="#231f20" textLength="67.7" lengthAdjust="spacingAndGlyphs" >sort HSPC-like cells</text>
<circle cx="183.7" cy="380" r="4.6" fill="#7a2d90"/>
<circle cx="183.7" cy="380" r="3.50" fill="#9643aa"/>
<circle cx="183.7" cy="380" r="1.93" fill="#6a2381"/>
<circle cx="193.5" cy="374.5" r="4.6" fill="#7a2d90"/>
<circle cx="193.5" cy="374.5" r="3.50" fill="#9643aa"/>
<circle cx="193.5" cy="374.5" r="1.93" fill="#6a2381"/>
<circle cx="201.2" cy="380.6" r="4.6" fill="#7a2d90"/>
<circle cx="201.2" cy="380.6" r="3.50" fill="#9643aa"/>
<circle cx="201.2" cy="380.6" r="1.93" fill="#6a2381"/>
<circle cx="191.4" cy="387.4" r="4.6" fill="#7a2d90"/>
<circle cx="191.4" cy="387.4" r="3.50" fill="#9643aa"/>
<circle cx="191.4" cy="387.4" r="1.93" fill="#6a2381"/>
<path d="M203.50,371.90 Q217.00,368.50 223.46,374.48" fill="none" stroke="#231f20" stroke-width="0.9" />
<path d="M226.40,377.20 L222.11,375.95 L224.82,373.02 Z" fill="#231f20" stroke="none" stroke-width="1" />
<path d="M214.05,385.20 L214.05,390.00 A18.0,10.0 0 0 0 250.05,390.00 L250.05,385.20 A18.0,10.0 0 0 0 214.05,385.20 Z" fill="#e4f2f8" stroke="#b9c5d2" stroke-width="0.8" />
<ellipse cx="232.05" cy="385.20" rx="18.0" ry="10.0" fill="#eaf5fa" stroke="#b9c5d2" stroke-width="0.8"/>
<ellipse cx="232.05" cy="386.50" rx="16.6" ry="8.1" fill="#d9eef6" stroke="#c6d6e0" stroke-width="0.5"/>
<circle cx="223.40" cy="383.40" r="1.90" fill="#f9cea6"/>
<circle cx="223.40" cy="383.40" r="0.95" fill="#f3aa80"/>
<circle cx="220.80" cy="387.30" r="1.90" fill="#f9cea6"/>
<circle cx="220.80" cy="387.30" r="0.95" fill="#f3aa80"/>
<circle cx="235.10" cy="381.10" r="1.90" fill="#f9cea6"/>
<circle cx="235.10" cy="381.10" r="0.95" fill="#f3aa80"/>
<circle cx="239.20" cy="382.10" r="1.90" fill="#f9cea6"/>
<circle cx="239.20" cy="382.10" r="0.95" fill="#f3aa80"/>
<circle cx="241.30" cy="386.40" r="1.90" fill="#f9cea6"/>
<circle cx="241.30" cy="386.40" r="0.95" fill="#f3aa80"/>
<circle cx="226.90" cy="391.20" r="1.90" fill="#f9cea6"/>
<circle cx="226.90" cy="391.20" r="0.95" fill="#f3aa80"/>
<circle cx="237.50" cy="390.30" r="1.90" fill="#f9cea6"/>
<circle cx="237.50" cy="390.30" r="0.95" fill="#f3aa80"/>
<circle cx="228.60" cy="381.20" r="1.90" fill="#f9cea6"/>
<circle cx="228.60" cy="381.20" r="0.95" fill="#f3aa80"/>
<circle cx="228.20" cy="383.40" r="2.50" fill="#8c3fa0"/>
<circle cx="228.20" cy="383.40" r="1.25" fill="#6a2480"/>
<circle cx="234.20" cy="386.40" r="2.50" fill="#8c3fa0"/>
<circle cx="234.20" cy="386.40" r="1.25" fill="#6a2480"/>
<circle cx="229.20" cy="389.00" r="2.50" fill="#8c3fa0"/>
<circle cx="229.20" cy="389.00" r="1.25" fill="#6a2480"/>
<circle cx="233.40" cy="392.30" r="2.50" fill="#8c3fa0"/>
<circle cx="233.40" cy="392.30" r="1.25" fill="#6a2480"/>
<line x1="253.80" y1="388.10" x2="270.50" y2="388.10" stroke="#231f20" stroke-width="1.25" />
<path d="M274.00,388.10 L269.60,385.90 L269.60,390.30 Z" fill="#231f20" stroke="none" stroke-width="1" />
<text x="276.00" y="390.50" font-size="8.0" text-anchor="start" font-weight="normal" font-style="normal" fill="#231f20" textLength="44.9" lengthAdjust="spacingAndGlyphs" >Flow analysis</text>
<circle cx="184.2" cy="451.2" r="4.6" fill="#2467a0"/>
<circle cx="184.2" cy="451.2" r="3.50" fill="#3a84c0"/>
<circle cx="184.2" cy="451.2" r="1.93" fill="#1d5a92"/>
<circle cx="193.5" cy="446.5" r="4.6" fill="#2467a0"/>
<circle cx="193.5" cy="446.5" r="3.50" fill="#3a84c0"/>
<circle cx="193.5" cy="446.5" r="1.93" fill="#1d5a92"/>
<circle cx="201.2" cy="452.7" r="4.6" fill="#2467a0"/>
<circle cx="201.2" cy="452.7" r="3.50" fill="#3a84c0"/>
<circle cx="201.2" cy="452.7" r="1.93" fill="#1d5a92"/>
<circle cx="191.9" cy="458.2" r="4.6" fill="#2467a0"/>
<circle cx="191.9" cy="458.2" r="3.50" fill="#3a84c0"/>
<circle cx="191.9" cy="458.2" r="1.93" fill="#1d5a92"/>
<path d="M213.90,441.80 L213.90,446.60 A18.0,10.0 0 0 0 249.90,446.60 L249.90,441.80 A18.0,10.0 0 0 0 213.90,441.80 Z" fill="#e4f2f8" stroke="#b9c5d2" stroke-width="0.8" />
<ellipse cx="231.90" cy="441.80" rx="18.0" ry="10.0" fill="#eaf5fa" stroke="#b9c5d2" stroke-width="0.8"/>
<ellipse cx="231.90" cy="443.10" rx="16.6" ry="8.1" fill="#d9eef6" stroke="#c6d6e0" stroke-width="0.5"/>
<circle cx="223.40" cy="440.00" r="1.90" fill="#f9cea6"/>
<circle cx="223.40" cy="440.00" r="0.95" fill="#f3aa80"/>
<circle cx="220.80" cy="444.00" r="1.90" fill="#f9cea6"/>
<circle cx="220.80" cy="444.00" r="0.95" fill="#f3aa80"/>
<circle cx="235.10" cy="437.70" r="1.90" fill="#f9cea6"/>
<circle cx="235.10" cy="437.70" r="0.95" fill="#f3aa80"/>
<circle cx="239.20" cy="438.70" r="1.90" fill="#f9cea6"/>
<circle cx="239.20" cy="438.70" r="0.95" fill="#f3aa80"/>
<circle cx="241.30" cy="443.00" r="1.90" fill="#f9cea6"/>
<circle cx="241.30" cy="443.00" r="0.95" fill="#f3aa80"/>
<circle cx="226.90" cy="447.80" r="1.90" fill="#f9cea6"/>
<circle cx="226.90" cy="447.80" r="0.95" fill="#f3aa80"/>
<circle cx="237.50" cy="446.90" r="1.90" fill="#f9cea6"/>
<circle cx="237.50" cy="446.90" r="0.95" fill="#f3aa80"/>
<circle cx="228.60" cy="437.80" r="1.90" fill="#f9cea6"/>
<circle cx="228.60" cy="437.80" r="0.95" fill="#f3aa80"/>
<circle cx="228.20" cy="440.00" r="2.50" fill="#3580bd"/>
<circle cx="228.20" cy="440.00" r="1.25" fill="#1d5a92"/>
<circle cx="234.20" cy="443.00" r="2.50" fill="#3580bd"/>
<circle cx="234.20" cy="443.00" r="1.25" fill="#1d5a92"/>
<circle cx="229.20" cy="445.60" r="2.50" fill="#3580bd"/>
<circle cx="229.20" cy="445.60" r="1.25" fill="#1d5a92"/>
<circle cx="233.40" cy="448.90" r="2.50" fill="#3580bd"/>
<circle cx="233.40" cy="448.90" r="1.25" fill="#1d5a92"/>
<path d="M205.80,459.80 Q218.00,460.00 222.75,456.27" fill="none" stroke="#231f20" stroke-width="0.9" />
<path d="M225.90,453.80 L223.99,457.84 L221.52,454.70 Z" fill="#231f20" stroke="none" stroke-width="1" />
<text x="194.10" y="472.70" font-size="8.0" text-anchor="start" font-weight="normal" font-style="normal" fill="#231f20" textLength="64" lengthAdjust="spacingAndGlyphs" >sort CD19+ blasts</text>
<line x1="254.40" y1="443.50" x2="270.30" y2="443.50" stroke="#231f20" stroke-width="1.25" />
<path d="M273.80,443.50 L269.40,441.30 L269.40,445.70 Z" fill="#231f20" stroke="none" stroke-width="1" />
<text x="276.50" y="445.20" font-size="8.0" text-anchor="start" font-weight="normal" font-style="normal" fill="#231f20" textLength="44.7" lengthAdjust="spacingAndGlyphs" >Flow analysis</text>
</g>
<line x1="400.40" y1="348.10" x2="400.40" y2="447.80" stroke="#231f20" stroke-width="1.1" />
<line x1="399.90" y1="447.30" x2="463.10" y2="447.30" stroke="#231f20" stroke-width="1.1" />
<line x1="396.80" y1="447.30" x2="400.40" y2="447.30" stroke="#231f20" stroke-width="0.9" />
<text x="394.60" y="449.90" font-size="7.6" text-anchor="end" font-weight="normal" font-style="normal" fill="#231f20" >0</text>
<line x1="396.80" y1="423.64" x2="400.40" y2="423.64" stroke="#231f20" stroke-width="0.9" />
<text x="394.60" y="426.24" font-size="7.6" text-anchor="end" font-weight="normal" font-style="normal" fill="#231f20" >10</text>
<line x1="396.80" y1="399.98" x2="400.40" y2="399.98" stroke="#231f20" stroke-width="0.9" />
<text x="394.60" y="402.58" font-size="7.6" text-anchor="end" font-weight="normal" font-style="normal" fill="#231f20" >20</text>
<line x1="396.80" y1="376.32" x2="400.40" y2="376.32" stroke="#231f20" stroke-width="0.9" />
<text x="394.60" y="378.92" font-size="7.6" text-anchor="end" font-weight="normal" font-style="normal" fill="#231f20" >30</text>
<line x1="396.80" y1="352.66" x2="400.40" y2="352.66" stroke="#231f20" stroke-width="0.9" />
<text x="394.60" y="355.26" font-size="7.6" text-anchor="end" font-weight="normal" font-style="normal" fill="#231f20" >40</text>
<line x1="418.50" y1="447.30" x2="418.50" y2="450.50" stroke="#231f20" stroke-width="0.9" />
<line x1="445.40" y1="447.30" x2="445.40" y2="450.50" stroke="#231f20" stroke-width="0.9" />
<text x="422.70" y="355.00" font-size="7.1" text-anchor="middle" font-weight="normal" font-style="normal" fill="#231f20" textLength="34" lengthAdjust="spacingAndGlyphs" >p = 8.6e-4</text>
<text transform="translate(377.60,397.70) rotate(-90)" x="0" y="0" font-size="8.4" text-anchor="middle" font-weight="normal" font-style="normal" fill="#231f20" textLength="73.8" lengthAdjust="spacingAndGlyphs" >% of cells killed by NK</text>
<line x1="418.50" y1="408.30" x2="418.50" y2="431.30" stroke="#231f20" stroke-width="0.9" />
<line x1="414.20" y1="408.30" x2="422.80" y2="408.30" stroke="#231f20" stroke-width="0.9" />
<line x1="414.20" y1="431.30" x2="422.80" y2="431.30" stroke="#231f20" stroke-width="0.9" />
<line x1="409.50" y1="419.80" x2="427.50" y2="419.80" stroke="#231f20" stroke-width="1.0" />
<line x1="445.40" y1="363.10" x2="445.40" y2="395.40" stroke="#231f20" stroke-width="0.9" />
<line x1="441.10" y1="363.10" x2="449.70" y2="363.10" stroke="#231f20" stroke-width="0.9" />
<line x1="441.10" y1="395.40" x2="449.70" y2="395.40" stroke="#231f20" stroke-width="0.9" />
<line x1="436.70" y1="379.30" x2="454.10" y2="379.30" stroke="#231f20" stroke-width="1.0" />
<path d="M418.50,408.90 L420.00,411.60 L417.00,411.60 Z" fill="#e0203f" stroke="none" stroke-width="1" />
<circle cx="416.20" cy="415.00" r="1.35" fill="#1d4e96" />
<circle cx="419.80" cy="418.50" r="1.35" fill="#1d4e96" />
<circle cx="418.10" cy="436.50" r="1.10" fill="#2fc23a" />
<path d="M445.50,358.30 L447.00,361.00 L444.00,361.00 Z" fill="#e0203f" stroke="none" stroke-width="1" />
<path d="M445.90,366.00 L447.40,368.70 L444.40,368.70 Z" fill="#e0203f" stroke="none" stroke-width="1" />
<circle cx="443.60" cy="375.80" r="1.35" fill="#1d4e96" />
<circle cx="447.30" cy="377.60" r="1.10" fill="#2fc23a" />
<circle cx="445.50" cy="395.40" r="1.35" fill="#1d4e96" />
<circle cx="445.50" cy="401.20" r="1.10" fill="#2fc23a" />
<path d="M462.30,356.20 L463.60,358.54 L461.00,358.54 Z" fill="#e0203f" stroke="none" stroke-width="1" />
<circle cx="462.30" cy="367.30" r="1.35" fill="#1d4e96" />
<circle cx="462.30" cy="376.50" r="1.10" fill="#2fc23a" />
<text x="465.80" y="359.90" font-size="7.5" text-anchor="start" font-weight="normal" font-style="normal" fill="#231f20" textLength="41.5" lengthAdjust="spacingAndGlyphs" >Patient236</text>
<text x="465.80" y="369.90" font-size="7.5" text-anchor="start" font-weight="normal" font-style="normal" fill="#231f20" textLength="41.5" lengthAdjust="spacingAndGlyphs" >Patient242</text>
<text x="465.80" y="379.70" font-size="7.5" text-anchor="start" font-weight="normal" font-style="normal" fill="#231f20" textLength="41.5" lengthAdjust="spacingAndGlyphs" >Patient237</text>
<text transform="translate(416.60,458.20) rotate(-45)" x="0" y="0" font-size="7.9" text-anchor="end" font-weight="normal" font-style="normal" fill="#231f20" class="xl">HSPC-like</text>
<text transform="translate(424.60,465.50) rotate(-45)" x="0" y="0" font-size="7.9" text-anchor="end" font-weight="normal" font-style="normal" fill="#231f20" class="xl">cells</text>
<text transform="translate(445.60,457.40) rotate(-45)" x="0" y="0" font-size="7.9" text-anchor="end" font-weight="normal" font-style="normal" fill="#231f20" class="xl">CD19+</text>
<text transform="translate(452.60,462.20) rotate(-45)" x="0" y="0" font-size="7.9" text-anchor="end" font-weight="normal" font-style="normal" fill="#231f20" class="xl">blasts</text>
<g class="ns">
<path d="M171.56,579.95 A74.9,74.9 0 0 0 25.35,572.04" fill="none" stroke="#9c79b6" stroke-width="2.3" />
<path d="M23.21,583.06 A74.9,74.9 0 0 0 43.36,643.45" fill="none" stroke="#d9687f" stroke-width="2.3" />
<path d="M51.38,650.74 A74.9,74.9 0 0 0 134.94,656.73" fill="none" stroke="#5f8fbd" stroke-width="2.3" />
<path d="M146.04,648.92 A74.9,74.9 0 0 0 172.49,592.98" fill="none" stroke="#6ec2ea" stroke-width="2.3" />
<path d="M153.06,580.52 A56.6,56.6 0 0 0 43.92,573.84" fill="none" stroke="#e58a9a" stroke-width="0.8" />
<path d="M41.26,586.38 A56.6,56.6 0 0 0 41.01,592.79" fill="none" stroke="#222" stroke-width="0.9" />
<path d="M41.05,594.27 A56.6,56.6 0 0 0 42.68,605.49" fill="none" stroke="#222" stroke-width="0.9" />
<path d="M43.06,606.93 A56.6,56.6 0 0 0 45.89,614.82" fill="none" stroke="#222" stroke-width="0.9" />
<path d="M46.30,615.72 A56.6,56.6 0 0 0 50.68,623.45" fill="none" stroke="#222" stroke-width="0.9" />
<path d="M51.52,624.67 A56.6,56.6 0 0 0 56.21,630.40" fill="none" stroke="#222" stroke-width="0.9" />
<path d="M65.95,638.72 A56.6,56.6 0 0 0 71.90,642.23" fill="none" stroke="#222" stroke-width="0.9" />
<path d="M72.79,642.67 A56.6,56.6 0 0 0 83.91,646.72" fill="none" stroke="#222" stroke-width="0.9" />
<path d="M84.87,646.95 A56.6,56.6 0 0 0 93.65,648.26" fill="none" stroke="#222" stroke-width="0.9" />
<path d="M94.64,648.32 A56.6,56.6 0 0 0 99.58,648.37" fill="none" stroke="#222" stroke-width="0.9" />
<path d="M101.06,648.29 A56.6,56.6 0 0 0 107.43,647.54" fill="none" stroke="#222" stroke-width="0.9" />
<path d="M108.40,647.36 A56.6,56.6 0 0 0 111.29,646.72" fill="none" stroke="#222" stroke-width="0.9" />
<path d="M113.20,646.21 A56.6,56.6 0 0 0 124.17,641.77" fill="none" stroke="#222" stroke-width="0.9" />
<path d="M101.06,648.29 A56.6,56.6 0 0 0 107.43,647.54" fill="none" stroke="#e58a9a" stroke-width="0.9" />
<path d="M134.73,634.52 A56.6,56.6 0 0 0 142.80,625.86" fill="none" stroke="#222" stroke-width="0.9" />
<path d="M143.68,624.67 A56.6,56.6 0 0 0 148.03,617.50" fill="none" stroke="#222" stroke-width="0.9" />
<path d="M148.69,616.17 A56.6,56.6 0 0 0 151.12,610.23" fill="none" stroke="#222" stroke-width="0.9" />
<path d="M151.43,609.29 A56.6,56.6 0 0 0 152.52,605.49" fill="none" stroke="#222" stroke-width="0.9" />
<path d="M152.75,604.53 A56.6,56.6 0 0 0 154.18,593.28" fill="none" stroke="#222" stroke-width="0.9" />
<path d="M151.43,609.29 A56.6,56.6 0 0 0 152.52,605.49" fill="none" stroke="#e58a9a" stroke-width="0.9" />
<path d="M54.88,555.59 Q95.25,592.98 100.65,641.31" fill="none" stroke="#b3b3b3" stroke-width="1.05" />
<path d="M101.01,644.49 L98.95,640.90 L102.23,640.53 Z" fill="#b3b3b3" stroke="none" stroke-width="1" />
<path d="M60.71,549.66 Q98.60,590.25 145.09,606.12" fill="none" stroke="#b3b3b3" stroke-width="1.05" />
<path d="M148.12,607.15 L143.99,607.48 L145.06,604.36 Z" fill="#b3b3b3" stroke="none" stroke-width="1" />
<path d="M67.36,544.67 Q96.24,592.30 104.25,640.95" fill="none" stroke="#b3b3b3" stroke-width="1.05" />
<path d="M104.77,644.11 L102.52,640.63 L105.78,640.09 Z" fill="#b3b3b3" stroke="none" stroke-width="1" />
<path d="M94.78,535.87 Q98.14,591.73 108.03,640.29" fill="none" stroke="#b3b3b3" stroke-width="1.05" />
<path d="M108.67,643.43 L106.29,640.03 L109.53,639.37 Z" fill="#b3b3b3" stroke="none" stroke-width="1" />
<path d="M44.65,573.57 Q94.39,594.07 96.97,641.40" fill="none" stroke="#7cc9ec" stroke-width="1.05" />
<path d="M97.14,644.60 L95.29,640.89 L98.58,640.71 Z" fill="#7cc9ec" stroke="none" stroke-width="1" />
<path d="M98.94,535.82 Q97.41,591.79 93.52,641.23" fill="none" stroke="#7cc9ec" stroke-width="1.05" />
<path d="M93.27,644.42 L91.93,640.50 L95.22,640.76 Z" fill="#7cc9ec" stroke="none" stroke-width="1" />
<path d="M103.09,536.07 Q97.23,591.74 87.18,640.29" fill="none" stroke="#7cc9ec" stroke-width="1.05" />
<path d="M86.53,643.43 L85.69,639.37 L88.92,640.04 Z" fill="#7cc9ec" stroke="none" stroke-width="1" />
<path d="M107.21,536.63 Q94.88,589.13 48.87,601.07" fill="none" stroke="#7cc9ec" stroke-width="1.05" />
<path d="M45.77,601.87 L49.03,599.32 L49.86,602.52 Z" fill="#7cc9ec" stroke="none" stroke-width="1" />
<path d="M111.28,537.50 Q97.23,591.68 79.96,638.16" fill="none" stroke="#7cc9ec" stroke-width="1.05" />
<path d="M78.85,641.16 L78.63,637.02 L81.72,638.17 Z" fill="#7cc9ec" stroke="none" stroke-width="1" />
<path d="M115.28,538.66 Q101.58,590.28 140.79,616.20" fill="none" stroke="#7cc9ec" stroke-width="1.05" />
<path d="M143.46,617.96 L139.38,617.24 L141.20,614.49 Z" fill="#7cc9ec" stroke="none" stroke-width="1" />
<path d="M119.17,540.12 Q95.56,589.11 48.34,597.66" fill="none" stroke="#7cc9ec" stroke-width="1.05" />
<path d="M45.19,598.23 L48.64,595.93 L49.23,599.18 Z" fill="#7cc9ec" stroke="none" stroke-width="1" />
<path d="M122.95,541.87 Q98.18,592.03 83.71,639.42" fill="none" stroke="#7cc9ec" stroke-width="1.05" />
<path d="M82.78,642.48 L82.31,638.36 L85.47,639.32 Z" fill="#7cc9ec" stroke="none" stroke-width="1" />
<path d="M126.59,543.89 Q102.11,590.82 138.70,619.58" fill="none" stroke="#7cc9ec" stroke-width="1.05" />
<path d="M141.22,621.55 L137.21,620.50 L139.25,617.91 Z" fill="#7cc9ec" stroke="none" stroke-width="1" />
<path d="M130.06,546.17 Q96.19,589.00 48.01,590.76" fill="none" stroke="#7cc9ec" stroke-width="1.05" />
<path d="M44.81,590.88 L48.55,589.09 L48.67,592.39 Z" fill="#7cc9ec" stroke="none" stroke-width="1" />
<path d="M133.36,548.70 Q96.39,589.39 48.06,594.24" fill="none" stroke="#7cc9ec" stroke-width="1.05" />
<path d="M44.87,594.56 L48.49,592.54 L48.82,595.83 Z" fill="#7cc9ec" stroke="none" stroke-width="1" />
<path d="M136.46,551.48 Q98.07,592.18 70.18,633.13" fill="none" stroke="#7cc9ec" stroke-width="1.05" />
<path d="M68.38,635.78 L69.16,631.71 L71.88,633.57 Z" fill="#7cc9ec" stroke="none" stroke-width="1" />
<path d="M139.35,554.47 Q98.43,592.47 72.93,634.83" fill="none" stroke="#7cc9ec" stroke-width="1.05" />
<path d="M71.28,637.57 L71.83,633.47 L74.65,635.17 Z" fill="#7cc9ec" stroke="none" stroke-width="1" />
<path d="M142.00,557.68 Q102.78,591.98 134.84,624.57" fill="none" stroke="#7cc9ec" stroke-width="1.05" />
<path d="M137.08,626.86 L133.24,625.30 L135.59,622.99 Z" fill="#7cc9ec" stroke="none" stroke-width="1" />
<path d="M144.41,561.07 Q97.06,589.72 48.13,588.22" fill="none" stroke="#7cc9ec" stroke-width="1.05" />
<path d="M44.93,588.12 L48.78,586.58 L48.68,589.88 Z" fill="#7cc9ec" stroke="none" stroke-width="1" />
<path d="M146.57,564.63 Q99.11,593.21 76.59,636.73" fill="none" stroke="#7cc9ec" stroke-width="1.05" />
<path d="M75.12,639.57 L75.40,635.44 L78.33,636.96 Z" fill="#7cc9ec" stroke="none" stroke-width="1" />
<path d="M148.45,568.34 Q102.92,592.87 131.21,628.29" fill="none" stroke="#7cc9ec" stroke-width="1.05" />
<path d="M133.20,630.79 L129.54,628.85 L132.12,626.79 Z" fill="#7cc9ec" stroke="none" stroke-width="1" />
<path d="M150.05,572.18 Q102.80,593.28 128.04,630.97" fill="none" stroke="#7cc9ec" stroke-width="1.05" />
<path d="M129.82,633.63 L126.33,631.39 L129.07,629.56 Z" fill="#7cc9ec" stroke="none" stroke-width="1" />
<path d="M151.36,576.12 Q100.37,594.19 91.06,640.97" fill="none" stroke="#7cc9ec" stroke-width="1.05" />
<path d="M90.43,644.11 L89.56,640.06 L92.79,640.71 Z" fill="#7cc9ec" stroke="none" stroke-width="1" />
<path d="M152.38,580.16 Q103.96,592.46 143.04,611.69" fill="none" stroke="#7cc9ec" stroke-width="1.05" />
<path d="M145.91,613.11 L141.77,612.91 L143.23,609.95 Z" fill="#7cc9ec" stroke="none" stroke-width="1" />
<path d="M46.15,569.69 Q92.00,592.70 60.31,624.52" fill="none" stroke="#c6102f" stroke-width="1.05" />
<path d="M58.06,626.79 L59.57,622.93 L61.91,625.26 Z" fill="#c6102f" stroke="none" stroke-width="1" />
<path d="M47.93,565.93 Q96.24,593.19 121.40,635.32" fill="none" stroke="#c6102f" stroke-width="1.05" />
<path d="M123.04,638.07 L119.67,635.65 L122.51,633.96 Z" fill="#c6102f" stroke="none" stroke-width="1" />
<path d="M49.99,562.31 Q98.09,590.33 147.01,596.12" fill="none" stroke="#c6102f" stroke-width="1.05" />
<path d="M150.19,596.49 L146.22,597.69 L146.61,594.41 Z" fill="#c6102f" stroke="none" stroke-width="1" />
<path d="M52.31,558.86 Q92.16,591.80 57.34,620.79" fill="none" stroke="#c6102f" stroke-width="1.05" />
<path d="M54.88,622.84 L56.75,619.14 L58.86,621.67 Z" fill="#c6102f" stroke="none" stroke-width="1" />
<path d="M57.69,552.52 Q92.33,591.17 54.97,617.17" fill="none" stroke="#c6102f" stroke-width="1.05" />
<path d="M52.34,618.99 L54.52,615.47 L56.40,618.18 Z" fill="#c6102f" stroke="none" stroke-width="1" />
<path d="M63.94,547.04 Q92.56,590.58 52.88,613.27" fill="none" stroke="#c6102f" stroke-width="1.05" />
<path d="M50.10,614.86 L52.58,611.54 L54.22,614.41 Z" fill="#c6102f" stroke="none" stroke-width="1" />
<path d="M70.94,542.55 Q92.86,590.03 51.12,609.13" fill="none" stroke="#c6102f" stroke-width="1.05" />
<path d="M48.21,610.46 L50.98,607.38 L52.35,610.38 Z" fill="#c6102f" stroke="none" stroke-width="1" />
<path d="M74.67,540.71 Q97.23,591.94 112.49,639.11" fill="none" stroke="#c6102f" stroke-width="1.05" />
<path d="M113.48,642.16 L110.74,639.05 L113.88,638.03 Z" fill="#c6102f" stroke="none" stroke-width="1" />
<path d="M78.53,539.15 Q99.75,589.31 146.26,601.43" fill="none" stroke="#c6102f" stroke-width="1.05" />
<path d="M149.36,602.24 L145.26,602.87 L146.10,599.68 Z" fill="#c6102f" stroke="none" stroke-width="1" />
<path d="M82.49,537.88 Q100.05,588.59 147.21,592.03" fill="none" stroke="#c6102f" stroke-width="1.05" />
<path d="M150.40,592.26 L146.49,593.63 L146.73,590.34 Z" fill="#c6102f" stroke="none" stroke-width="1" />
<path d="M86.53,536.90 Q93.71,589.46 49.97,605.68" fill="none" stroke="#c6102f" stroke-width="1.05" />
<path d="M46.97,606.80 L49.96,603.93 L51.11,607.02 Z" fill="#c6102f" stroke="none" stroke-width="1" />
<path d="M90.64,536.23 Q98.50,591.56 117.03,637.44" fill="none" stroke="#c6102f" stroke-width="1.05" />
<path d="M118.23,640.40 L115.28,637.50 L118.34,636.26 Z" fill="#c6102f" stroke="none" stroke-width="1" />
<text transform="translate(97.60,591.80) rotate(25.00)" x="-74.30" y="0" dy="0.35em" font-size="7.0" text-anchor="start" fill="#231f20" textLength="17.73" lengthAdjust="spacingAndGlyphs">HLA-E</text>
<text transform="translate(97.60,591.80) rotate(33.50)" x="-74.30" y="0" dy="0.35em" font-size="7.0" text-anchor="start" fill="#231f20" textLength="12.38" lengthAdjust="spacingAndGlyphs">IL1B</text>
<text transform="translate(97.60,591.80) rotate(44.80)" x="-74.30" y="0" dy="0.35em" font-size="7.0" text-anchor="start" fill="#231f20" textLength="14.73" lengthAdjust="spacingAndGlyphs">SELL</text>
<text transform="translate(97.60,591.80) rotate(56.70)" x="-74.30" y="0" dy="0.35em" font-size="7.0" text-anchor="start" fill="#231f20" textLength="15.39" lengthAdjust="spacingAndGlyphs">CD34</text>
<text transform="translate(97.60,591.80) rotate(69.00)" x="-74.30" y="0" dy="0.35em" font-size="7.0" text-anchor="start" fill="#231f20" textLength="19.4" lengthAdjust="spacingAndGlyphs">TGFB1</text>
<text transform="translate(97.60,591.80) rotate(75.80)" x="-74.30" y="0" dy="0.35em" font-size="7.0" text-anchor="start" fill="#231f20" textLength="18.06" lengthAdjust="spacingAndGlyphs">HLA-C</text>
<text transform="translate(97.60,591.80) rotate(82.00)" x="-74.30" y="0" dy="0.35em" font-size="7.0" text-anchor="start" fill="#231f20" textLength="14.94" lengthAdjust="spacingAndGlyphs">LTBR</text>
<text transform="translate(97.60,591.80) rotate(87.80)" x="-74.30" y="0" dy="0.35em" font-size="7.0" text-anchor="start" fill="#231f20" textLength="23.42" lengthAdjust="spacingAndGlyphs">SELPLG</text>
<text transform="translate(97.60,591.80) rotate(-82.70)" x="56.60" y="0" dy="0.35em" font-size="7.0" text-anchor="start" fill="#231f20" textLength="18.74" lengthAdjust="spacingAndGlyphs">CD244</text>
<text transform="translate(97.60,591.80) rotate(-69.30)" x="56.60" y="0" dy="0.35em" font-size="7.0" text-anchor="start" fill="#231f20" textLength="30.44" lengthAdjust="spacingAndGlyphs">TNFRSF14</text>
<text transform="translate(97.60,591.80) rotate(-48.60)" x="56.60" y="0" dy="0.35em" font-size="7.0" text-anchor="start" fill="#231f20" textLength="18.4" lengthAdjust="spacingAndGlyphs">ICAM3</text>
<text transform="translate(97.60,591.80) rotate(-25.50)" x="56.60" y="0" dy="0.35em" font-size="7.0" text-anchor="start" fill="#231f20" textLength="18.4" lengthAdjust="spacingAndGlyphs">ICAM4</text>
<text transform="translate(97.60,591.80) rotate(-11.00)" x="56.60" y="0" dy="0.35em" font-size="7.0" text-anchor="start" fill="#231f20" textLength="25.76" lengthAdjust="spacingAndGlyphs">NECTIN2</text>
<text transform="translate(97.60,591.80) rotate(3.30)" x="-74.30" y="0" dy="0.35em" font-size="7.0" text-anchor="start" fill="#231f20" textLength="17.39" lengthAdjust="spacingAndGlyphs">ITGB2</text>
<text transform="translate(97.60,591.80) rotate(-5.40)" x="-74.30" y="0" dy="0.35em" font-size="7.0" text-anchor="start" fill="#231f20" textLength="17.39" lengthAdjust="spacingAndGlyphs">ITGAL</text>
<text transform="translate(97.60,591.80) rotate(-10.90)" x="-74.30" y="0" dy="0.35em" font-size="7.0" text-anchor="start" fill="#231f20" textLength="18.74" lengthAdjust="spacingAndGlyphs">CD160</text>
<text transform="translate(97.60,591.80) rotate(-16.50)" x="-74.30" y="0" dy="0.35em" font-size="7.0" text-anchor="start" fill="#231f20" textLength="15.39" lengthAdjust="spacingAndGlyphs">CD48</text>
<text transform="translate(97.60,591.80) rotate(-21.90)" x="-74.30" y="0" dy="0.35em" font-size="7.0" text-anchor="start" fill="#231f20" textLength="23.75" lengthAdjust="spacingAndGlyphs">TGFBR1</text>
<text transform="translate(97.60,591.80) rotate(-27.30)" x="-74.30" y="0" dy="0.35em" font-size="7.0" text-anchor="start" fill="#231f20" textLength="14.73" lengthAdjust="spacingAndGlyphs">SELL</text>
<text transform="translate(97.60,591.80) rotate(-32.60)" x="-74.30" y="0" dy="0.35em" font-size="7.0" text-anchor="start" fill="#231f20" textLength="23.42" lengthAdjust="spacingAndGlyphs">SELPLG</text>
<text transform="translate(97.60,591.80) rotate(-38.30)" x="-74.30" y="0" dy="0.35em" font-size="7.0" text-anchor="start" fill="#231f20" textLength="20.07" lengthAdjust="spacingAndGlyphs">ADRB2</text>
<text transform="translate(97.60,591.80) rotate(-43.30)" x="-74.30" y="0" dy="0.35em" font-size="7.0" text-anchor="start" fill="#231f20" textLength="19.41" lengthAdjust="spacingAndGlyphs">KLRC1</text>
<text transform="translate(97.60,591.80) rotate(-58.00)" x="-74.30" y="0" dy="0.35em" font-size="7.0" text-anchor="start" fill="#231f20" textLength="17.39" lengthAdjust="spacingAndGlyphs">ITGB2</text>
<text transform="translate(97.60,591.80) rotate(-66.00)" x="-74.30" y="0" dy="0.35em" font-size="7.0" text-anchor="start" fill="#231f20" textLength="17.39" lengthAdjust="spacingAndGlyphs">ITGAL</text>
<text transform="translate(97.60,591.80) rotate(-72.30)" x="-74.30" y="0" dy="0.35em" font-size="7.0" text-anchor="start" fill="#231f20" textLength="18.74" lengthAdjust="spacingAndGlyphs">CD160</text>
<text transform="translate(97.60,591.80) rotate(-77.20)" x="-74.30" y="0" dy="0.35em" font-size="7.0" text-anchor="start" fill="#231f20" textLength="15.39" lengthAdjust="spacingAndGlyphs">CD48</text>
<text transform="translate(97.60,591.80) rotate(-82.00)" x="-74.30" y="0" dy="0.35em" font-size="7.0" text-anchor="start" fill="#231f20" textLength="18.74" lengthAdjust="spacingAndGlyphs">CD226</text>
<text transform="translate(97.60,591.80) rotate(-88.80)" x="-74.30" y="0" dy="0.35em" font-size="7.0" text-anchor="start" fill="#231f20" textLength="19.41" lengthAdjust="spacingAndGlyphs">KLRC2</text>
<text transform="translate(97.60,591.80) rotate(-276.00)" x="56.60" y="0" dy="0.35em" font-size="7.0" text-anchor="start" fill="#231f20" textLength="14.73" lengthAdjust="spacingAndGlyphs">SELL</text>
<text transform="translate(97.60,591.80) rotate(-283.30)" x="56.60" y="0" dy="0.35em" font-size="7.0" text-anchor="start" fill="#231f20" textLength="23.42" lengthAdjust="spacingAndGlyphs">SELPLG</text>
<text transform="translate(97.60,591.80) rotate(-289.30)" x="56.60" y="0" dy="0.35em" font-size="7.0" text-anchor="start" fill="#231f20" textLength="23.75" lengthAdjust="spacingAndGlyphs">TGFBR1</text>
<text transform="translate(97.60,591.80) rotate(-294.80)" x="56.60" y="0" dy="0.35em" font-size="7.0" text-anchor="start" fill="#231f20" textLength="10.59" lengthAdjust="spacingAndGlyphs">LTB</text>
<text transform="translate(97.60,591.80) rotate(-300.30)" x="56.60" y="0" dy="0.35em" font-size="7.0" text-anchor="start" fill="#231f20" textLength="19.41" lengthAdjust="spacingAndGlyphs">KLRC1</text>
<text transform="translate(97.60,591.80) rotate(-358.50)" x="56.60" y="0" dy="0.35em" font-size="7.0" text-anchor="start" fill="#231f20" textLength="24.43" lengthAdjust="spacingAndGlyphs">KIR2DL3</text>
<text transform="translate(97.60,591.80) rotate(-353.20)" x="56.60" y="0" dy="0.35em" font-size="7.0" text-anchor="start" fill="#231f20" textLength="19.41" lengthAdjust="spacingAndGlyphs">KLRC1</text>
<text transform="translate(97.60,591.80) rotate(-347.80)" x="56.60" y="0" dy="0.35em" font-size="7.0" text-anchor="start" fill="#231f20" textLength="23.75" lengthAdjust="spacingAndGlyphs">TGFBR1</text>
<text transform="translate(97.60,591.80) rotate(-342.30)" x="56.60" y="0" dy="0.35em" font-size="7.0" text-anchor="start" fill="#231f20" textLength="23.42" lengthAdjust="spacingAndGlyphs">SELPLG</text>
<text transform="translate(97.60,591.80) rotate(-336.50)" x="56.60" y="0" dy="0.35em" font-size="7.0" text-anchor="start" fill="#231f20" textLength="15.39" lengthAdjust="spacingAndGlyphs">CD48</text>
<text transform="translate(97.60,591.80) rotate(-330.80)" x="56.60" y="0" dy="0.35em" font-size="7.0" text-anchor="start" fill="#231f20" textLength="18.74" lengthAdjust="spacingAndGlyphs">CD160</text>
<text transform="translate(97.60,591.80) rotate(-323.50)" x="56.60" y="0" dy="0.35em" font-size="7.0" text-anchor="start" fill="#231f20" textLength="17.39" lengthAdjust="spacingAndGlyphs">ITGAL</text>
<text transform="translate(97.60,591.80) rotate(-315.50)" x="56.60" y="0" dy="0.35em" font-size="7.0" text-anchor="start" fill="#231f20" textLength="17.39" lengthAdjust="spacingAndGlyphs">ITGB2</text>
<text x="102.10" y="506.20" font-size="8.0" text-anchor="middle" font-weight="normal" font-style="normal" fill="#231f20" textLength="34.5" lengthAdjust="spacingAndGlyphs" >HSPC-like</text>
<text x="96.20" y="680.60" font-size="8.3" text-anchor="middle" font-weight="normal" font-style="normal" fill="#231f20" textLength="38.6" lengthAdjust="spacingAndGlyphs" >CD56+ NK</text>
<text transform="translate(19.00,628.00) rotate(61.5)" x="0" y="0" font-size="8.3" text-anchor="middle" font-weight="normal" font-style="normal" fill="#231f20" textLength="28.5" lengthAdjust="spacingAndGlyphs" dy="0.35em">CD8+ T</text>
<text transform="translate(172.30,632.30) rotate(-61.5)" x="0" y="0" font-size="8.3" text-anchor="middle" font-weight="normal" font-style="normal" fill="#231f20" textLength="37.5" lengthAdjust="spacingAndGlyphs" dy="0.35em">CD16+ NK</text>
<path d="M345.49,579.27 A75.5,75.5 0 0 0 197.21,573.44" fill="none" stroke="#f9b25a" stroke-width="2.3" />
<path d="M195.46,585.43 A75.5,75.5 0 0 0 221.07,647.11" fill="none" stroke="#d9687f" stroke-width="2.3" />
<path d="M230.35,654.05 A75.5,75.5 0 0 0 306.94,656.59" fill="none" stroke="#5f8fbd" stroke-width="2.3" />
<path d="M316.97,650.04 A75.5,75.5 0 0 0 346.30,590.30" fill="none" stroke="#6ec2ea" stroke-width="2.3" />
<path d="M327.10,581.38 A57.0,57.0 0 0 0 215.74,575.55" fill="none" stroke="#e58a9a" stroke-width="0.8" />
<path d="M213.94,586.32 A57.0,57.0 0 0 0 213.91,593.78" fill="none" stroke="#222" stroke-width="0.9" />
<path d="M214.02,595.27 A57.0,57.0 0 0 0 215.26,603.12" fill="none" stroke="#222" stroke-width="0.9" />
<path d="M215.62,604.57 A57.0,57.0 0 0 0 218.14,612.11" fill="none" stroke="#222" stroke-width="0.9" />
<path d="M218.73,613.48 A57.0,57.0 0 0 0 222.46,620.51" fill="none" stroke="#222" stroke-width="0.9" />
<path d="M223.27,621.76 A57.0,57.0 0 0 0 231.93,631.99" fill="none" stroke="#222" stroke-width="0.9" />
<path d="M215.62,604.57 A57.0,57.0 0 0 0 218.14,612.11" fill="none" stroke="#e58a9a" stroke-width="0.9" />
<path d="M239.76,638.10 A57.0,57.0 0 0 0 246.71,641.96" fill="none" stroke="#222" stroke-width="0.9" />
<path d="M248.07,642.57 A57.0,57.0 0 0 0 255.09,645.09" fill="none" stroke="#222" stroke-width="0.9" />
<path d="M256.53,645.48 A57.0,57.0 0 0 0 263.85,646.88" fill="none" stroke="#222" stroke-width="0.9" />
<path d="M265.34,647.04 A57.0,57.0 0 0 0 272.79,647.27" fill="none" stroke="#222" stroke-width="0.9" />
<path d="M274.28,647.19 A57.0,57.0 0 0 0 289.36,644.19" fill="none" stroke="#222" stroke-width="0.9" />
<path d="M290.76,643.69 A57.0,57.0 0 0 0 297.56,640.63" fill="none" stroke="#222" stroke-width="0.9" />
<path d="M256.53,645.48 A57.0,57.0 0 0 0 263.85,646.88" fill="none" stroke="#e58a9a" stroke-width="0.9" />
<path d="M305.50,635.52 A57.0,57.0 0 0 0 311.80,629.90" fill="none" stroke="#222" stroke-width="0.9" />
<path d="M312.82,628.81 A57.0,57.0 0 0 0 317.49,622.99" fill="none" stroke="#222" stroke-width="0.9" />
<path d="M318.33,621.76 A57.0,57.0 0 0 0 322.03,615.29" fill="none" stroke="#222" stroke-width="0.9" />
<path d="M322.67,613.94 A57.0,57.0 0 0 0 325.86,605.05" fill="none" stroke="#222" stroke-width="0.9" />
<path d="M326.23,603.61 A57.0,57.0 0 0 0 327.79,591.29" fill="none" stroke="#222" stroke-width="0.9" />
<path d="M318.33,621.76 A57.0,57.0 0 0 0 322.03,615.29" fill="none" stroke="#e58a9a" stroke-width="0.9" />
<path d="M228.71,551.86 Q270.36,590.63 292.43,635.71" fill="none" stroke="#b3b3b3" stroke-width="1.05" />
<path d="M293.83,638.59 L290.68,635.90 L293.64,634.45 Z" fill="#b3b3b3" stroke="none" stroke-width="1" />
<path d="M217.07,571.27 Q269.63,591.24 276.85,640.24" fill="none" stroke="#b3b3b3" stroke-width="1.05" />
<path d="M277.32,643.40 L275.13,639.88 L278.40,639.40 Z" fill="#b3b3b3" stroke="none" stroke-width="1" />
<path d="M216.15,574.11 Q270.83,590.18 320.06,600.49" fill="none" stroke="#b3b3b3" stroke-width="1.05" />
<path d="M323.19,601.15 L319.13,601.99 L319.81,598.76 Z" fill="#b3b3b3" stroke="none" stroke-width="1" />
<path d="M235.71,545.38 Q268.91,590.18 235.05,625.68" fill="none" stroke="#7cc9ec" stroke-width="1.05" />
<path d="M232.84,628.00 L234.27,624.11 L236.65,626.39 Z" fill="#7cc9ec" stroke="none" stroke-width="1" />
<path d="M241.96,541.14 Q270.38,590.46 281.23,639.51" fill="none" stroke="#7cc9ec" stroke-width="1.05" />
<path d="M281.92,642.63 L279.49,639.28 L282.71,638.56 Z" fill="#7cc9ec" stroke="none" stroke-width="1" />
<path d="M249.45,537.45 Q271.69,589.08 320.98,593.73" fill="none" stroke="#7cc9ec" stroke-width="1.05" />
<path d="M324.17,594.03 L320.23,595.32 L320.54,592.03 Z" fill="#7cc9ec" stroke="none" stroke-width="1" />
<path d="M257.40,534.90 Q269.18,589.54 225.48,612.12" fill="none" stroke="#7cc9ec" stroke-width="1.05" />
<path d="M222.63,613.58 L225.25,610.37 L226.77,613.31 Z" fill="#7cc9ec" stroke="none" stroke-width="1" />
<path d="M266.13,533.49 Q270.63,590.30 269.03,640.57" fill="none" stroke="#7cc9ec" stroke-width="1.05" />
<path d="M268.93,643.77 L267.40,639.92 L270.70,640.02 Z" fill="#7cc9ec" stroke="none" stroke-width="1" />
<path d="M273.78,533.38 Q272.20,589.39 317.79,608.25" fill="none" stroke="#7cc9ec" stroke-width="1.05" />
<path d="M320.75,609.47 L316.60,609.54 L317.87,606.50 Z" fill="#7cc9ec" stroke="none" stroke-width="1" />
<path d="M281.97,534.40 Q269.65,588.90 220.50,590.21" fill="none" stroke="#7cc9ec" stroke-width="1.05" />
<path d="M217.30,590.30 L221.05,588.55 L221.14,591.85 Z" fill="#7cc9ec" stroke="none" stroke-width="1" />
<path d="M289.92,536.60 Q269.91,589.35 222.43,604.10" fill="none" stroke="#7cc9ec" stroke-width="1.05" />
<path d="M219.37,605.05 L222.51,602.34 L223.49,605.50 Z" fill="#7cc9ec" stroke="none" stroke-width="1" />
<path d="M297.38,539.88 Q270.80,590.30 247.19,634.71" fill="none" stroke="#7cc9ec" stroke-width="1.05" />
<path d="M245.68,637.54 L246.01,633.41 L248.92,634.96 Z" fill="#7cc9ec" stroke="none" stroke-width="1" />
<path d="M304.70,544.48 Q271.38,590.55 261.24,639.68" fill="none" stroke="#7cc9ec" stroke-width="1.05" />
<path d="M260.59,642.82 L259.74,638.76 L262.98,639.43 Z" fill="#7cc9ec" stroke="none" stroke-width="1" />
<path d="M311.59,550.49 Q272.78,590.36 304.85,627.33" fill="none" stroke="#7cc9ec" stroke-width="1.05" />
<path d="M306.94,629.74 L303.21,627.95 L305.70,625.79 Z" fill="#7cc9ec" stroke="none" stroke-width="1" />
<path d="M317.09,557.04 Q273.18,590.20 314.05,615.99" fill="none" stroke="#7cc9ec" stroke-width="1.05" />
<path d="M316.75,617.69 L312.66,617.06 L314.42,614.27 Z" fill="#7cc9ec" stroke="none" stroke-width="1" />
<path d="M321.17,563.63 Q270.65,589.86 221.11,598.14" fill="none" stroke="#7cc9ec" stroke-width="1.05" />
<path d="M217.96,598.67 L221.43,596.41 L221.98,599.67 Z" fill="#7cc9ec" stroke="none" stroke-width="1" />
<path d="M324.16,570.25 Q271.65,591.14 253.66,637.59" fill="none" stroke="#7cc9ec" stroke-width="1.05" />
<path d="M252.50,640.57 L252.34,636.43 L255.41,637.63 Z" fill="#7cc9ec" stroke="none" stroke-width="1" />
<path d="M326.13,576.61 Q273.29,590.85 310.05,621.76" fill="none" stroke="#7cc9ec" stroke-width="1.05" />
<path d="M312.49,623.82 L308.52,622.64 L310.65,620.11 Z" fill="#7cc9ec" stroke="none" stroke-width="1" />
<path d="M223.00,559.26 Q268.46,590.37 230.26,620.08" fill="none" stroke="#c6102f" stroke-width="1.05" />
<path d="M227.74,622.05 L229.72,618.41 L231.75,621.02 Z" fill="#c6102f" stroke="none" stroke-width="1" />
<text transform="translate(270.80,590.30) rotate(25.00)" x="-75.20" y="0" dy="0.35em" font-size="7.0" text-anchor="start" fill="#231f20" textLength="23.09" lengthAdjust="spacingAndGlyphs">PLXNB2</text>
<text transform="translate(270.80,590.30) rotate(42.60)" x="-75.20" y="0" dy="0.35em" font-size="7.0" text-anchor="start" fill="#231f20" textLength="19.4" lengthAdjust="spacingAndGlyphs">EFNB2</text>
<text transform="translate(270.80,590.30) rotate(59.00)" x="-75.20" y="0" dy="0.35em" font-size="7.0" text-anchor="start" fill="#231f20" textLength="15.39" lengthAdjust="spacingAndGlyphs">CD72</text>
<text transform="translate(270.80,590.30) rotate(84.30)" x="-75.20" y="0" dy="0.35em" font-size="7.0" text-anchor="start" fill="#231f20" textLength="15.39" lengthAdjust="spacingAndGlyphs">CD59</text>
<text transform="translate(270.80,590.30) rotate(-59.50)" x="57.80" y="0" dy="0.35em" font-size="7.0" text-anchor="start" fill="#231f20" textLength="18.4" lengthAdjust="spacingAndGlyphs">ICAM2</text>
<text transform="translate(270.80,590.30) rotate(-20.20)" x="57.80" y="0" dy="0.35em" font-size="7.0" text-anchor="start" fill="#231f20" textLength="17.39" lengthAdjust="spacingAndGlyphs">ITGAL</text>
<text transform="translate(270.80,590.30) rotate(1.00)" x="-75.20" y="0" dy="0.35em" font-size="7.0" text-anchor="start" fill="#231f20" textLength="17.39" lengthAdjust="spacingAndGlyphs">ITGB2</text>
<text transform="translate(270.80,590.30) rotate(-8.30)" x="-75.20" y="0" dy="0.35em" font-size="7.0" text-anchor="start" fill="#231f20" textLength="18.4" lengthAdjust="spacingAndGlyphs">ICAM3</text>
<text transform="translate(270.80,590.30) rotate(-18.80)" x="-75.20" y="0" dy="0.35em" font-size="7.0" text-anchor="start" fill="#231f20" textLength="17.39" lengthAdjust="spacingAndGlyphs">ITGAL</text>
<text transform="translate(270.80,590.30) rotate(-27.90)" x="-75.20" y="0" dy="0.35em" font-size="7.0" text-anchor="start" fill="#231f20" textLength="12.04" lengthAdjust="spacingAndGlyphs">CD2</text>
<text transform="translate(270.80,590.30) rotate(-39.20)" x="-75.20" y="0" dy="0.35em" font-size="7.0" text-anchor="start" fill="#231f20" textLength="24.76" lengthAdjust="spacingAndGlyphs">SEMA4D</text>
<text transform="translate(270.80,590.30) rotate(-60.80)" x="-75.20" y="0" dy="0.35em" font-size="7.0" text-anchor="start" fill="#231f20" textLength="17.39" lengthAdjust="spacingAndGlyphs">ITGB2</text>
<text transform="translate(270.80,590.30) rotate(-69.70)" x="-75.20" y="0" dy="0.35em" font-size="7.0" text-anchor="start" fill="#231f20" textLength="18.4" lengthAdjust="spacingAndGlyphs">ICAM3</text>
<text transform="translate(270.80,590.30) rotate(-79.20)" x="-75.20" y="0" dy="0.35em" font-size="7.0" text-anchor="start" fill="#231f20" textLength="17.39" lengthAdjust="spacingAndGlyphs">ITGAL</text>
<text transform="translate(270.80,590.30) rotate(-88.20)" x="-75.20" y="0" dy="0.35em" font-size="7.0" text-anchor="start" fill="#231f20" textLength="12.04" lengthAdjust="spacingAndGlyphs">CD2</text>
<text transform="translate(270.80,590.30) rotate(-281.10)" x="57.80" y="0" dy="0.35em" font-size="7.0" text-anchor="start" fill="#231f20" textLength="24.76" lengthAdjust="spacingAndGlyphs">SEMA4D</text>
<text transform="translate(270.80,590.30) rotate(-295.40)" x="57.80" y="0" dy="0.35em" font-size="7.0" text-anchor="start" fill="#231f20" textLength="19.74" lengthAdjust="spacingAndGlyphs">EPHA4</text>
<text transform="translate(270.80,590.30) rotate(-352.40)" x="57.80" y="0" dy="0.35em" font-size="7.0" text-anchor="start" fill="#231f20" textLength="24.76" lengthAdjust="spacingAndGlyphs">SEMA4D</text>
<text transform="translate(270.80,590.30) rotate(-340.20)" x="57.80" y="0" dy="0.35em" font-size="7.0" text-anchor="start" fill="#231f20" textLength="12.04" lengthAdjust="spacingAndGlyphs">CD2</text>
<text transform="translate(270.80,590.30) rotate(-329.90)" x="57.80" y="0" dy="0.35em" font-size="7.0" text-anchor="start" fill="#231f20" textLength="17.39" lengthAdjust="spacingAndGlyphs">ITGAL</text>
<text transform="translate(270.80,590.30) rotate(-320.70)" x="57.80" y="0" dy="0.35em" font-size="7.0" text-anchor="start" fill="#231f20" textLength="18.4" lengthAdjust="spacingAndGlyphs">ICAM3</text>
<text transform="translate(270.80,590.30) rotate(-311.20)" x="57.80" y="0" dy="0.35em" font-size="7.0" text-anchor="start" fill="#231f20" textLength="17.39" lengthAdjust="spacingAndGlyphs">ITGB2</text>
<text x="272.50" y="506.20" font-size="8.0" text-anchor="middle" font-weight="normal" font-style="normal" fill="#231f20" textLength="44.2" lengthAdjust="spacingAndGlyphs" >CD19+ blasts</text>
<text x="271.50" y="680.60" font-size="8.3" text-anchor="middle" font-weight="normal" font-style="normal" fill="#231f20" textLength="38.6" lengthAdjust="spacingAndGlyphs" >CD56+ NK</text>
<text transform="translate(195.50,625.00) rotate(63)" x="0" y="0" font-size="8.3" text-anchor="middle" font-weight="normal" font-style="normal" fill="#231f20" textLength="28.5" lengthAdjust="spacingAndGlyphs" dy="0.35em">CD8+ T</text>
<text transform="translate(347.60,632.40) rotate(-61.5)" x="0" y="0" font-size="8.3" text-anchor="middle" font-weight="normal" font-style="normal" fill="#231f20" textLength="37.5" lengthAdjust="spacingAndGlyphs" dy="0.35em">CD16+ NK</text>
</g>
<line x1="395.30" y1="509.60" x2="395.30" y2="644.90" stroke="#231f20" stroke-width="1.1" />
<line x1="394.80" y1="644.40" x2="476.20" y2="644.40" stroke="#231f20" stroke-width="1.1" />
<line x1="391.70" y1="638.20" x2="395.30" y2="638.20" stroke="#231f20" stroke-width="0.9" />
<text x="389.60" y="640.90" font-size="7.6" text-anchor="end" font-weight="normal" font-style="normal" fill="#231f20" >0</text>
<line x1="391.70" y1="606.55" x2="395.30" y2="606.55" stroke="#231f20" stroke-width="0.9" />
<text x="389.60" y="609.25" font-size="7.6" text-anchor="end" font-weight="normal" font-style="normal" fill="#231f20" >1</text>
<line x1="391.70" y1="574.90" x2="395.30" y2="574.90" stroke="#231f20" stroke-width="0.9" />
<text x="389.60" y="577.60" font-size="7.6" text-anchor="end" font-weight="normal" font-style="normal" fill="#231f20" >2</text>
<line x1="391.70" y1="543.25" x2="395.30" y2="543.25" stroke="#231f20" stroke-width="0.9" />
<text x="389.60" y="545.95" font-size="7.6" text-anchor="end" font-weight="normal" font-style="normal" fill="#231f20" >3</text>
<line x1="391.70" y1="511.60" x2="395.30" y2="511.60" stroke="#231f20" stroke-width="0.9" />
<text x="389.60" y="514.30" font-size="7.6" text-anchor="end" font-weight="normal" font-style="normal" fill="#231f20" >4</text>
<line x1="410.40" y1="644.40" x2="410.40" y2="647.80" stroke="#231f20" stroke-width="0.9" />
<line x1="436.20" y1="644.40" x2="436.20" y2="647.80" stroke="#231f20" stroke-width="0.9" />
<line x1="461.70" y1="644.40" x2="461.70" y2="647.80" stroke="#231f20" stroke-width="0.9" />
<rect x="399.20" y="521.10" width="11.60" height="117.11" fill="#ff8c00"/>
<rect x="410.80" y="593.57" width="11.10" height="44.63" fill="#5b2a6e"/>
<rect x="425.20" y="514.77" width="11.10" height="123.43" fill="#ff8c00"/>
<rect x="436.30" y="540.40" width="11.40" height="97.80" fill="#5b2a6e"/>
<rect x="450.20" y="531.22" width="11.50" height="106.98" fill="#ff8c00"/>
<rect x="461.70" y="634.24" width="11.60" height="3.96" fill="#5b2a6e"/>
<rect x="458.80" y="508.40" width="6.30" height="5.40" fill="#ff8c00"/>
<rect x="458.80" y="517.30" width="6.30" height="5.50" fill="#5b2a6e"/>
<text x="466.60" y="513.40" font-size="7.6" text-anchor="start" font-weight="normal" font-style="normal" fill="#231f20" textLength="46.3" lengthAdjust="spacingAndGlyphs" >CD19+ blasts</text>
<text x="466.60" y="522.40" font-size="7.6" text-anchor="start" font-weight="normal" font-style="normal" fill="#231f20" textLength="34.3" lengthAdjust="spacingAndGlyphs" >HSPC-like</text>
<text transform="translate(380.50,576.20) rotate(-90)" x="0" y="0" font-size="8.4" text-anchor="middle" font-weight="normal" font-style="normal" fill="#231f20" textLength="118.5" lengthAdjust="spacingAndGlyphs" >Cytotoxicity score based on L-R pairs</text>
<text transform="translate(412.30,654.80) rotate(-45)" x="0" y="0" font-size="7.9" text-anchor="end" font-weight="normal" font-style="normal" fill="#231f20" class="xl">CD16+ NK</text>
<text transform="translate(438.30,654.80) rotate(-45)" x="0" y="0" font-size="7.9" text-anchor="end" font-weight="normal" font-style="normal" fill="#231f20" class="xl">CD56+ NK</text>
<text transform="translate(464.30,654.80) rotate(-45)" x="0" y="0" font-size="7.9" text-anchor="end" font-weight="normal" font-style="normal" fill="#231f20" class="xl">CD8+ T</text>
<rect x="0.5" y="0.5" width="519" height="687" fill="none" stroke="#000" stroke-width="1.2"/>
</svg>
</body></html>
